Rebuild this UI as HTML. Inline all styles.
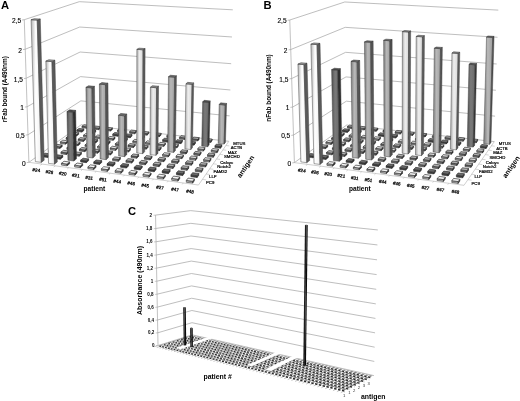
<!DOCTYPE html>
<html><head><meta charset="utf-8"><style>
html,body{margin:0;padding:0;background:#fff;}
svg{display:block;filter:blur(0.3px);}
text{font-family:"Liberation Sans",sans-serif;fill:#000;}
.big{font-size:11.2px;font-weight:bold;}
.tl{font-size:6.6px;stroke:#000;stroke-width:0.12px;}
.pl{font-size:4.6px;stroke:#000;stroke-width:0.25px;}
.al{font-size:4.3px;stroke:#000;stroke-width:0.2px;}
.ax{font-size:6.6px;font-weight:bold;}
.ax2{font-size:7.0px;font-weight:bold;}
.yl{font-size:6.4px;font-weight:bold;}
.tc{font-size:4.5px;font-weight:bold;}
.tc2{font-size:4.2px;fill:#333;}
.yc{font-size:7.0px;font-weight:bold;}
.axc{font-size:6.9px;font-weight:bold;}
</style></head>
<body><svg width="520" height="401" viewBox="0 0 520 401">
<rect width="520" height="401" fill="#fff"/>
<defs><linearGradient id="gW" x1="0" y1="0" x2="1" y2="0"><stop offset="0" stop-color="#b4b4b4"/><stop offset="0.45" stop-color="#ffffff"/><stop offset="1" stop-color="#f0f0f0"/></linearGradient><linearGradient id="gL" x1="0" y1="0" x2="1" y2="0"><stop offset="0" stop-color="#a8a8a8"/><stop offset="0.45" stop-color="#eeeeee"/><stop offset="1" stop-color="#d8d8d8"/></linearGradient><linearGradient id="gM" x1="0" y1="0" x2="1" y2="0"><stop offset="0" stop-color="#7a7a7a"/><stop offset="0.45" stop-color="#b8b8b8"/><stop offset="1" stop-color="#a0a0a0"/></linearGradient><linearGradient id="gD" x1="0" y1="0" x2="1" y2="0"><stop offset="0" stop-color="#505050"/><stop offset="0.45" stop-color="#7a7a7a"/><stop offset="1" stop-color="#6a6a6a"/></linearGradient></defs>
<polyline points="28.90,162.32 81.24,124.74 228.82,141.32" fill="none" stroke="#a2a2a2" stroke-width="0.7"/>
<polyline points="28.01,134.78 80.87,100.86 229.59,115.86" fill="none" stroke="#a2a2a2" stroke-width="0.7"/>
<polyline points="27.10,106.77 80.49,76.62 230.37,89.98" fill="none" stroke="#a2a2a2" stroke-width="0.7"/>
<polyline points="26.18,78.26 80.10,52.02 231.16,63.69" fill="none" stroke="#a2a2a2" stroke-width="0.7"/>
<polyline points="25.24,49.24 79.70,27.04 231.97,36.97" fill="none" stroke="#a2a2a2" stroke-width="0.7"/>
<polyline points="24.28,19.71 79.31,1.68 232.79,9.82" fill="none" stroke="#a2a2a2" stroke-width="0.7"/>
<line x1="28.90" y1="162.32" x2="24.28" y2="19.71" stroke="#a8a8a8" stroke-width="0.7"/>
<line x1="28.90" y1="162.32" x2="198.49" y2="185.02" stroke="#b0b0b0" stroke-width="0.6"/>
<line x1="198.49" y1="185.02" x2="228.82" y2="141.32" stroke="#b0b0b0" stroke-width="0.6"/>
<line x1="26.70" y1="162.62" x2="28.90" y2="162.32" stroke="#999" stroke-width="0.6"/>
<line x1="25.81" y1="135.08" x2="28.01" y2="134.78" stroke="#999" stroke-width="0.6"/>
<line x1="24.90" y1="107.07" x2="27.10" y2="106.77" stroke="#999" stroke-width="0.6"/>
<line x1="23.98" y1="78.56" x2="26.18" y2="78.26" stroke="#999" stroke-width="0.6"/>
<line x1="23.04" y1="49.54" x2="25.24" y2="49.24" stroke="#999" stroke-width="0.6"/>
<line x1="22.08" y1="20.01" x2="24.28" y2="19.71" stroke="#999" stroke-width="0.6"/>
<line x1="42.02" y1="164.08" x2="40.37" y2="165.31" stroke="#aaa" stroke-width="0.5"/>
<line x1="55.32" y1="165.86" x2="53.72" y2="167.11" stroke="#aaa" stroke-width="0.5"/>
<line x1="68.79" y1="167.66" x2="67.24" y2="168.93" stroke="#aaa" stroke-width="0.5"/>
<line x1="82.43" y1="169.49" x2="80.94" y2="170.77" stroke="#aaa" stroke-width="0.5"/>
<line x1="96.26" y1="171.34" x2="94.83" y2="172.64" stroke="#aaa" stroke-width="0.5"/>
<line x1="110.28" y1="173.21" x2="108.90" y2="174.54" stroke="#aaa" stroke-width="0.5"/>
<line x1="124.49" y1="175.11" x2="123.16" y2="176.46" stroke="#aaa" stroke-width="0.5"/>
<line x1="138.88" y1="177.04" x2="137.62" y2="178.40" stroke="#aaa" stroke-width="0.5"/>
<line x1="153.48" y1="179.00" x2="152.28" y2="180.38" stroke="#aaa" stroke-width="0.5"/>
<line x1="168.28" y1="180.98" x2="167.15" y2="182.38" stroke="#aaa" stroke-width="0.5"/>
<line x1="183.28" y1="182.99" x2="182.21" y2="184.40" stroke="#aaa" stroke-width="0.5"/>
<line x1="202.39" y1="179.41" x2="206.16" y2="179.90" stroke="#aaa" stroke-width="0.5"/>
<line x1="206.14" y1="174.01" x2="209.84" y2="174.49" stroke="#aaa" stroke-width="0.5"/>
<line x1="209.74" y1="168.82" x2="213.38" y2="169.27" stroke="#aaa" stroke-width="0.5"/>
<line x1="213.21" y1="163.81" x2="216.79" y2="164.25" stroke="#aaa" stroke-width="0.5"/>
<line x1="216.56" y1="158.99" x2="220.08" y2="159.41" stroke="#aaa" stroke-width="0.5"/>
<line x1="219.79" y1="154.34" x2="223.25" y2="154.75" stroke="#aaa" stroke-width="0.5"/>
<line x1="222.90" y1="149.85" x2="226.31" y2="150.24" stroke="#aaa" stroke-width="0.5"/>
<line x1="225.91" y1="145.51" x2="229.26" y2="145.90" stroke="#aaa" stroke-width="0.5"/>
<polygon points="81.96,127.81 86.86,128.36 86.83,126.82 81.93,126.27" fill="#707070" stroke="#2a2a2a" stroke-width="0.55" stroke-linejoin="round"/>
<polygon points="86.86,128.36 88.93,126.82 88.91,125.29 86.83,126.82" fill="#333" stroke="#2a2a2a" stroke-width="0.55" stroke-linejoin="round"/>
<polygon points="81.93,126.27 86.83,126.82 88.91,125.29 84.04,124.74" fill="#b0b0b0" stroke="#2a2a2a" stroke-width="0.65" stroke-linejoin="round"/>
<polygon points="93.66,129.14 98.62,129.70 98.60,128.15 93.64,127.59" fill="#707070" stroke="#2a2a2a" stroke-width="0.55" stroke-linejoin="round"/>
<polygon points="98.62,129.70 100.63,128.14 100.61,126.60 98.60,128.15" fill="#333" stroke="#2a2a2a" stroke-width="0.55" stroke-linejoin="round"/>
<polygon points="93.64,127.59 98.60,128.15 100.61,126.60 95.68,126.05" fill="#b0b0b0" stroke="#2a2a2a" stroke-width="0.65" stroke-linejoin="round"/>
<polygon points="105.50,130.48 110.51,131.06 110.50,129.50 105.48,128.93" fill="#707070" stroke="#2a2a2a" stroke-width="0.55" stroke-linejoin="round"/>
<polygon points="110.51,131.06 112.45,129.48 112.44,127.93 110.50,129.50" fill="#333" stroke="#2a2a2a" stroke-width="0.55" stroke-linejoin="round"/>
<polygon points="105.48,128.93 110.50,129.50 112.44,127.93 107.46,127.37" fill="#b0b0b0" stroke="#2a2a2a" stroke-width="0.65" stroke-linejoin="round"/>
<polygon points="76.83,131.55 81.79,132.12 81.77,130.56 76.80,129.99" fill="#454545" stroke="#2a2a2a" stroke-width="0.55" stroke-linejoin="round"/>
<polygon points="81.79,132.12 83.94,130.53 83.92,128.98 81.77,130.56" fill="#333" stroke="#2a2a2a" stroke-width="0.55" stroke-linejoin="round"/>
<polygon points="76.80,129.99 81.77,130.56 83.92,128.98 78.98,128.41" fill="#767676" stroke="#2a2a2a" stroke-width="0.65" stroke-linejoin="round"/>
<polygon points="117.47,131.85 122.54,132.42 122.53,130.86 117.46,130.29" fill="#707070" stroke="#2a2a2a" stroke-width="0.55" stroke-linejoin="round"/>
<polygon points="122.54,132.42 124.41,130.83 124.41,129.27 122.53,130.86" fill="#333" stroke="#2a2a2a" stroke-width="0.55" stroke-linejoin="round"/>
<polygon points="117.46,130.29 122.53,130.86 124.41,129.27 119.36,128.71" fill="#b0b0b0" stroke="#2a2a2a" stroke-width="0.65" stroke-linejoin="round"/>
<polygon points="88.66,132.92 93.68,133.50 93.66,131.93 88.64,131.35" fill="#454545" stroke="#2a2a2a" stroke-width="0.55" stroke-linejoin="round"/>
<polygon points="93.68,133.50 95.76,131.89 95.74,130.33 93.66,131.93" fill="#333" stroke="#2a2a2a" stroke-width="0.55" stroke-linejoin="round"/>
<polygon points="88.64,131.35 93.66,131.93 95.74,130.33 90.74,129.76" fill="#767676" stroke="#2a2a2a" stroke-width="0.65" stroke-linejoin="round"/>
<polygon points="129.58,133.22 134.71,133.81 134.71,132.24 129.58,131.66" fill="#707070" stroke="#2a2a2a" stroke-width="0.55" stroke-linejoin="round"/>
<polygon points="134.71,133.81 136.51,132.19 136.51,130.63 134.71,132.24" fill="#333" stroke="#2a2a2a" stroke-width="0.55" stroke-linejoin="round"/>
<polygon points="129.58,131.66 134.71,132.24 136.51,130.63 131.41,130.06" fill="#b0b0b0" stroke="#2a2a2a" stroke-width="0.65" stroke-linejoin="round"/>
<polygon points="100.62,134.31 105.70,134.90 105.69,133.32 100.61,132.74" fill="#454545" stroke="#2a2a2a" stroke-width="0.55" stroke-linejoin="round"/>
<polygon points="105.70,134.90 107.71,133.27 107.70,131.70 105.69,133.32" fill="#333" stroke="#2a2a2a" stroke-width="0.55" stroke-linejoin="round"/>
<polygon points="100.61,132.74 105.69,133.32 107.70,131.70 102.64,131.13" fill="#767676" stroke="#2a2a2a" stroke-width="0.65" stroke-linejoin="round"/>
<polygon points="141.83,134.62 147.02,135.21 147.02,133.63 141.83,133.04" fill="#707070" stroke="#2a2a2a" stroke-width="0.55" stroke-linejoin="round"/>
<polygon points="147.02,135.21 148.74,133.57 148.75,132.00 147.02,133.63" fill="#333" stroke="#2a2a2a" stroke-width="0.55" stroke-linejoin="round"/>
<polygon points="141.83,133.04 147.02,133.63 148.75,132.00 143.59,131.42" fill="#b0b0b0" stroke="#2a2a2a" stroke-width="0.65" stroke-linejoin="round"/>
<polygon points="71.53,135.41 76.57,136.00 76.54,134.42 71.50,133.83" fill="#909090" stroke="#2a2a2a" stroke-width="0.55" stroke-linejoin="round"/>
<polygon points="76.57,136.00 78.78,134.36 78.76,132.78 76.54,134.42" fill="#333" stroke="#2a2a2a" stroke-width="0.55" stroke-linejoin="round"/>
<polygon points="71.50,133.83 76.54,134.42 78.76,132.78 73.75,132.20" fill="#dcdcdc" stroke="#2a2a2a" stroke-width="0.65" stroke-linejoin="round"/>
<polygon points="112.73,135.72 117.87,136.32 117.86,134.73 112.72,134.14" fill="#454545" stroke="#2a2a2a" stroke-width="0.55" stroke-linejoin="round"/>
<polygon points="117.87,136.32 119.80,134.67 119.80,133.09 117.86,134.73" fill="#333" stroke="#2a2a2a" stroke-width="0.55" stroke-linejoin="round"/>
<polygon points="112.72,134.14 117.86,134.73 119.80,133.09 114.68,132.51" fill="#767676" stroke="#2a2a2a" stroke-width="0.65" stroke-linejoin="round"/>
<polygon points="154.22,136.03 159.47,136.63 159.48,135.04 154.23,134.44" fill="#707070" stroke="#2a2a2a" stroke-width="0.55" stroke-linejoin="round"/>
<polygon points="159.47,136.63 161.12,134.97 161.13,133.39 159.48,135.04" fill="#333" stroke="#2a2a2a" stroke-width="0.55" stroke-linejoin="round"/>
<polygon points="154.23,134.44 159.48,135.04 161.13,133.39 155.91,132.81" fill="#b0b0b0" stroke="#2a2a2a" stroke-width="0.65" stroke-linejoin="round"/>
<polygon points="83.49,136.83 88.58,137.43 88.56,135.84 83.46,135.24" fill="#909090" stroke="#2a2a2a" stroke-width="0.55" stroke-linejoin="round"/>
<polygon points="88.58,137.43 90.73,135.77 90.71,134.18 88.56,135.84" fill="#333" stroke="#2a2a2a" stroke-width="0.55" stroke-linejoin="round"/>
<polygon points="83.46,135.24 88.56,135.84 90.71,134.18 85.64,133.59" fill="#dcdcdc" stroke="#2a2a2a" stroke-width="0.65" stroke-linejoin="round"/>
<polygon points="166.76,137.45 172.07,138.06 172.09,136.46 166.77,135.86" fill="#707070" stroke="#2a2a2a" stroke-width="0.55" stroke-linejoin="round"/>
<polygon points="172.07,138.06 173.64,136.39 173.66,134.80 172.09,136.46" fill="#333" stroke="#2a2a2a" stroke-width="0.55" stroke-linejoin="round"/>
<polygon points="166.77,135.86 172.09,136.46 173.66,134.80 168.38,134.21" fill="#b0b0b0" stroke="#2a2a2a" stroke-width="0.65" stroke-linejoin="round"/>
<polygon points="124.97,137.15 130.18,137.75 130.18,136.15 124.97,135.55" fill="#454545" stroke="#2a2a2a" stroke-width="0.55" stroke-linejoin="round"/>
<polygon points="130.18,137.75 132.04,136.08 132.04,134.49 130.18,136.15" fill="#333" stroke="#2a2a2a" stroke-width="0.55" stroke-linejoin="round"/>
<polygon points="124.97,135.55 130.18,136.15 132.04,134.49 126.86,133.90" fill="#767676" stroke="#2a2a2a" stroke-width="0.65" stroke-linejoin="round"/>
<polygon points="95.59,138.27 100.74,138.88 100.72,137.28 95.57,136.67" fill="#909090" stroke="#2a2a2a" stroke-width="0.55" stroke-linejoin="round"/>
<polygon points="100.74,138.88 102.81,137.20 102.80,135.60 100.72,137.28" fill="#333" stroke="#2a2a2a" stroke-width="0.55" stroke-linejoin="round"/>
<polygon points="95.57,136.67 100.72,137.28 102.80,135.60 97.67,135.00" fill="#dcdcdc" stroke="#2a2a2a" stroke-width="0.65" stroke-linejoin="round"/>
<polygon points="179.44,138.90 184.81,139.51 184.84,137.90 179.46,137.29" fill="#707070" stroke="#2a2a2a" stroke-width="0.55" stroke-linejoin="round"/>
<polygon points="184.81,139.51 186.30,137.82 186.33,136.22 184.84,137.90" fill="#333" stroke="#2a2a2a" stroke-width="0.55" stroke-linejoin="round"/>
<polygon points="179.46,137.29 184.84,137.90 186.33,136.22 180.99,135.62" fill="#b0b0b0" stroke="#2a2a2a" stroke-width="0.65" stroke-linejoin="round"/>
<polygon points="66.05,139.40 71.16,140.02 71.13,138.40 66.02,137.79" fill="#707070" stroke="#2a2a2a" stroke-width="0.55" stroke-linejoin="round"/>
<polygon points="71.16,140.02 73.45,138.32 73.42,136.71 71.13,138.40" fill="#333" stroke="#2a2a2a" stroke-width="0.55" stroke-linejoin="round"/>
<polygon points="66.02,137.79 71.13,138.40 73.42,136.71 68.34,136.11" fill="#b0b0b0" stroke="#2a2a2a" stroke-width="0.65" stroke-linejoin="round"/>
<polygon points="137.36,138.59 142.63,139.20 142.63,137.59 137.37,136.99" fill="#454545" stroke="#2a2a2a" stroke-width="0.55" stroke-linejoin="round"/>
<polygon points="142.63,139.20 144.41,137.51 144.42,135.91 142.63,137.59" fill="#333" stroke="#2a2a2a" stroke-width="0.55" stroke-linejoin="round"/>
<polygon points="137.37,136.99 142.63,137.59 144.42,135.91 139.18,135.32" fill="#767676" stroke="#2a2a2a" stroke-width="0.65" stroke-linejoin="round"/>
<polygon points="192.28,140.36 197.71,140.98 197.74,139.36 192.31,138.75" fill="#707070" stroke="#2a2a2a" stroke-width="0.55" stroke-linejoin="round"/>
<polygon points="197.71,140.98 199.12,139.26 199.15,137.66 197.74,139.36" fill="#333" stroke="#2a2a2a" stroke-width="0.55" stroke-linejoin="round"/>
<polygon points="192.31,138.75 197.74,139.36 199.15,137.66 193.75,137.05" fill="#b0b0b0" stroke="#2a2a2a" stroke-width="0.65" stroke-linejoin="round"/>
<polygon points="107.83,139.73 113.04,140.34 113.03,138.73 107.81,138.12" fill="#909090" stroke="#2a2a2a" stroke-width="0.55" stroke-linejoin="round"/>
<polygon points="113.04,140.34 115.04,138.64 115.03,137.04 113.03,138.73" fill="#333" stroke="#2a2a2a" stroke-width="0.55" stroke-linejoin="round"/>
<polygon points="107.81,138.12 113.03,138.73 115.03,137.04 109.85,136.43" fill="#dcdcdc" stroke="#2a2a2a" stroke-width="0.65" stroke-linejoin="round"/>
<polygon points="149.90,140.05 155.23,140.66 155.24,139.05 149.91,138.44" fill="#454545" stroke="#2a2a2a" stroke-width="0.55" stroke-linejoin="round"/>
<polygon points="155.23,140.66 156.93,138.96 156.95,137.35 155.24,139.05" fill="#333" stroke="#2a2a2a" stroke-width="0.55" stroke-linejoin="round"/>
<polygon points="149.91,138.44 155.24,139.05 156.95,137.35 151.65,136.75" fill="#767676" stroke="#2a2a2a" stroke-width="0.65" stroke-linejoin="round"/>
<polygon points="78.14,140.87 83.31,141.50 83.29,139.88 78.12,139.26" fill="#707070" stroke="#2a2a2a" stroke-width="0.55" stroke-linejoin="round"/>
<polygon points="83.31,141.50 85.53,139.77 85.51,138.16 83.29,139.88" fill="#333" stroke="#2a2a2a" stroke-width="0.55" stroke-linejoin="round"/>
<polygon points="78.12,139.26 83.29,139.88 85.51,138.16 80.37,137.55" fill="#b0b0b0" stroke="#2a2a2a" stroke-width="0.65" stroke-linejoin="round"/>
<polygon points="205.26,141.84 210.76,142.46 210.80,140.84 205.30,140.21" fill="#707070" stroke="#2a2a2a" stroke-width="0.55" stroke-linejoin="round"/>
<polygon points="210.76,142.46 212.09,140.73 212.13,139.11 210.80,140.84" fill="#333" stroke="#2a2a2a" stroke-width="0.55" stroke-linejoin="round"/>
<polygon points="205.30,140.21 210.80,140.84 212.13,139.11 206.66,138.50" fill="#b0b0b0" stroke="#2a2a2a" stroke-width="0.65" stroke-linejoin="round"/>
<polygon points="120.21,141.20 125.49,141.83 125.49,140.20 120.21,139.58" fill="#909090" stroke="#2a2a2a" stroke-width="0.55" stroke-linejoin="round"/>
<polygon points="125.49,141.83 127.42,140.10 127.41,138.49 125.49,140.20" fill="#333" stroke="#2a2a2a" stroke-width="0.55" stroke-linejoin="round"/>
<polygon points="120.21,139.58 125.49,140.20 127.41,138.49 122.17,137.88" fill="#dcdcdc" stroke="#2a2a2a" stroke-width="0.65" stroke-linejoin="round"/>
<polygon points="162.59,141.52 167.98,142.15 168.00,140.52 162.60,139.90" fill="#454545" stroke="#2a2a2a" stroke-width="0.55" stroke-linejoin="round"/>
<polygon points="167.98,142.15 169.60,140.42 169.62,138.81 168.00,140.52" fill="#333" stroke="#2a2a2a" stroke-width="0.55" stroke-linejoin="round"/>
<polygon points="162.60,139.90 168.00,140.52 169.62,138.81 164.26,138.19" fill="#767676" stroke="#2a2a2a" stroke-width="0.65" stroke-linejoin="round"/>
<polygon points="218.16,143.37 224.13,144.05 225.25,105.04 219.21,104.46" fill="url(#gM)" stroke="#3a3a3a" stroke-width="0.45" stroke-linejoin="round"/>
<polygon points="224.13,144.05 225.45,142.17 226.58,103.43 225.25,105.04" fill="#505050" stroke="#3a3a3a" stroke-width="0.45" stroke-linejoin="round"/>
<polygon points="219.21,104.46 225.25,105.04 226.58,103.43 220.58,102.86" fill="#686868" stroke="#333" stroke-width="0.5" stroke-linejoin="round"/>
<polygon points="90.38,142.36 95.61,142.99 95.59,141.36 90.36,140.74" fill="#707070" stroke="#2a2a2a" stroke-width="0.55" stroke-linejoin="round"/>
<polygon points="95.61,142.99 97.75,141.25 97.73,139.63 95.59,141.36" fill="#333" stroke="#2a2a2a" stroke-width="0.55" stroke-linejoin="round"/>
<polygon points="90.36,140.74 95.59,141.36 97.73,139.63 92.53,139.01" fill="#b0b0b0" stroke="#2a2a2a" stroke-width="0.65" stroke-linejoin="round"/>
<polygon points="175.43,143.02 180.88,143.65 180.90,142.02 175.45,141.39" fill="#454545" stroke="#2a2a2a" stroke-width="0.55" stroke-linejoin="round"/>
<polygon points="180.88,143.65 182.42,141.90 182.45,140.28 180.90,142.02" fill="#333" stroke="#2a2a2a" stroke-width="0.55" stroke-linejoin="round"/>
<polygon points="175.45,141.39 180.90,142.02 182.45,140.28 177.03,139.66" fill="#767676" stroke="#2a2a2a" stroke-width="0.65" stroke-linejoin="round"/>
<polygon points="60.39,143.53 65.57,144.17 65.54,142.53 60.35,141.90" fill="#909090" stroke="#2a2a2a" stroke-width="0.55" stroke-linejoin="round"/>
<polygon points="65.57,144.17 67.94,142.41 67.91,140.78 65.54,142.53" fill="#333" stroke="#2a2a2a" stroke-width="0.55" stroke-linejoin="round"/>
<polygon points="60.35,141.90 65.54,142.53 67.91,140.78 62.76,140.16" fill="#dcdcdc" stroke="#2a2a2a" stroke-width="0.65" stroke-linejoin="round"/>
<polygon points="132.75,142.69 138.09,143.33 138.09,141.69 132.75,141.07" fill="#909090" stroke="#2a2a2a" stroke-width="0.55" stroke-linejoin="round"/>
<polygon points="138.09,143.33 139.94,141.58 139.94,139.96 138.09,141.69" fill="#333" stroke="#2a2a2a" stroke-width="0.55" stroke-linejoin="round"/>
<polygon points="132.75,141.07 138.09,141.69 139.94,139.96 134.63,139.34" fill="#dcdcdc" stroke="#2a2a2a" stroke-width="0.65" stroke-linejoin="round"/>
<polygon points="188.42,144.53 193.94,145.17 193.97,143.53 188.45,142.89" fill="#454545" stroke="#2a2a2a" stroke-width="0.55" stroke-linejoin="round"/>
<polygon points="193.94,145.17 195.40,143.40 195.43,141.77 193.97,143.53" fill="#333" stroke="#2a2a2a" stroke-width="0.55" stroke-linejoin="round"/>
<polygon points="188.45,142.89 193.97,143.53 195.43,141.77 189.94,141.14" fill="#767676" stroke="#2a2a2a" stroke-width="0.65" stroke-linejoin="round"/>
<polygon points="102.76,143.87 108.05,144.51 108.04,142.87 102.74,142.24" fill="#707070" stroke="#2a2a2a" stroke-width="0.55" stroke-linejoin="round"/>
<polygon points="108.05,144.51 110.12,142.74 110.11,141.12 108.04,142.87" fill="#333" stroke="#2a2a2a" stroke-width="0.55" stroke-linejoin="round"/>
<polygon points="102.74,142.24 108.04,142.87 110.11,141.12 104.85,140.49" fill="#b0b0b0" stroke="#2a2a2a" stroke-width="0.65" stroke-linejoin="round"/>
<polygon points="145.44,144.20 150.84,144.84 150.85,143.20 145.44,142.57" fill="#909090" stroke="#2a2a2a" stroke-width="0.55" stroke-linejoin="round"/>
<polygon points="150.84,144.84 152.61,143.07 152.62,141.44 150.85,143.20" fill="#333" stroke="#2a2a2a" stroke-width="0.55" stroke-linejoin="round"/>
<polygon points="145.44,142.57 150.85,143.20 152.62,141.44 147.24,140.82" fill="#dcdcdc" stroke="#2a2a2a" stroke-width="0.65" stroke-linejoin="round"/>
<polygon points="72.62,145.06 77.86,145.70 77.83,144.05 72.58,143.41" fill="#909090" stroke="#2a2a2a" stroke-width="0.55" stroke-linejoin="round"/>
<polygon points="77.86,145.70 80.15,143.92 80.13,142.28 77.83,144.05" fill="#333" stroke="#2a2a2a" stroke-width="0.55" stroke-linejoin="round"/>
<polygon points="72.58,143.41 77.83,144.05 80.13,142.28 74.91,141.65" fill="#dcdcdc" stroke="#2a2a2a" stroke-width="0.65" stroke-linejoin="round"/>
<polygon points="201.69,146.08 207.68,146.78 208.73,102.49 202.66,101.91" fill="url(#gD)" stroke="#3a3a3a" stroke-width="0.45" stroke-linejoin="round"/>
<polygon points="207.68,146.78 209.15,144.86 210.21,100.88 208.73,102.49" fill="#333333" stroke="#3a3a3a" stroke-width="0.45" stroke-linejoin="round"/>
<polygon points="202.66,101.91 208.73,102.49 210.21,100.88 204.18,100.31" fill="#4e4e4e" stroke="#333" stroke-width="0.5" stroke-linejoin="round"/>
<polygon points="115.29,145.40 120.65,146.04 120.64,144.39 115.28,143.75" fill="#707070" stroke="#2a2a2a" stroke-width="0.55" stroke-linejoin="round"/>
<polygon points="120.65,146.04 122.64,144.26 122.63,142.62 120.64,144.39" fill="#333" stroke="#2a2a2a" stroke-width="0.55" stroke-linejoin="round"/>
<polygon points="115.28,143.75 120.64,144.39 122.63,142.62 117.31,141.99" fill="#b0b0b0" stroke="#2a2a2a" stroke-width="0.65" stroke-linejoin="round"/>
<polygon points="158.28,145.73 163.75,146.38 163.76,144.73 158.29,144.09" fill="#909090" stroke="#2a2a2a" stroke-width="0.55" stroke-linejoin="round"/>
<polygon points="163.75,146.38 165.43,144.59 165.45,142.95 163.76,144.73" fill="#333" stroke="#2a2a2a" stroke-width="0.55" stroke-linejoin="round"/>
<polygon points="158.29,144.09 163.76,144.73 165.45,142.95 160.01,142.32" fill="#dcdcdc" stroke="#2a2a2a" stroke-width="0.65" stroke-linejoin="round"/>
<polygon points="214.88,147.61 220.53,148.26 220.58,146.60 214.92,145.95" fill="#454545" stroke="#2a2a2a" stroke-width="0.55" stroke-linejoin="round"/>
<polygon points="220.53,148.26 221.82,146.45 221.87,144.80 220.58,146.60" fill="#333" stroke="#2a2a2a" stroke-width="0.55" stroke-linejoin="round"/>
<polygon points="214.92,145.95 220.58,146.60 221.87,144.80 216.25,144.16" fill="#767676" stroke="#2a2a2a" stroke-width="0.65" stroke-linejoin="round"/>
<polygon points="84.99,146.60 90.29,147.25 90.27,145.59 84.96,144.95" fill="#909090" stroke="#2a2a2a" stroke-width="0.55" stroke-linejoin="round"/>
<polygon points="90.29,147.25 92.52,145.44 92.50,143.80 90.27,145.59" fill="#333" stroke="#2a2a2a" stroke-width="0.55" stroke-linejoin="round"/>
<polygon points="84.96,144.95 90.27,145.59 92.50,143.80 87.22,143.16" fill="#dcdcdc" stroke="#2a2a2a" stroke-width="0.65" stroke-linejoin="round"/>
<polygon points="54.53,147.80 59.79,148.46 59.75,146.80 54.49,146.14" fill="#707070" stroke="#2a2a2a" stroke-width="0.55" stroke-linejoin="round"/>
<polygon points="59.79,148.46 62.24,146.64 62.20,144.99 59.75,146.80" fill="#333" stroke="#2a2a2a" stroke-width="0.55" stroke-linejoin="round"/>
<polygon points="54.49,146.14 59.75,146.80 62.20,144.99 56.98,144.34" fill="#b0b0b0" stroke="#2a2a2a" stroke-width="0.65" stroke-linejoin="round"/>
<polygon points="171.27,147.28 176.81,147.93 176.83,146.27 171.29,145.62" fill="#909090" stroke="#2a2a2a" stroke-width="0.55" stroke-linejoin="round"/>
<polygon points="176.81,147.93 178.41,146.12 178.43,144.47 176.83,146.27" fill="#333" stroke="#2a2a2a" stroke-width="0.55" stroke-linejoin="round"/>
<polygon points="171.29,145.62 176.83,146.27 178.43,144.47 172.93,143.83" fill="#dcdcdc" stroke="#2a2a2a" stroke-width="0.65" stroke-linejoin="round"/>
<polygon points="127.97,146.94 133.40,147.59 133.40,145.94 127.97,145.29" fill="#707070" stroke="#2a2a2a" stroke-width="0.55" stroke-linejoin="round"/>
<polygon points="133.40,147.59 135.31,145.79 135.31,144.14 133.40,145.94" fill="#333" stroke="#2a2a2a" stroke-width="0.55" stroke-linejoin="round"/>
<polygon points="127.97,145.29 133.40,145.94 135.31,144.14 129.92,143.50" fill="#b0b0b0" stroke="#2a2a2a" stroke-width="0.65" stroke-linejoin="round"/>
<polygon points="97.51,148.16 102.88,148.82 102.87,147.15 97.50,146.50" fill="#909090" stroke="#2a2a2a" stroke-width="0.55" stroke-linejoin="round"/>
<polygon points="102.88,148.82 105.03,146.99 105.01,145.34 102.87,147.15" fill="#333" stroke="#2a2a2a" stroke-width="0.55" stroke-linejoin="round"/>
<polygon points="97.50,146.50 102.87,147.15 105.01,145.34 99.67,144.69" fill="#dcdcdc" stroke="#2a2a2a" stroke-width="0.65" stroke-linejoin="round"/>
<polygon points="184.86,148.86 190.86,149.57 192.07,84.37 185.93,83.83" fill="url(#gL)" stroke="#3a3a3a" stroke-width="0.45" stroke-linejoin="round"/>
<polygon points="190.86,149.57 192.48,147.60 193.70,82.88 192.07,84.37" fill="#5e5e5e" stroke="#3a3a3a" stroke-width="0.45" stroke-linejoin="round"/>
<polygon points="185.93,83.83 192.07,84.37 193.70,82.88 187.61,82.35" fill="#8a8a8a" stroke="#333" stroke-width="0.5" stroke-linejoin="round"/>
<polygon points="140.81,148.51 146.30,149.17 146.31,147.50 140.82,146.84" fill="#707070" stroke="#2a2a2a" stroke-width="0.55" stroke-linejoin="round"/>
<polygon points="146.30,149.17 148.13,147.34 148.14,145.68 146.31,147.50" fill="#333" stroke="#2a2a2a" stroke-width="0.55" stroke-linejoin="round"/>
<polygon points="140.82,146.84 146.31,147.50 148.14,145.68 142.68,145.03" fill="#b0b0b0" stroke="#2a2a2a" stroke-width="0.65" stroke-linejoin="round"/>
<polygon points="66.89,149.38 72.21,150.05 72.18,148.37 66.86,147.71" fill="#707070" stroke="#2a2a2a" stroke-width="0.55" stroke-linejoin="round"/>
<polygon points="72.21,150.05 74.59,148.20 74.56,146.54 72.18,148.37" fill="#333" stroke="#2a2a2a" stroke-width="0.55" stroke-linejoin="round"/>
<polygon points="66.86,147.71 72.18,148.37 74.56,146.54 69.27,145.89" fill="#b0b0b0" stroke="#2a2a2a" stroke-width="0.65" stroke-linejoin="round"/>
<polygon points="197.75,150.43 203.42,151.10 203.46,149.42 197.78,148.76" fill="#909090" stroke="#2a2a2a" stroke-width="0.55" stroke-linejoin="round"/>
<polygon points="203.42,151.10 204.85,149.24 204.88,147.58 203.46,149.42" fill="#333" stroke="#2a2a2a" stroke-width="0.55" stroke-linejoin="round"/>
<polygon points="197.78,148.76 203.46,149.42 204.88,147.58 199.24,146.92" fill="#dcdcdc" stroke="#2a2a2a" stroke-width="0.65" stroke-linejoin="round"/>
<polygon points="110.19,149.74 115.63,150.41 115.62,148.73 110.18,148.07" fill="#909090" stroke="#2a2a2a" stroke-width="0.55" stroke-linejoin="round"/>
<polygon points="115.63,150.41 117.69,148.56 117.69,146.89 115.62,148.73" fill="#333" stroke="#2a2a2a" stroke-width="0.55" stroke-linejoin="round"/>
<polygon points="110.18,148.07 115.62,148.73 117.69,146.89 112.28,146.24" fill="#dcdcdc" stroke="#2a2a2a" stroke-width="0.65" stroke-linejoin="round"/>
<polygon points="153.81,150.09 159.37,150.76 159.38,149.08 153.82,148.42" fill="#707070" stroke="#2a2a2a" stroke-width="0.55" stroke-linejoin="round"/>
<polygon points="159.37,150.76 161.11,148.90 161.13,147.24 159.38,149.08" fill="#333" stroke="#2a2a2a" stroke-width="0.55" stroke-linejoin="round"/>
<polygon points="153.82,148.42 159.38,149.08 161.13,147.24 155.61,146.58" fill="#b0b0b0" stroke="#2a2a2a" stroke-width="0.65" stroke-linejoin="round"/>
<polygon points="211.23,152.03 216.98,152.71 217.02,151.03 211.27,150.35" fill="#909090" stroke="#2a2a2a" stroke-width="0.55" stroke-linejoin="round"/>
<polygon points="216.98,152.71 218.31,150.83 218.36,149.16 217.02,151.03" fill="#333" stroke="#2a2a2a" stroke-width="0.55" stroke-linejoin="round"/>
<polygon points="211.27,150.35 217.02,151.03 218.36,149.16 212.65,148.49" fill="#dcdcdc" stroke="#2a2a2a" stroke-width="0.65" stroke-linejoin="round"/>
<polygon points="79.41,150.98 84.80,151.65 84.77,149.97 79.38,149.30" fill="#707070" stroke="#2a2a2a" stroke-width="0.55" stroke-linejoin="round"/>
<polygon points="84.80,151.65 87.10,149.79 87.07,148.11 84.77,149.97" fill="#333" stroke="#2a2a2a" stroke-width="0.55" stroke-linejoin="round"/>
<polygon points="79.38,149.30 84.77,149.97 87.07,148.11 81.72,147.45" fill="#b0b0b0" stroke="#2a2a2a" stroke-width="0.65" stroke-linejoin="round"/>
<polygon points="48.47,152.23 53.80,152.91 53.76,151.22 48.42,150.54" fill="#707070" stroke="#2a2a2a" stroke-width="0.55" stroke-linejoin="round"/>
<polygon points="53.80,152.91 56.34,151.02 56.30,149.34 53.76,151.22" fill="#333" stroke="#2a2a2a" stroke-width="0.55" stroke-linejoin="round"/>
<polygon points="48.42,150.54 53.76,151.22 56.30,149.34 51.00,148.67" fill="#b0b0b0" stroke="#2a2a2a" stroke-width="0.65" stroke-linejoin="round"/>
<polygon points="123.03,151.34 128.53,152.02 128.53,150.33 123.03,149.66" fill="#909090" stroke="#2a2a2a" stroke-width="0.55" stroke-linejoin="round"/>
<polygon points="128.53,152.02 130.52,150.14 130.52,148.47 128.53,150.33" fill="#333" stroke="#2a2a2a" stroke-width="0.55" stroke-linejoin="round"/>
<polygon points="123.03,149.66 128.53,150.33 130.52,148.47 125.04,147.81" fill="#dcdcdc" stroke="#2a2a2a" stroke-width="0.65" stroke-linejoin="round"/>
<polygon points="167.63,151.70 173.66,152.42 174.64,77.22 168.47,76.70" fill="url(#gM)" stroke="#3a3a3a" stroke-width="0.45" stroke-linejoin="round"/>
<polygon points="173.66,152.42 175.43,150.41 176.45,75.77 174.64,77.22" fill="#555555" stroke="#3a3a3a" stroke-width="0.45" stroke-linejoin="round"/>
<polygon points="168.47,76.70 174.64,77.22 176.45,75.77 170.32,75.25" fill="#6a6a6a" stroke="#333" stroke-width="0.5" stroke-linejoin="round"/>
<polygon points="92.08,152.60 97.54,153.28 97.52,151.59 92.06,150.91" fill="#707070" stroke="#2a2a2a" stroke-width="0.55" stroke-linejoin="round"/>
<polygon points="97.54,153.28 99.76,151.39 99.74,149.71 97.52,151.59" fill="#333" stroke="#2a2a2a" stroke-width="0.55" stroke-linejoin="round"/>
<polygon points="92.06,150.91 97.52,151.59 99.74,149.71 94.32,149.04" fill="#b0b0b0" stroke="#2a2a2a" stroke-width="0.65" stroke-linejoin="round"/>
<polygon points="180.30,153.31 185.99,154.00 186.02,152.30 180.32,151.62" fill="#707070" stroke="#2a2a2a" stroke-width="0.55" stroke-linejoin="round"/>
<polygon points="185.99,154.00 187.56,152.10 187.59,150.42 186.02,152.30" fill="#333" stroke="#2a2a2a" stroke-width="0.55" stroke-linejoin="round"/>
<polygon points="180.32,151.62 186.02,152.30 187.59,150.42 181.93,149.74" fill="#b0b0b0" stroke="#2a2a2a" stroke-width="0.65" stroke-linejoin="round"/>
<polygon points="60.97,153.86 66.37,154.55 66.33,152.85 60.93,152.17" fill="#707070" stroke="#2a2a2a" stroke-width="0.55" stroke-linejoin="round"/>
<polygon points="66.37,154.55 68.83,152.64 68.80,150.95 66.33,152.85" fill="#333" stroke="#2a2a2a" stroke-width="0.55" stroke-linejoin="round"/>
<polygon points="60.93,152.17 66.33,152.85 68.80,150.95 63.43,150.28" fill="#b0b0b0" stroke="#2a2a2a" stroke-width="0.65" stroke-linejoin="round"/>
<polygon points="136.69,152.97 142.67,153.70 143.02,49.82 136.85,49.37" fill="url(#gL)" stroke="#3a3a3a" stroke-width="0.45" stroke-linejoin="round"/>
<polygon points="142.67,153.70 144.69,151.67 145.10,48.58 143.02,49.82" fill="#5e5e5e" stroke="#3a3a3a" stroke-width="0.45" stroke-linejoin="round"/>
<polygon points="136.85,49.37 143.02,49.82 145.10,48.58 138.98,48.13" fill="#8a8a8a" stroke="#333" stroke-width="0.5" stroke-linejoin="round"/>
<polygon points="193.79,154.96 199.55,155.65 199.59,153.95 193.82,153.26" fill="#707070" stroke="#2a2a2a" stroke-width="0.55" stroke-linejoin="round"/>
<polygon points="199.55,155.65 201.03,153.73 201.07,152.03 199.59,153.95" fill="#333" stroke="#2a2a2a" stroke-width="0.55" stroke-linejoin="round"/>
<polygon points="193.82,153.26 199.59,153.95 201.07,152.03 195.34,151.35" fill="#b0b0b0" stroke="#2a2a2a" stroke-width="0.65" stroke-linejoin="round"/>
<polygon points="104.92,154.24 110.44,154.93 110.42,153.22 104.90,152.54" fill="#707070" stroke="#2a2a2a" stroke-width="0.55" stroke-linejoin="round"/>
<polygon points="110.44,154.93 112.57,153.01 112.56,151.32 110.42,153.22" fill="#333" stroke="#2a2a2a" stroke-width="0.55" stroke-linejoin="round"/>
<polygon points="104.90,152.54 110.42,153.22 112.56,151.32 107.08,150.64" fill="#b0b0b0" stroke="#2a2a2a" stroke-width="0.65" stroke-linejoin="round"/>
<polygon points="150.01,154.60 156.06,155.34 156.57,87.78 150.40,87.22" fill="url(#gL)" stroke="#3a3a3a" stroke-width="0.45" stroke-linejoin="round"/>
<polygon points="156.06,155.34 157.99,153.29 158.54,86.23 156.57,87.78" fill="#5e5e5e" stroke="#3a3a3a" stroke-width="0.45" stroke-linejoin="round"/>
<polygon points="150.40,87.22 156.57,87.78 158.54,86.23 152.41,85.68" fill="#8a8a8a" stroke="#333" stroke-width="0.5" stroke-linejoin="round"/>
<polygon points="73.63,155.52 79.10,156.22 79.07,154.51 73.60,153.81" fill="#707070" stroke="#2a2a2a" stroke-width="0.55" stroke-linejoin="round"/>
<polygon points="79.10,156.22 81.48,154.28 81.46,152.58 79.07,154.51" fill="#333" stroke="#2a2a2a" stroke-width="0.55" stroke-linejoin="round"/>
<polygon points="73.60,153.81 79.07,154.51 81.46,152.58 76.02,151.90" fill="#b0b0b0" stroke="#2a2a2a" stroke-width="0.65" stroke-linejoin="round"/>
<polygon points="207.45,156.62 213.29,157.32 213.33,155.61 207.49,154.91" fill="#707070" stroke="#2a2a2a" stroke-width="0.55" stroke-linejoin="round"/>
<polygon points="213.29,157.32 214.67,155.37 214.72,153.67 213.33,155.61" fill="#333" stroke="#2a2a2a" stroke-width="0.55" stroke-linejoin="round"/>
<polygon points="207.49,154.91 213.33,155.61 214.72,153.67 208.92,152.98" fill="#b0b0b0" stroke="#2a2a2a" stroke-width="0.65" stroke-linejoin="round"/>
<polygon points="42.18,156.81 47.59,157.51 47.55,155.79 42.13,155.09" fill="#404040" stroke="#2a2a2a" stroke-width="0.55" stroke-linejoin="round"/>
<polygon points="47.59,157.51 50.23,155.56 50.18,153.85 47.55,155.79" fill="#333" stroke="#2a2a2a" stroke-width="0.55" stroke-linejoin="round"/>
<polygon points="42.13,155.09 47.55,155.79 50.18,153.85 44.80,153.16" fill="#6a6a6a" stroke="#2a2a2a" stroke-width="0.65" stroke-linejoin="round"/>
<polygon points="162.52,156.26 168.23,156.96 168.25,155.25 162.53,154.55" fill="#909090" stroke="#2a2a2a" stroke-width="0.55" stroke-linejoin="round"/>
<polygon points="168.23,156.96 169.95,155.02 169.97,153.32 168.25,155.25" fill="#333" stroke="#2a2a2a" stroke-width="0.55" stroke-linejoin="round"/>
<polygon points="162.53,154.55 168.25,155.25 169.97,153.32 164.29,152.63" fill="#dcdcdc" stroke="#2a2a2a" stroke-width="0.65" stroke-linejoin="round"/>
<polygon points="118.62,155.90 124.61,156.65 124.52,115.86 118.45,115.22" fill="url(#gM)" stroke="#3a3a3a" stroke-width="0.45" stroke-linejoin="round"/>
<polygon points="124.61,156.65 126.81,154.57 126.74,114.08 124.52,115.86" fill="#505050" stroke="#3a3a3a" stroke-width="0.45" stroke-linejoin="round"/>
<polygon points="118.45,115.22 124.52,115.86 126.74,114.08 120.71,113.45" fill="#686868" stroke="#333" stroke-width="0.5" stroke-linejoin="round"/>
<polygon points="86.89,157.21 92.83,157.97 91.97,87.93 85.91,87.36" fill="url(#gM)" stroke="#3a3a3a" stroke-width="0.45" stroke-linejoin="round"/>
<polygon points="92.83,157.97 95.29,155.87 94.49,86.36 91.97,87.93" fill="#555555" stroke="#3a3a3a" stroke-width="0.45" stroke-linejoin="round"/>
<polygon points="85.91,87.36 91.97,87.93 94.49,86.36 88.47,85.80" fill="#6a6a6a" stroke="#333" stroke-width="0.5" stroke-linejoin="round"/>
<polygon points="54.83,158.50 60.31,159.22 60.27,157.49 54.79,156.78" fill="#404040" stroke="#2a2a2a" stroke-width="0.55" stroke-linejoin="round"/>
<polygon points="60.31,159.22 62.87,157.24 62.83,155.52 60.27,157.49" fill="#333" stroke="#2a2a2a" stroke-width="0.55" stroke-linejoin="round"/>
<polygon points="54.79,156.78 60.27,157.49 62.83,155.52 57.38,154.82" fill="#6a6a6a" stroke="#2a2a2a" stroke-width="0.65" stroke-linejoin="round"/>
<polygon points="176.01,157.94 181.80,158.66 181.83,156.93 176.04,156.23" fill="#909090" stroke="#2a2a2a" stroke-width="0.55" stroke-linejoin="round"/>
<polygon points="181.80,158.66 183.43,156.69 183.46,154.97 181.83,156.93" fill="#333" stroke="#2a2a2a" stroke-width="0.55" stroke-linejoin="round"/>
<polygon points="176.04,156.23 181.83,156.93 183.46,154.97 177.71,154.28" fill="#dcdcdc" stroke="#2a2a2a" stroke-width="0.65" stroke-linejoin="round"/>
<polygon points="131.07,157.57 136.73,158.28 136.73,156.56 131.07,155.86" fill="#707070" stroke="#2a2a2a" stroke-width="0.55" stroke-linejoin="round"/>
<polygon points="136.73,158.28 138.70,156.32 138.70,154.61 136.73,156.56" fill="#333" stroke="#2a2a2a" stroke-width="0.55" stroke-linejoin="round"/>
<polygon points="131.07,155.86 136.73,156.56 138.70,154.61 133.08,153.91" fill="#b0b0b0" stroke="#2a2a2a" stroke-width="0.65" stroke-linejoin="round"/>
<polygon points="189.68,159.65 195.54,160.37 195.58,158.63 189.72,157.92" fill="#909090" stroke="#2a2a2a" stroke-width="0.55" stroke-linejoin="round"/>
<polygon points="195.54,160.37 197.08,158.37 197.12,156.65 195.58,158.63" fill="#333" stroke="#2a2a2a" stroke-width="0.55" stroke-linejoin="round"/>
<polygon points="189.72,157.92 195.58,158.63 197.12,156.65 191.29,155.95" fill="#dcdcdc" stroke="#2a2a2a" stroke-width="0.65" stroke-linejoin="round"/>
<polygon points="100.13,158.90 106.14,159.67 105.53,84.69 99.38,84.12" fill="url(#gM)" stroke="#3a3a3a" stroke-width="0.45" stroke-linejoin="round"/>
<polygon points="106.14,159.67 108.50,157.54 107.95,83.13 105.53,84.69" fill="#555555" stroke="#3a3a3a" stroke-width="0.45" stroke-linejoin="round"/>
<polygon points="99.38,84.12 105.53,84.69 107.95,83.13 101.85,82.58" fill="#6a6a6a" stroke="#333" stroke-width="0.5" stroke-linejoin="round"/>
<polygon points="144.40,159.28 150.13,159.99 150.14,158.26 144.40,157.55" fill="#707070" stroke="#2a2a2a" stroke-width="0.55" stroke-linejoin="round"/>
<polygon points="150.13,159.99 152.01,158.00 152.02,156.28 150.14,158.26" fill="#333" stroke="#2a2a2a" stroke-width="0.55" stroke-linejoin="round"/>
<polygon points="144.40,157.55 150.14,158.26 152.02,156.28 146.32,155.58" fill="#b0b0b0" stroke="#2a2a2a" stroke-width="0.65" stroke-linejoin="round"/>
<polygon points="67.92,160.24 73.87,161.02 72.98,112.20 66.95,111.55" fill="url(#gD)" stroke="#3a3a3a" stroke-width="0.45" stroke-linejoin="round"/>
<polygon points="73.87,161.02 76.52,158.87 75.67,110.42 72.98,112.20" fill="#2e2e2e" stroke="#3a3a3a" stroke-width="0.45" stroke-linejoin="round"/>
<polygon points="66.95,111.55 72.98,112.20 75.67,110.42 69.68,109.79" fill="#4a4a4a" stroke="#333" stroke-width="0.5" stroke-linejoin="round"/>
<polygon points="203.53,161.38 209.47,162.10 209.51,160.36 203.57,159.64" fill="#909090" stroke="#2a2a2a" stroke-width="0.55" stroke-linejoin="round"/>
<polygon points="209.47,162.10 210.91,160.08 210.95,158.35 209.51,160.36" fill="#333" stroke="#2a2a2a" stroke-width="0.55" stroke-linejoin="round"/>
<polygon points="203.57,159.64 209.51,160.36 210.95,158.35 205.05,157.64" fill="#dcdcdc" stroke="#2a2a2a" stroke-width="0.65" stroke-linejoin="round"/>
<polygon points="35.37,161.60 41.26,162.39 37.21,20.11 31.07,19.73" fill="url(#gW)" stroke="#3a3a3a" stroke-width="0.45" stroke-linejoin="round"/>
<polygon points="41.26,162.39 44.18,160.22 40.29,19.06 37.21,20.11" fill="#5a5a5a" stroke="#3a3a3a" stroke-width="0.45" stroke-linejoin="round"/>
<polygon points="31.07,19.73 37.21,20.11 40.29,19.06 34.20,18.68" fill="#9a9a9a" stroke="#333" stroke-width="0.5" stroke-linejoin="round"/>
<polygon points="112.60,160.62 118.28,161.34 118.27,159.60 112.59,158.88" fill="#707070" stroke="#2a2a2a" stroke-width="0.55" stroke-linejoin="round"/>
<polygon points="118.28,161.34 120.41,159.33 120.41,157.60 118.27,159.60" fill="#333" stroke="#2a2a2a" stroke-width="0.55" stroke-linejoin="round"/>
<polygon points="112.59,158.88 118.27,159.60 120.41,157.60 114.76,156.89" fill="#b0b0b0" stroke="#2a2a2a" stroke-width="0.65" stroke-linejoin="round"/>
<polygon points="157.90,161.00 163.70,161.73 163.72,159.98 157.91,159.26" fill="#707070" stroke="#2a2a2a" stroke-width="0.55" stroke-linejoin="round"/>
<polygon points="163.70,161.73 165.49,159.71 165.51,157.98 163.72,159.98" fill="#333" stroke="#2a2a2a" stroke-width="0.55" stroke-linejoin="round"/>
<polygon points="157.91,159.26 163.72,159.98 165.51,157.98 159.74,157.27" fill="#b0b0b0" stroke="#2a2a2a" stroke-width="0.65" stroke-linejoin="round"/>
<polygon points="80.63,161.96 86.25,162.70 86.22,160.95 80.60,160.22" fill="#404040" stroke="#2a2a2a" stroke-width="0.55" stroke-linejoin="round"/>
<polygon points="86.25,162.70 88.64,160.66 88.61,158.93 86.22,160.95" fill="#333" stroke="#2a2a2a" stroke-width="0.55" stroke-linejoin="round"/>
<polygon points="80.60,160.22 86.22,160.95 88.61,158.93 83.02,158.21" fill="#6a6a6a" stroke="#2a2a2a" stroke-width="0.65" stroke-linejoin="round"/>
<polygon points="48.50,163.35 54.47,164.14 51.97,61.63 45.82,61.12" fill="url(#gW)" stroke="#3a3a3a" stroke-width="0.45" stroke-linejoin="round"/>
<polygon points="54.47,164.14 57.30,161.94 54.91,60.23 51.97,61.63" fill="#5a5a5a" stroke="#3a3a3a" stroke-width="0.45" stroke-linejoin="round"/>
<polygon points="45.82,61.12 51.97,61.63 54.91,60.23 48.81,59.73" fill="#9a9a9a" stroke="#333" stroke-width="0.5" stroke-linejoin="round"/>
<polygon points="171.57,162.75 177.46,163.48 177.48,161.73 171.60,161.00" fill="#707070" stroke="#2a2a2a" stroke-width="0.55" stroke-linejoin="round"/>
<polygon points="177.46,163.48 179.15,161.44 179.17,159.70 177.48,161.73" fill="#333" stroke="#2a2a2a" stroke-width="0.55" stroke-linejoin="round"/>
<polygon points="171.60,161.00 177.48,161.73 179.17,159.70 173.33,158.98" fill="#b0b0b0" stroke="#2a2a2a" stroke-width="0.65" stroke-linejoin="round"/>
<polygon points="125.93,162.36 131.68,163.09 131.68,161.34 125.93,160.61" fill="#707070" stroke="#2a2a2a" stroke-width="0.55" stroke-linejoin="round"/>
<polygon points="131.68,163.09 133.72,161.06 133.72,159.32 131.68,161.34" fill="#333" stroke="#2a2a2a" stroke-width="0.55" stroke-linejoin="round"/>
<polygon points="125.93,160.61 131.68,161.34 133.72,159.32 128.01,158.60" fill="#b0b0b0" stroke="#2a2a2a" stroke-width="0.65" stroke-linejoin="round"/>
<polygon points="93.78,163.73 99.47,164.47 99.45,162.71 93.75,161.97" fill="#404040" stroke="#2a2a2a" stroke-width="0.55" stroke-linejoin="round"/>
<polygon points="99.47,164.47 101.77,162.41 101.75,160.66 99.45,162.71" fill="#333" stroke="#2a2a2a" stroke-width="0.55" stroke-linejoin="round"/>
<polygon points="93.75,161.97 99.45,162.71 101.75,160.66 96.09,159.94" fill="#6a6a6a" stroke="#2a2a2a" stroke-width="0.65" stroke-linejoin="round"/>
<polygon points="185.43,164.52 191.39,165.26 191.42,163.50 185.46,162.76" fill="#707070" stroke="#2a2a2a" stroke-width="0.55" stroke-linejoin="round"/>
<polygon points="191.39,165.26 192.98,163.19 193.02,161.44 191.42,163.50" fill="#333" stroke="#2a2a2a" stroke-width="0.55" stroke-linejoin="round"/>
<polygon points="185.46,162.76 191.42,163.50 193.02,161.44 187.10,160.71" fill="#b0b0b0" stroke="#2a2a2a" stroke-width="0.65" stroke-linejoin="round"/>
<polygon points="61.44,165.10 67.07,165.85 67.04,164.08 61.40,163.34" fill="#b0b0b0" stroke="#2a2a2a" stroke-width="0.55" stroke-linejoin="round"/>
<polygon points="67.07,165.85 69.64,163.77 69.60,162.01 67.04,164.08" fill="#333" stroke="#2a2a2a" stroke-width="0.55" stroke-linejoin="round"/>
<polygon points="61.40,163.34 67.04,164.08 69.60,162.01 64.00,161.28" fill="#f4f4f4" stroke="#2a2a2a" stroke-width="0.65" stroke-linejoin="round"/>
<polygon points="139.43,164.13 145.26,164.87 145.26,163.11 139.43,162.37" fill="#707070" stroke="#2a2a2a" stroke-width="0.55" stroke-linejoin="round"/>
<polygon points="145.26,164.87 147.21,162.81 147.21,161.06 145.26,163.11" fill="#333" stroke="#2a2a2a" stroke-width="0.55" stroke-linejoin="round"/>
<polygon points="139.43,162.37 145.26,163.11 147.21,161.06 141.43,160.33" fill="#b0b0b0" stroke="#2a2a2a" stroke-width="0.65" stroke-linejoin="round"/>
<polygon points="199.47,166.31 205.50,167.06 205.54,165.29 199.50,164.54" fill="#707070" stroke="#2a2a2a" stroke-width="0.55" stroke-linejoin="round"/>
<polygon points="205.50,167.06 207.00,164.97 207.04,163.20 205.54,165.29" fill="#333" stroke="#2a2a2a" stroke-width="0.55" stroke-linejoin="round"/>
<polygon points="199.50,164.54 205.54,165.29 207.04,163.20 201.04,162.46" fill="#b0b0b0" stroke="#2a2a2a" stroke-width="0.65" stroke-linejoin="round"/>
<polygon points="107.10,165.51 112.87,166.26 112.86,164.49 107.08,163.75" fill="#404040" stroke="#2a2a2a" stroke-width="0.55" stroke-linejoin="round"/>
<polygon points="112.87,166.26 115.08,164.18 115.07,162.42 112.86,164.49" fill="#333" stroke="#2a2a2a" stroke-width="0.55" stroke-linejoin="round"/>
<polygon points="107.08,163.75 112.86,164.49 115.07,162.42 109.34,161.68" fill="#6a6a6a" stroke="#2a2a2a" stroke-width="0.65" stroke-linejoin="round"/>
<polygon points="153.11,165.91 159.01,166.67 159.03,164.90 153.12,164.15" fill="#707070" stroke="#2a2a2a" stroke-width="0.55" stroke-linejoin="round"/>
<polygon points="159.01,166.67 160.87,164.58 160.88,162.82 159.03,164.90" fill="#333" stroke="#2a2a2a" stroke-width="0.55" stroke-linejoin="round"/>
<polygon points="153.12,164.15 159.03,164.90 160.88,162.82 155.02,162.08" fill="#b0b0b0" stroke="#2a2a2a" stroke-width="0.65" stroke-linejoin="round"/>
<polygon points="74.58,166.91 80.29,167.67 80.26,165.89 74.54,165.13" fill="#b0b0b0" stroke="#2a2a2a" stroke-width="0.55" stroke-linejoin="round"/>
<polygon points="80.29,167.67 82.76,165.56 82.74,163.79 80.26,165.89" fill="#333" stroke="#2a2a2a" stroke-width="0.55" stroke-linejoin="round"/>
<polygon points="74.54,165.13 80.26,165.89 82.74,163.79 77.06,163.05" fill="#f4f4f4" stroke="#2a2a2a" stroke-width="0.65" stroke-linejoin="round"/>
<polygon points="166.97,167.73 172.95,168.49 172.97,166.71 166.99,165.95" fill="#707070" stroke="#2a2a2a" stroke-width="0.55" stroke-linejoin="round"/>
<polygon points="172.95,168.49 174.71,166.37 174.73,164.60 172.97,166.71" fill="#333" stroke="#2a2a2a" stroke-width="0.55" stroke-linejoin="round"/>
<polygon points="166.99,165.95 172.97,166.71 174.73,164.60 168.79,163.85" fill="#b0b0b0" stroke="#2a2a2a" stroke-width="0.65" stroke-linejoin="round"/>
<polygon points="120.60,167.32 126.44,168.09 126.44,166.30 120.59,165.55" fill="#404040" stroke="#2a2a2a" stroke-width="0.55" stroke-linejoin="round"/>
<polygon points="126.44,168.09 128.56,165.97 128.56,164.20 126.44,166.30" fill="#333" stroke="#2a2a2a" stroke-width="0.55" stroke-linejoin="round"/>
<polygon points="120.59,165.55 126.44,166.30 128.56,164.20 122.75,163.46" fill="#6a6a6a" stroke="#2a2a2a" stroke-width="0.65" stroke-linejoin="round"/>
<polygon points="87.89,168.74 93.68,169.51 93.65,167.72 87.87,166.95" fill="#b0b0b0" stroke="#2a2a2a" stroke-width="0.55" stroke-linejoin="round"/>
<polygon points="93.68,169.51 96.07,167.37 96.05,165.59 93.65,167.72" fill="#333" stroke="#2a2a2a" stroke-width="0.55" stroke-linejoin="round"/>
<polygon points="87.87,166.95 93.65,167.72 96.05,165.59 90.30,164.84" fill="#f4f4f4" stroke="#2a2a2a" stroke-width="0.65" stroke-linejoin="round"/>
<polygon points="181.01,169.57 187.07,170.34 187.10,168.55 181.04,167.78" fill="#707070" stroke="#2a2a2a" stroke-width="0.55" stroke-linejoin="round"/>
<polygon points="187.07,170.34 188.73,168.19 188.76,166.41 187.10,168.55" fill="#333" stroke="#2a2a2a" stroke-width="0.55" stroke-linejoin="round"/>
<polygon points="181.04,167.78 187.10,168.55 188.76,166.41 182.74,165.65" fill="#b0b0b0" stroke="#2a2a2a" stroke-width="0.65" stroke-linejoin="round"/>
<polygon points="134.27,169.16 140.20,169.93 140.20,168.14 134.28,167.37" fill="#404040" stroke="#2a2a2a" stroke-width="0.55" stroke-linejoin="round"/>
<polygon points="140.20,169.93 142.22,167.79 142.23,166.01 140.20,168.14" fill="#333" stroke="#2a2a2a" stroke-width="0.55" stroke-linejoin="round"/>
<polygon points="134.28,167.37 140.20,168.14 142.23,166.01 136.35,165.25" fill="#6a6a6a" stroke="#2a2a2a" stroke-width="0.65" stroke-linejoin="round"/>
<polygon points="195.25,171.43 201.38,172.21 201.42,170.41 195.28,169.63" fill="#707070" stroke="#2a2a2a" stroke-width="0.55" stroke-linejoin="round"/>
<polygon points="201.38,172.21 202.94,170.03 202.98,168.24 201.42,170.41" fill="#333" stroke="#2a2a2a" stroke-width="0.55" stroke-linejoin="round"/>
<polygon points="195.28,169.63 201.42,170.41 202.98,168.24 196.88,167.47" fill="#b0b0b0" stroke="#2a2a2a" stroke-width="0.65" stroke-linejoin="round"/>
<polygon points="101.38,170.59 107.25,171.38 107.23,169.57 101.37,168.80" fill="#b0b0b0" stroke="#2a2a2a" stroke-width="0.55" stroke-linejoin="round"/>
<polygon points="107.25,171.38 109.54,169.21 109.53,167.42 107.23,169.57" fill="#333" stroke="#2a2a2a" stroke-width="0.55" stroke-linejoin="round"/>
<polygon points="101.37,168.80 107.23,169.57 109.53,167.42 103.71,166.66" fill="#f4f4f4" stroke="#2a2a2a" stroke-width="0.65" stroke-linejoin="round"/>
<polygon points="148.14,171.02 154.14,171.80 154.15,170.00 148.15,169.22" fill="#404040" stroke="#2a2a2a" stroke-width="0.55" stroke-linejoin="round"/>
<polygon points="154.14,171.80 156.07,169.63 156.08,167.84 154.15,170.00" fill="#333" stroke="#2a2a2a" stroke-width="0.55" stroke-linejoin="round"/>
<polygon points="148.15,169.22 154.15,170.00 156.08,167.84 150.12,167.07" fill="#6a6a6a" stroke="#2a2a2a" stroke-width="0.65" stroke-linejoin="round"/>
<polygon points="115.06,172.48 121.00,173.27 120.99,171.45 115.05,170.67" fill="#b0b0b0" stroke="#2a2a2a" stroke-width="0.55" stroke-linejoin="round"/>
<polygon points="121.00,173.27 123.20,171.07 123.20,169.27 120.99,171.45" fill="#333" stroke="#2a2a2a" stroke-width="0.55" stroke-linejoin="round"/>
<polygon points="115.05,170.67 120.99,171.45 123.20,169.27 117.30,168.50" fill="#f4f4f4" stroke="#2a2a2a" stroke-width="0.65" stroke-linejoin="round"/>
<polygon points="162.19,172.90 168.27,173.69 168.29,171.88 162.20,171.09" fill="#404040" stroke="#2a2a2a" stroke-width="0.55" stroke-linejoin="round"/>
<polygon points="168.27,173.69 170.10,171.49 170.12,169.69 168.29,171.88" fill="#333" stroke="#2a2a2a" stroke-width="0.55" stroke-linejoin="round"/>
<polygon points="162.20,171.09 168.29,171.88 170.12,169.69 164.08,168.91" fill="#6a6a6a" stroke="#2a2a2a" stroke-width="0.65" stroke-linejoin="round"/>
<polygon points="176.43,174.81 182.59,175.61 182.62,173.79 176.45,172.99" fill="#404040" stroke="#2a2a2a" stroke-width="0.55" stroke-linejoin="round"/>
<polygon points="182.59,175.61 184.32,173.38 184.35,171.57 182.62,173.79" fill="#333" stroke="#2a2a2a" stroke-width="0.55" stroke-linejoin="round"/>
<polygon points="176.45,172.99 182.62,173.79 184.35,171.57 178.23,170.78" fill="#6a6a6a" stroke="#2a2a2a" stroke-width="0.65" stroke-linejoin="round"/>
<polygon points="128.92,174.38 134.94,175.18 134.94,173.36 128.92,172.56" fill="#b0b0b0" stroke="#2a2a2a" stroke-width="0.55" stroke-linejoin="round"/>
<polygon points="134.94,175.18 137.05,172.96 137.05,171.15 134.94,173.36" fill="#333" stroke="#2a2a2a" stroke-width="0.55" stroke-linejoin="round"/>
<polygon points="128.92,172.56 134.94,173.36 137.05,171.15 131.07,170.36" fill="#f4f4f4" stroke="#2a2a2a" stroke-width="0.65" stroke-linejoin="round"/>
<polygon points="190.86,176.75 197.11,177.56 197.15,175.72 190.90,174.91" fill="#404040" stroke="#2a2a2a" stroke-width="0.55" stroke-linejoin="round"/>
<polygon points="197.11,177.56 198.73,175.30 198.77,173.47 197.15,175.72" fill="#333" stroke="#2a2a2a" stroke-width="0.55" stroke-linejoin="round"/>
<polygon points="190.90,174.91 197.15,175.72 198.77,173.47 192.57,172.68" fill="#6a6a6a" stroke="#2a2a2a" stroke-width="0.65" stroke-linejoin="round"/>
<polygon points="142.97,176.31 149.07,177.13 149.08,175.29 142.98,174.48" fill="#b0b0b0" stroke="#2a2a2a" stroke-width="0.55" stroke-linejoin="round"/>
<polygon points="149.07,177.13 151.08,174.87 151.09,173.05 149.08,175.29" fill="#333" stroke="#2a2a2a" stroke-width="0.55" stroke-linejoin="round"/>
<polygon points="142.98,174.48 149.08,175.29 151.09,173.05 145.03,172.25" fill="#f4f4f4" stroke="#2a2a2a" stroke-width="0.65" stroke-linejoin="round"/>
<polygon points="157.22,178.27 163.40,179.10 163.42,177.25 157.23,176.43" fill="#b0b0b0" stroke="#2a2a2a" stroke-width="0.55" stroke-linejoin="round"/>
<polygon points="163.40,179.10 165.31,176.81 165.33,174.98 163.42,177.25" fill="#333" stroke="#2a2a2a" stroke-width="0.55" stroke-linejoin="round"/>
<polygon points="157.23,176.43 163.42,177.25 165.33,174.98 159.18,174.17" fill="#f4f4f4" stroke="#2a2a2a" stroke-width="0.65" stroke-linejoin="round"/>
<polygon points="171.66,180.26 177.93,181.10 177.96,179.24 171.68,178.41" fill="#b0b0b0" stroke="#2a2a2a" stroke-width="0.55" stroke-linejoin="round"/>
<polygon points="177.93,181.10 179.73,178.78 179.76,176.93 177.96,179.24" fill="#333" stroke="#2a2a2a" stroke-width="0.55" stroke-linejoin="round"/>
<polygon points="171.68,178.41 177.96,179.24 179.76,176.93 173.53,176.11" fill="#f4f4f4" stroke="#2a2a2a" stroke-width="0.65" stroke-linejoin="round"/>
<polygon points="186.30,182.27 192.66,183.12 192.70,181.25 186.34,180.41" fill="#b0b0b0" stroke="#2a2a2a" stroke-width="0.55" stroke-linejoin="round"/>
<polygon points="192.66,183.12 194.35,180.77 194.39,178.91 192.70,181.25" fill="#333" stroke="#2a2a2a" stroke-width="0.55" stroke-linejoin="round"/>
<polygon points="186.34,180.41 192.70,181.25 194.39,178.91 188.08,178.08" fill="#f4f4f4" stroke="#2a2a2a" stroke-width="0.65" stroke-linejoin="round"/>
<text x="25.70" y="165.62" class="tl" text-anchor="end">0</text>
<text x="24.81" y="138.08" class="tl" text-anchor="end">0,5</text>
<text x="23.90" y="110.07" class="tl" text-anchor="end">1</text>
<text x="22.98" y="81.56" class="tl" text-anchor="end">1,5</text>
<text x="22.04" y="52.54" class="tl" text-anchor="end">2</text>
<text x="21.08" y="23.01" class="tl" text-anchor="end">2,5</text>
<text x="1.0" y="9.2" class="big">A</text>
<text x="36.40" y="170.00" dy="1.7" class="pl" text-anchor="middle" transform="rotate(9 36.40 170.00)">#24</text>
<text x="49.60" y="171.80" dy="1.7" class="pl" text-anchor="middle" transform="rotate(9 49.60 171.80)">#26</text>
<text x="62.80" y="173.50" dy="1.7" class="pl" text-anchor="middle" transform="rotate(9 62.80 173.50)">#20</text>
<text x="75.90" y="175.30" dy="1.7" class="pl" text-anchor="middle" transform="rotate(9 75.90 175.30)">#21</text>
<text x="89.20" y="177.70" dy="1.7" class="pl" text-anchor="middle" transform="rotate(9 89.20 177.70)">#31</text>
<text x="103.00" y="179.50" dy="1.7" class="pl" text-anchor="middle" transform="rotate(9 103.00 179.50)">#51</text>
<text x="117.20" y="181.30" dy="1.7" class="pl" text-anchor="middle" transform="rotate(9 117.20 181.30)">#44</text>
<text x="131.30" y="183.20" dy="1.7" class="pl" text-anchor="middle" transform="rotate(9 131.30 183.20)">#46</text>
<text x="145.30" y="185.30" dy="1.7" class="pl" text-anchor="middle" transform="rotate(9 145.30 185.30)">#45</text>
<text x="160.00" y="187.30" dy="1.7" class="pl" text-anchor="middle" transform="rotate(9 160.00 187.30)">#27</text>
<text x="175.00" y="189.30" dy="1.7" class="pl" text-anchor="middle" transform="rotate(9 175.00 189.30)">#47</text>
<text x="190.00" y="191.30" dy="1.7" class="pl" text-anchor="middle" transform="rotate(9 190.00 191.30)">#48</text>
<text x="206.00" y="184.20" class="al">PC9</text>
<text x="209.00" y="177.80" class="al">LLP</text>
<text x="213.50" y="172.80" class="al">FAM32</text>
<text x="217.20" y="168.00" class="al">Notch2</text>
<text x="220.20" y="163.60" class="al">Calcyc</text>
<text x="224.00" y="158.30" class="al">SMCHD</text>
<text x="227.70" y="153.80" class="al">MAZ</text>
<text x="230.70" y="149.30" class="al">ACTB</text>
<text x="233.20" y="144.80" class="al">MTUS</text>
<text x="83.6" y="191.1" class="ax">patient</text>
<text x="246.0" y="166.8" class="ax2" text-anchor="middle" transform="rotate(-55.7 246.0 166.8)" dy="1.9">antigen</text>
<text x="7.4" y="89.2" class="yl" text-anchor="middle" transform="rotate(-90 7.4 89.2)">rFab bound (A490nm)</text>
<polyline points="294.40,162.62 346.74,125.04 494.32,141.62" fill="none" stroke="#a2a2a2" stroke-width="0.7"/>
<polyline points="293.51,135.08 346.37,101.16 495.09,116.16" fill="none" stroke="#a2a2a2" stroke-width="0.7"/>
<polyline points="292.60,107.07 345.99,76.92 495.87,90.28" fill="none" stroke="#a2a2a2" stroke-width="0.7"/>
<polyline points="291.68,78.56 345.60,52.32 496.66,63.99" fill="none" stroke="#a2a2a2" stroke-width="0.7"/>
<polyline points="290.74,49.54 345.20,27.34 497.47,37.27" fill="none" stroke="#a2a2a2" stroke-width="0.7"/>
<polyline points="289.78,20.01 344.81,1.98 498.29,10.12" fill="none" stroke="#a2a2a2" stroke-width="0.7"/>
<line x1="294.40" y1="162.62" x2="289.78" y2="20.01" stroke="#a8a8a8" stroke-width="0.7"/>
<line x1="294.40" y1="162.62" x2="463.99" y2="185.32" stroke="#b0b0b0" stroke-width="0.6"/>
<line x1="463.99" y1="185.32" x2="494.32" y2="141.62" stroke="#b0b0b0" stroke-width="0.6"/>
<line x1="292.20" y1="162.92" x2="294.40" y2="162.62" stroke="#999" stroke-width="0.6"/>
<line x1="291.31" y1="135.38" x2="293.51" y2="135.08" stroke="#999" stroke-width="0.6"/>
<line x1="290.40" y1="107.37" x2="292.60" y2="107.07" stroke="#999" stroke-width="0.6"/>
<line x1="289.48" y1="78.86" x2="291.68" y2="78.56" stroke="#999" stroke-width="0.6"/>
<line x1="288.54" y1="49.84" x2="290.74" y2="49.54" stroke="#999" stroke-width="0.6"/>
<line x1="287.58" y1="20.31" x2="289.78" y2="20.01" stroke="#999" stroke-width="0.6"/>
<line x1="307.52" y1="164.38" x2="305.87" y2="165.61" stroke="#aaa" stroke-width="0.5"/>
<line x1="320.82" y1="166.16" x2="319.22" y2="167.41" stroke="#aaa" stroke-width="0.5"/>
<line x1="334.29" y1="167.96" x2="332.74" y2="169.23" stroke="#aaa" stroke-width="0.5"/>
<line x1="347.93" y1="169.79" x2="346.44" y2="171.07" stroke="#aaa" stroke-width="0.5"/>
<line x1="361.76" y1="171.64" x2="360.33" y2="172.94" stroke="#aaa" stroke-width="0.5"/>
<line x1="375.78" y1="173.51" x2="374.40" y2="174.84" stroke="#aaa" stroke-width="0.5"/>
<line x1="389.99" y1="175.41" x2="388.66" y2="176.76" stroke="#aaa" stroke-width="0.5"/>
<line x1="404.38" y1="177.34" x2="403.12" y2="178.70" stroke="#aaa" stroke-width="0.5"/>
<line x1="418.98" y1="179.30" x2="417.78" y2="180.68" stroke="#aaa" stroke-width="0.5"/>
<line x1="433.78" y1="181.28" x2="432.65" y2="182.68" stroke="#aaa" stroke-width="0.5"/>
<line x1="448.78" y1="183.29" x2="447.71" y2="184.70" stroke="#aaa" stroke-width="0.5"/>
<line x1="467.89" y1="179.71" x2="471.66" y2="180.20" stroke="#aaa" stroke-width="0.5"/>
<line x1="471.64" y1="174.31" x2="475.34" y2="174.79" stroke="#aaa" stroke-width="0.5"/>
<line x1="475.24" y1="169.12" x2="478.88" y2="169.57" stroke="#aaa" stroke-width="0.5"/>
<line x1="478.71" y1="164.11" x2="482.29" y2="164.55" stroke="#aaa" stroke-width="0.5"/>
<line x1="482.06" y1="159.29" x2="485.58" y2="159.71" stroke="#aaa" stroke-width="0.5"/>
<line x1="485.29" y1="154.64" x2="488.75" y2="155.05" stroke="#aaa" stroke-width="0.5"/>
<line x1="488.40" y1="150.15" x2="491.81" y2="150.54" stroke="#aaa" stroke-width="0.5"/>
<line x1="491.41" y1="145.81" x2="494.76" y2="146.20" stroke="#aaa" stroke-width="0.5"/>
<polygon points="347.46,128.11 352.36,128.66 352.33,127.12 347.43,126.57" fill="#707070" stroke="#2a2a2a" stroke-width="0.55" stroke-linejoin="round"/>
<polygon points="352.36,128.66 354.43,127.12 354.41,125.59 352.33,127.12" fill="#333" stroke="#2a2a2a" stroke-width="0.55" stroke-linejoin="round"/>
<polygon points="347.43,126.57 352.33,127.12 354.41,125.59 349.54,125.04" fill="#b0b0b0" stroke="#2a2a2a" stroke-width="0.65" stroke-linejoin="round"/>
<polygon points="359.16,129.44 364.12,130.00 364.10,128.45 359.14,127.89" fill="#707070" stroke="#2a2a2a" stroke-width="0.55" stroke-linejoin="round"/>
<polygon points="364.12,130.00 366.13,128.44 366.11,126.90 364.10,128.45" fill="#333" stroke="#2a2a2a" stroke-width="0.55" stroke-linejoin="round"/>
<polygon points="359.14,127.89 364.10,128.45 366.11,126.90 361.18,126.35" fill="#b0b0b0" stroke="#2a2a2a" stroke-width="0.65" stroke-linejoin="round"/>
<polygon points="371.00,130.78 376.01,131.36 376.00,129.80 370.98,129.23" fill="#707070" stroke="#2a2a2a" stroke-width="0.55" stroke-linejoin="round"/>
<polygon points="376.01,131.36 377.95,129.78 377.94,128.23 376.00,129.80" fill="#333" stroke="#2a2a2a" stroke-width="0.55" stroke-linejoin="round"/>
<polygon points="370.98,129.23 376.00,129.80 377.94,128.23 372.96,127.67" fill="#b0b0b0" stroke="#2a2a2a" stroke-width="0.65" stroke-linejoin="round"/>
<polygon points="342.33,131.85 347.29,132.42 347.27,130.86 342.30,130.29" fill="#454545" stroke="#2a2a2a" stroke-width="0.55" stroke-linejoin="round"/>
<polygon points="347.29,132.42 349.44,130.83 349.42,129.28 347.27,130.86" fill="#333" stroke="#2a2a2a" stroke-width="0.55" stroke-linejoin="round"/>
<polygon points="342.30,130.29 347.27,130.86 349.42,129.28 344.48,128.71" fill="#767676" stroke="#2a2a2a" stroke-width="0.65" stroke-linejoin="round"/>
<polygon points="382.97,132.15 388.04,132.72 388.03,131.16 382.96,130.59" fill="#707070" stroke="#2a2a2a" stroke-width="0.55" stroke-linejoin="round"/>
<polygon points="388.04,132.72 389.91,131.13 389.91,129.57 388.03,131.16" fill="#333" stroke="#2a2a2a" stroke-width="0.55" stroke-linejoin="round"/>
<polygon points="382.96,130.59 388.03,131.16 389.91,129.57 384.86,129.01" fill="#b0b0b0" stroke="#2a2a2a" stroke-width="0.65" stroke-linejoin="round"/>
<polygon points="354.16,133.22 359.18,133.80 359.16,132.23 354.14,131.65" fill="#454545" stroke="#2a2a2a" stroke-width="0.55" stroke-linejoin="round"/>
<polygon points="359.18,133.80 361.26,132.19 361.24,130.63 359.16,132.23" fill="#333" stroke="#2a2a2a" stroke-width="0.55" stroke-linejoin="round"/>
<polygon points="354.14,131.65 359.16,132.23 361.24,130.63 356.24,130.06" fill="#767676" stroke="#2a2a2a" stroke-width="0.65" stroke-linejoin="round"/>
<polygon points="395.08,133.52 400.21,134.11 400.21,132.54 395.08,131.96" fill="#707070" stroke="#2a2a2a" stroke-width="0.55" stroke-linejoin="round"/>
<polygon points="400.21,134.11 402.01,132.49 402.01,130.93 400.21,132.54" fill="#333" stroke="#2a2a2a" stroke-width="0.55" stroke-linejoin="round"/>
<polygon points="395.08,131.96 400.21,132.54 402.01,130.93 396.91,130.36" fill="#b0b0b0" stroke="#2a2a2a" stroke-width="0.65" stroke-linejoin="round"/>
<polygon points="366.12,134.61 371.20,135.20 371.19,133.62 366.11,133.04" fill="#454545" stroke="#2a2a2a" stroke-width="0.55" stroke-linejoin="round"/>
<polygon points="371.20,135.20 373.21,133.57 373.20,132.00 371.19,133.62" fill="#333" stroke="#2a2a2a" stroke-width="0.55" stroke-linejoin="round"/>
<polygon points="366.11,133.04 371.19,133.62 373.20,132.00 368.14,131.43" fill="#767676" stroke="#2a2a2a" stroke-width="0.65" stroke-linejoin="round"/>
<polygon points="407.33,134.92 412.52,135.51 412.52,133.93 407.33,133.34" fill="#707070" stroke="#2a2a2a" stroke-width="0.55" stroke-linejoin="round"/>
<polygon points="412.52,135.51 414.24,133.87 414.25,132.30 412.52,133.93" fill="#333" stroke="#2a2a2a" stroke-width="0.55" stroke-linejoin="round"/>
<polygon points="407.33,133.34 412.52,133.93 414.25,132.30 409.09,131.72" fill="#b0b0b0" stroke="#2a2a2a" stroke-width="0.65" stroke-linejoin="round"/>
<polygon points="337.03,135.71 342.07,136.30 342.04,134.72 337.00,134.13" fill="#909090" stroke="#2a2a2a" stroke-width="0.55" stroke-linejoin="round"/>
<polygon points="342.07,136.30 344.28,134.66 344.26,133.08 342.04,134.72" fill="#333" stroke="#2a2a2a" stroke-width="0.55" stroke-linejoin="round"/>
<polygon points="337.00,134.13 342.04,134.72 344.26,133.08 339.25,132.50" fill="#dcdcdc" stroke="#2a2a2a" stroke-width="0.65" stroke-linejoin="round"/>
<polygon points="378.23,136.02 383.37,136.62 383.36,135.03 378.22,134.44" fill="#454545" stroke="#2a2a2a" stroke-width="0.55" stroke-linejoin="round"/>
<polygon points="383.37,136.62 385.30,134.97 385.30,133.39 383.36,135.03" fill="#333" stroke="#2a2a2a" stroke-width="0.55" stroke-linejoin="round"/>
<polygon points="378.22,134.44 383.36,135.03 385.30,133.39 380.18,132.81" fill="#767676" stroke="#2a2a2a" stroke-width="0.65" stroke-linejoin="round"/>
<polygon points="419.72,136.33 424.97,136.93 424.98,135.34 419.73,134.74" fill="#707070" stroke="#2a2a2a" stroke-width="0.55" stroke-linejoin="round"/>
<polygon points="424.97,136.93 426.62,135.27 426.63,133.69 424.98,135.34" fill="#333" stroke="#2a2a2a" stroke-width="0.55" stroke-linejoin="round"/>
<polygon points="419.73,134.74 424.98,135.34 426.63,133.69 421.41,133.11" fill="#b0b0b0" stroke="#2a2a2a" stroke-width="0.65" stroke-linejoin="round"/>
<polygon points="348.99,137.13 354.08,137.73 354.06,136.14 348.96,135.54" fill="#909090" stroke="#2a2a2a" stroke-width="0.55" stroke-linejoin="round"/>
<polygon points="354.08,137.73 356.23,136.07 356.21,134.48 354.06,136.14" fill="#333" stroke="#2a2a2a" stroke-width="0.55" stroke-linejoin="round"/>
<polygon points="348.96,135.54 354.06,136.14 356.21,134.48 351.14,133.89" fill="#dcdcdc" stroke="#2a2a2a" stroke-width="0.65" stroke-linejoin="round"/>
<polygon points="432.26,137.75 437.57,138.36 437.59,136.76 432.27,136.16" fill="#707070" stroke="#2a2a2a" stroke-width="0.55" stroke-linejoin="round"/>
<polygon points="437.57,138.36 439.14,136.69 439.16,135.10 437.59,136.76" fill="#333" stroke="#2a2a2a" stroke-width="0.55" stroke-linejoin="round"/>
<polygon points="432.27,136.16 437.59,136.76 439.16,135.10 433.88,134.51" fill="#b0b0b0" stroke="#2a2a2a" stroke-width="0.65" stroke-linejoin="round"/>
<polygon points="390.47,137.45 395.68,138.05 395.68,136.45 390.47,135.85" fill="#454545" stroke="#2a2a2a" stroke-width="0.55" stroke-linejoin="round"/>
<polygon points="395.68,138.05 397.54,136.38 397.54,134.79 395.68,136.45" fill="#333" stroke="#2a2a2a" stroke-width="0.55" stroke-linejoin="round"/>
<polygon points="390.47,135.85 395.68,136.45 397.54,134.79 392.36,134.20" fill="#767676" stroke="#2a2a2a" stroke-width="0.65" stroke-linejoin="round"/>
<polygon points="361.09,138.57 366.24,139.18 366.22,137.58 361.07,136.97" fill="#909090" stroke="#2a2a2a" stroke-width="0.55" stroke-linejoin="round"/>
<polygon points="366.24,139.18 368.31,137.50 368.30,135.90 366.22,137.58" fill="#333" stroke="#2a2a2a" stroke-width="0.55" stroke-linejoin="round"/>
<polygon points="361.07,136.97 366.22,137.58 368.30,135.90 363.17,135.30" fill="#dcdcdc" stroke="#2a2a2a" stroke-width="0.65" stroke-linejoin="round"/>
<polygon points="444.94,139.20 450.31,139.81 450.34,138.20 444.96,137.59" fill="#707070" stroke="#2a2a2a" stroke-width="0.55" stroke-linejoin="round"/>
<polygon points="450.31,139.81 451.80,138.12 451.83,136.52 450.34,138.20" fill="#333" stroke="#2a2a2a" stroke-width="0.55" stroke-linejoin="round"/>
<polygon points="444.96,137.59 450.34,138.20 451.83,136.52 446.49,135.92" fill="#b0b0b0" stroke="#2a2a2a" stroke-width="0.65" stroke-linejoin="round"/>
<polygon points="331.55,139.70 336.66,140.32 336.63,138.70 331.52,138.09" fill="#707070" stroke="#2a2a2a" stroke-width="0.55" stroke-linejoin="round"/>
<polygon points="336.66,140.32 338.95,138.62 338.92,137.01 336.63,138.70" fill="#333" stroke="#2a2a2a" stroke-width="0.55" stroke-linejoin="round"/>
<polygon points="331.52,138.09 336.63,138.70 338.92,137.01 333.84,136.41" fill="#b0b0b0" stroke="#2a2a2a" stroke-width="0.65" stroke-linejoin="round"/>
<polygon points="402.86,138.89 408.13,139.50 408.13,137.89 402.87,137.29" fill="#454545" stroke="#2a2a2a" stroke-width="0.55" stroke-linejoin="round"/>
<polygon points="408.13,139.50 409.91,137.81 409.92,136.21 408.13,137.89" fill="#333" stroke="#2a2a2a" stroke-width="0.55" stroke-linejoin="round"/>
<polygon points="402.87,137.29 408.13,137.89 409.92,136.21 404.68,135.62" fill="#767676" stroke="#2a2a2a" stroke-width="0.65" stroke-linejoin="round"/>
<polygon points="457.78,140.66 463.21,141.28 463.24,139.66 457.81,139.05" fill="#707070" stroke="#2a2a2a" stroke-width="0.55" stroke-linejoin="round"/>
<polygon points="463.21,141.28 464.62,139.56 464.65,137.96 463.24,139.66" fill="#333" stroke="#2a2a2a" stroke-width="0.55" stroke-linejoin="round"/>
<polygon points="457.81,139.05 463.24,139.66 464.65,137.96 459.25,137.35" fill="#b0b0b0" stroke="#2a2a2a" stroke-width="0.65" stroke-linejoin="round"/>
<polygon points="373.33,140.03 378.54,140.64 378.53,139.03 373.31,138.42" fill="#909090" stroke="#2a2a2a" stroke-width="0.55" stroke-linejoin="round"/>
<polygon points="378.54,140.64 380.54,138.94 380.53,137.34 378.53,139.03" fill="#333" stroke="#2a2a2a" stroke-width="0.55" stroke-linejoin="round"/>
<polygon points="373.31,138.42 378.53,139.03 380.53,137.34 375.35,136.73" fill="#dcdcdc" stroke="#2a2a2a" stroke-width="0.65" stroke-linejoin="round"/>
<polygon points="415.40,140.35 420.73,140.96 420.74,139.35 415.41,138.74" fill="#454545" stroke="#2a2a2a" stroke-width="0.55" stroke-linejoin="round"/>
<polygon points="420.73,140.96 422.43,139.26 422.45,137.65 420.74,139.35" fill="#333" stroke="#2a2a2a" stroke-width="0.55" stroke-linejoin="round"/>
<polygon points="415.41,138.74 420.74,139.35 422.45,137.65 417.15,137.05" fill="#767676" stroke="#2a2a2a" stroke-width="0.65" stroke-linejoin="round"/>
<polygon points="343.64,141.17 348.81,141.80 348.79,140.18 343.62,139.56" fill="#707070" stroke="#2a2a2a" stroke-width="0.55" stroke-linejoin="round"/>
<polygon points="348.81,141.80 351.03,140.07 351.01,138.46 348.79,140.18" fill="#333" stroke="#2a2a2a" stroke-width="0.55" stroke-linejoin="round"/>
<polygon points="343.62,139.56 348.79,140.18 351.01,138.46 345.87,137.85" fill="#b0b0b0" stroke="#2a2a2a" stroke-width="0.65" stroke-linejoin="round"/>
<polygon points="470.76,142.14 476.26,142.76 476.30,141.14 470.80,140.51" fill="#707070" stroke="#2a2a2a" stroke-width="0.55" stroke-linejoin="round"/>
<polygon points="476.26,142.76 477.59,141.03 477.63,139.41 476.30,141.14" fill="#333" stroke="#2a2a2a" stroke-width="0.55" stroke-linejoin="round"/>
<polygon points="470.80,140.51 476.30,141.14 477.63,139.41 472.16,138.80" fill="#b0b0b0" stroke="#2a2a2a" stroke-width="0.65" stroke-linejoin="round"/>
<polygon points="385.71,141.50 390.99,142.13 390.99,140.50 385.71,139.88" fill="#909090" stroke="#2a2a2a" stroke-width="0.55" stroke-linejoin="round"/>
<polygon points="390.99,142.13 392.92,140.40 392.91,138.79 390.99,140.50" fill="#333" stroke="#2a2a2a" stroke-width="0.55" stroke-linejoin="round"/>
<polygon points="385.71,139.88 390.99,140.50 392.91,138.79 387.67,138.18" fill="#dcdcdc" stroke="#2a2a2a" stroke-width="0.65" stroke-linejoin="round"/>
<polygon points="428.09,141.82 433.48,142.45 433.50,140.82 428.10,140.20" fill="#454545" stroke="#2a2a2a" stroke-width="0.55" stroke-linejoin="round"/>
<polygon points="433.48,142.45 435.10,140.72 435.12,139.11 433.50,140.82" fill="#333" stroke="#2a2a2a" stroke-width="0.55" stroke-linejoin="round"/>
<polygon points="428.10,140.20 433.50,140.82 435.12,139.11 429.76,138.49" fill="#767676" stroke="#2a2a2a" stroke-width="0.65" stroke-linejoin="round"/>
<polygon points="483.66,143.67 489.63,144.35 492.70,37.47 486.53,37.06" fill="url(#gM)" stroke="#3a3a3a" stroke-width="0.45" stroke-linejoin="round"/>
<polygon points="489.63,144.35 490.95,142.47 494.05,36.37 492.70,37.47" fill="#505050" stroke="#3a3a3a" stroke-width="0.45" stroke-linejoin="round"/>
<polygon points="486.53,37.06 492.70,37.47 494.05,36.37 487.92,35.97" fill="#686868" stroke="#333" stroke-width="0.5" stroke-linejoin="round"/>
<polygon points="355.88,142.66 361.11,143.29 361.09,141.66 355.86,141.04" fill="#707070" stroke="#2a2a2a" stroke-width="0.55" stroke-linejoin="round"/>
<polygon points="361.11,143.29 363.25,141.55 363.23,139.93 361.09,141.66" fill="#333" stroke="#2a2a2a" stroke-width="0.55" stroke-linejoin="round"/>
<polygon points="355.86,141.04 361.09,141.66 363.23,139.93 358.03,139.31" fill="#b0b0b0" stroke="#2a2a2a" stroke-width="0.65" stroke-linejoin="round"/>
<polygon points="440.93,143.32 446.38,143.95 446.40,142.32 440.95,141.69" fill="#454545" stroke="#2a2a2a" stroke-width="0.55" stroke-linejoin="round"/>
<polygon points="446.38,143.95 447.92,142.20 447.95,140.58 446.40,142.32" fill="#333" stroke="#2a2a2a" stroke-width="0.55" stroke-linejoin="round"/>
<polygon points="440.95,141.69 446.40,142.32 447.95,140.58 442.53,139.96" fill="#767676" stroke="#2a2a2a" stroke-width="0.65" stroke-linejoin="round"/>
<polygon points="325.89,143.83 331.07,144.47 331.04,142.83 325.85,142.20" fill="#909090" stroke="#2a2a2a" stroke-width="0.55" stroke-linejoin="round"/>
<polygon points="331.07,144.47 333.44,142.71 333.41,141.08 331.04,142.83" fill="#333" stroke="#2a2a2a" stroke-width="0.55" stroke-linejoin="round"/>
<polygon points="325.85,142.20 331.04,142.83 333.41,141.08 328.26,140.46" fill="#dcdcdc" stroke="#2a2a2a" stroke-width="0.65" stroke-linejoin="round"/>
<polygon points="398.25,142.99 403.59,143.63 403.59,141.99 398.25,141.37" fill="#909090" stroke="#2a2a2a" stroke-width="0.55" stroke-linejoin="round"/>
<polygon points="403.59,143.63 405.44,141.88 405.44,140.26 403.59,141.99" fill="#333" stroke="#2a2a2a" stroke-width="0.55" stroke-linejoin="round"/>
<polygon points="398.25,141.37 403.59,141.99 405.44,140.26 400.13,139.64" fill="#dcdcdc" stroke="#2a2a2a" stroke-width="0.65" stroke-linejoin="round"/>
<polygon points="453.92,144.83 459.44,145.47 459.47,143.83 453.95,143.19" fill="#454545" stroke="#2a2a2a" stroke-width="0.55" stroke-linejoin="round"/>
<polygon points="459.44,145.47 460.90,143.70 460.93,142.07 459.47,143.83" fill="#333" stroke="#2a2a2a" stroke-width="0.55" stroke-linejoin="round"/>
<polygon points="453.95,143.19 459.47,143.83 460.93,142.07 455.44,141.44" fill="#767676" stroke="#2a2a2a" stroke-width="0.65" stroke-linejoin="round"/>
<polygon points="368.26,144.17 373.55,144.81 373.54,143.17 368.24,142.54" fill="#707070" stroke="#2a2a2a" stroke-width="0.55" stroke-linejoin="round"/>
<polygon points="373.55,144.81 375.62,143.04 375.61,141.42 373.54,143.17" fill="#333" stroke="#2a2a2a" stroke-width="0.55" stroke-linejoin="round"/>
<polygon points="368.24,142.54 373.54,143.17 375.61,141.42 370.35,140.79" fill="#b0b0b0" stroke="#2a2a2a" stroke-width="0.65" stroke-linejoin="round"/>
<polygon points="410.94,144.50 416.34,145.14 416.35,143.50 410.94,142.87" fill="#909090" stroke="#2a2a2a" stroke-width="0.55" stroke-linejoin="round"/>
<polygon points="416.34,145.14 418.11,143.37 418.12,141.74 416.35,143.50" fill="#333" stroke="#2a2a2a" stroke-width="0.55" stroke-linejoin="round"/>
<polygon points="410.94,142.87 416.35,143.50 418.12,141.74 412.74,141.12" fill="#dcdcdc" stroke="#2a2a2a" stroke-width="0.65" stroke-linejoin="round"/>
<polygon points="338.12,145.36 343.36,146.00 343.33,144.35 338.08,143.71" fill="#909090" stroke="#2a2a2a" stroke-width="0.55" stroke-linejoin="round"/>
<polygon points="343.36,146.00 345.65,144.22 345.63,142.58 343.33,144.35" fill="#333" stroke="#2a2a2a" stroke-width="0.55" stroke-linejoin="round"/>
<polygon points="338.08,143.71 343.33,144.35 345.63,142.58 340.41,141.95" fill="#dcdcdc" stroke="#2a2a2a" stroke-width="0.65" stroke-linejoin="round"/>
<polygon points="467.19,146.38 473.18,147.08 475.13,64.81 468.98,64.33" fill="url(#gD)" stroke="#3a3a3a" stroke-width="0.45" stroke-linejoin="round"/>
<polygon points="473.18,147.08 474.65,145.16 476.62,63.49 475.13,64.81" fill="#333333" stroke="#3a3a3a" stroke-width="0.45" stroke-linejoin="round"/>
<polygon points="468.98,64.33 475.13,64.81 476.62,63.49 470.52,63.02" fill="#4e4e4e" stroke="#333" stroke-width="0.5" stroke-linejoin="round"/>
<polygon points="380.79,145.70 386.15,146.34 386.14,144.69 380.78,144.05" fill="#707070" stroke="#2a2a2a" stroke-width="0.55" stroke-linejoin="round"/>
<polygon points="386.15,146.34 388.14,144.56 388.13,142.92 386.14,144.69" fill="#333" stroke="#2a2a2a" stroke-width="0.55" stroke-linejoin="round"/>
<polygon points="380.78,144.05 386.14,144.69 388.13,142.92 382.81,142.29" fill="#b0b0b0" stroke="#2a2a2a" stroke-width="0.65" stroke-linejoin="round"/>
<polygon points="423.78,146.03 429.25,146.68 429.26,145.03 423.79,144.39" fill="#909090" stroke="#2a2a2a" stroke-width="0.55" stroke-linejoin="round"/>
<polygon points="429.25,146.68 430.93,144.89 430.95,143.25 429.26,145.03" fill="#333" stroke="#2a2a2a" stroke-width="0.55" stroke-linejoin="round"/>
<polygon points="423.79,144.39 429.26,145.03 430.95,143.25 425.51,142.62" fill="#dcdcdc" stroke="#2a2a2a" stroke-width="0.65" stroke-linejoin="round"/>
<polygon points="480.38,147.91 486.03,148.56 486.08,146.90 480.42,146.25" fill="#454545" stroke="#2a2a2a" stroke-width="0.55" stroke-linejoin="round"/>
<polygon points="486.03,148.56 487.32,146.75 487.37,145.10 486.08,146.90" fill="#333" stroke="#2a2a2a" stroke-width="0.55" stroke-linejoin="round"/>
<polygon points="480.42,146.25 486.08,146.90 487.37,145.10 481.75,144.46" fill="#767676" stroke="#2a2a2a" stroke-width="0.65" stroke-linejoin="round"/>
<polygon points="350.49,146.90 355.79,147.55 355.77,145.89 350.46,145.25" fill="#909090" stroke="#2a2a2a" stroke-width="0.55" stroke-linejoin="round"/>
<polygon points="355.79,147.55 358.02,145.74 358.00,144.10 355.77,145.89" fill="#333" stroke="#2a2a2a" stroke-width="0.55" stroke-linejoin="round"/>
<polygon points="350.46,145.25 355.77,145.89 358.00,144.10 352.72,143.46" fill="#dcdcdc" stroke="#2a2a2a" stroke-width="0.65" stroke-linejoin="round"/>
<polygon points="320.03,148.10 325.29,148.76 325.25,147.10 319.99,146.44" fill="#707070" stroke="#2a2a2a" stroke-width="0.55" stroke-linejoin="round"/>
<polygon points="325.29,148.76 327.74,146.94 327.70,145.29 325.25,147.10" fill="#333" stroke="#2a2a2a" stroke-width="0.55" stroke-linejoin="round"/>
<polygon points="319.99,146.44 325.25,147.10 327.70,145.29 322.48,144.64" fill="#b0b0b0" stroke="#2a2a2a" stroke-width="0.65" stroke-linejoin="round"/>
<polygon points="436.77,147.58 442.31,148.23 442.33,146.57 436.79,145.92" fill="#909090" stroke="#2a2a2a" stroke-width="0.55" stroke-linejoin="round"/>
<polygon points="442.31,148.23 443.91,146.42 443.93,144.77 442.33,146.57" fill="#333" stroke="#2a2a2a" stroke-width="0.55" stroke-linejoin="round"/>
<polygon points="436.79,145.92 442.33,146.57 443.93,144.77 438.43,144.13" fill="#dcdcdc" stroke="#2a2a2a" stroke-width="0.65" stroke-linejoin="round"/>
<polygon points="393.47,147.24 398.90,147.89 398.90,146.24 393.47,145.59" fill="#707070" stroke="#2a2a2a" stroke-width="0.55" stroke-linejoin="round"/>
<polygon points="398.90,147.89 400.81,146.09 400.81,144.44 398.90,146.24" fill="#333" stroke="#2a2a2a" stroke-width="0.55" stroke-linejoin="round"/>
<polygon points="393.47,145.59 398.90,146.24 400.81,144.44 395.42,143.80" fill="#b0b0b0" stroke="#2a2a2a" stroke-width="0.65" stroke-linejoin="round"/>
<polygon points="363.01,148.46 368.38,149.12 368.37,147.45 363.00,146.80" fill="#909090" stroke="#2a2a2a" stroke-width="0.55" stroke-linejoin="round"/>
<polygon points="368.38,149.12 370.53,147.29 370.51,145.64 368.37,147.45" fill="#333" stroke="#2a2a2a" stroke-width="0.55" stroke-linejoin="round"/>
<polygon points="363.00,146.80 368.37,147.45 370.51,145.64 365.17,144.99" fill="#dcdcdc" stroke="#2a2a2a" stroke-width="0.65" stroke-linejoin="round"/>
<polygon points="450.36,149.16 456.36,149.87 458.14,53.50 451.95,53.04" fill="url(#gL)" stroke="#3a3a3a" stroke-width="0.45" stroke-linejoin="round"/>
<polygon points="456.36,149.87 457.98,147.90 459.79,52.25 458.14,53.50" fill="#5e5e5e" stroke="#3a3a3a" stroke-width="0.45" stroke-linejoin="round"/>
<polygon points="451.95,53.04 458.14,53.50 459.79,52.25 453.64,51.80" fill="#8a8a8a" stroke="#333" stroke-width="0.5" stroke-linejoin="round"/>
<polygon points="406.31,148.81 411.80,149.47 411.81,147.80 406.32,147.14" fill="#707070" stroke="#2a2a2a" stroke-width="0.55" stroke-linejoin="round"/>
<polygon points="411.80,149.47 413.63,147.64 413.64,145.98 411.81,147.80" fill="#333" stroke="#2a2a2a" stroke-width="0.55" stroke-linejoin="round"/>
<polygon points="406.32,147.14 411.81,147.80 413.64,145.98 408.18,145.33" fill="#b0b0b0" stroke="#2a2a2a" stroke-width="0.65" stroke-linejoin="round"/>
<polygon points="332.39,149.68 337.71,150.35 337.68,148.67 332.36,148.01" fill="#707070" stroke="#2a2a2a" stroke-width="0.55" stroke-linejoin="round"/>
<polygon points="337.71,150.35 340.09,148.50 340.06,146.84 337.68,148.67" fill="#333" stroke="#2a2a2a" stroke-width="0.55" stroke-linejoin="round"/>
<polygon points="332.36,148.01 337.68,148.67 340.06,146.84 334.77,146.19" fill="#b0b0b0" stroke="#2a2a2a" stroke-width="0.65" stroke-linejoin="round"/>
<polygon points="463.25,150.73 468.92,151.40 468.96,149.72 463.28,149.06" fill="#909090" stroke="#2a2a2a" stroke-width="0.55" stroke-linejoin="round"/>
<polygon points="468.92,151.40 470.35,149.54 470.38,147.88 468.96,149.72" fill="#333" stroke="#2a2a2a" stroke-width="0.55" stroke-linejoin="round"/>
<polygon points="463.28,149.06 468.96,149.72 470.38,147.88 464.74,147.22" fill="#dcdcdc" stroke="#2a2a2a" stroke-width="0.65" stroke-linejoin="round"/>
<polygon points="375.69,150.04 381.13,150.71 381.12,149.03 375.68,148.37" fill="#909090" stroke="#2a2a2a" stroke-width="0.55" stroke-linejoin="round"/>
<polygon points="381.13,150.71 383.19,148.86 383.19,147.19 381.12,149.03" fill="#333" stroke="#2a2a2a" stroke-width="0.55" stroke-linejoin="round"/>
<polygon points="375.68,148.37 381.12,149.03 383.19,147.19 377.78,146.54" fill="#dcdcdc" stroke="#2a2a2a" stroke-width="0.65" stroke-linejoin="round"/>
<polygon points="419.31,150.39 424.87,151.06 424.88,149.38 419.32,148.72" fill="#707070" stroke="#2a2a2a" stroke-width="0.55" stroke-linejoin="round"/>
<polygon points="424.87,151.06 426.61,149.20 426.63,147.54 424.88,149.38" fill="#333" stroke="#2a2a2a" stroke-width="0.55" stroke-linejoin="round"/>
<polygon points="419.32,148.72 424.88,149.38 426.63,147.54 421.11,146.88" fill="#b0b0b0" stroke="#2a2a2a" stroke-width="0.65" stroke-linejoin="round"/>
<polygon points="476.73,152.33 482.48,153.01 482.52,151.33 476.77,150.65" fill="#909090" stroke="#2a2a2a" stroke-width="0.55" stroke-linejoin="round"/>
<polygon points="482.48,153.01 483.81,151.13 483.86,149.46 482.52,151.33" fill="#333" stroke="#2a2a2a" stroke-width="0.55" stroke-linejoin="round"/>
<polygon points="476.77,150.65 482.52,151.33 483.86,149.46 478.15,148.79" fill="#dcdcdc" stroke="#2a2a2a" stroke-width="0.65" stroke-linejoin="round"/>
<polygon points="344.91,151.28 350.30,151.95 350.27,150.27 344.88,149.60" fill="#707070" stroke="#2a2a2a" stroke-width="0.55" stroke-linejoin="round"/>
<polygon points="350.30,151.95 352.60,150.09 352.57,148.41 350.27,150.27" fill="#333" stroke="#2a2a2a" stroke-width="0.55" stroke-linejoin="round"/>
<polygon points="344.88,149.60 350.27,150.27 352.57,148.41 347.22,147.75" fill="#b0b0b0" stroke="#2a2a2a" stroke-width="0.65" stroke-linejoin="round"/>
<polygon points="313.97,152.53 319.30,153.21 319.26,151.52 313.92,150.84" fill="#707070" stroke="#2a2a2a" stroke-width="0.55" stroke-linejoin="round"/>
<polygon points="319.30,153.21 321.84,151.32 321.80,149.64 319.26,151.52" fill="#333" stroke="#2a2a2a" stroke-width="0.55" stroke-linejoin="round"/>
<polygon points="313.92,150.84 319.26,151.52 321.80,149.64 316.50,148.97" fill="#b0b0b0" stroke="#2a2a2a" stroke-width="0.65" stroke-linejoin="round"/>
<polygon points="388.53,151.64 394.03,152.32 394.03,150.63 388.53,149.96" fill="#909090" stroke="#2a2a2a" stroke-width="0.55" stroke-linejoin="round"/>
<polygon points="394.03,152.32 396.02,150.44 396.02,148.77 394.03,150.63" fill="#333" stroke="#2a2a2a" stroke-width="0.55" stroke-linejoin="round"/>
<polygon points="388.53,149.96 394.03,150.63 396.02,148.77 390.54,148.11" fill="#dcdcdc" stroke="#2a2a2a" stroke-width="0.65" stroke-linejoin="round"/>
<polygon points="433.13,152.00 439.16,152.72 440.52,48.69 434.29,48.24" fill="url(#gM)" stroke="#3a3a3a" stroke-width="0.45" stroke-linejoin="round"/>
<polygon points="439.16,152.72 440.93,150.71 442.34,47.46 440.52,48.69" fill="#555555" stroke="#3a3a3a" stroke-width="0.45" stroke-linejoin="round"/>
<polygon points="434.29,48.24 440.52,48.69 442.34,47.46 436.15,47.02" fill="#6a6a6a" stroke="#333" stroke-width="0.5" stroke-linejoin="round"/>
<polygon points="357.58,152.90 363.04,153.58 363.02,151.89 357.56,151.21" fill="#707070" stroke="#2a2a2a" stroke-width="0.55" stroke-linejoin="round"/>
<polygon points="363.04,153.58 365.26,151.69 365.24,150.01 363.02,151.89" fill="#333" stroke="#2a2a2a" stroke-width="0.55" stroke-linejoin="round"/>
<polygon points="357.56,151.21 363.02,151.89 365.24,150.01 359.82,149.34" fill="#b0b0b0" stroke="#2a2a2a" stroke-width="0.65" stroke-linejoin="round"/>
<polygon points="445.80,153.61 451.49,154.30 451.52,152.60 445.82,151.92" fill="#707070" stroke="#2a2a2a" stroke-width="0.55" stroke-linejoin="round"/>
<polygon points="451.49,154.30 453.06,152.40 453.09,150.72 451.52,152.60" fill="#333" stroke="#2a2a2a" stroke-width="0.55" stroke-linejoin="round"/>
<polygon points="445.82,151.92 451.52,152.60 453.09,150.72 447.43,150.04" fill="#b0b0b0" stroke="#2a2a2a" stroke-width="0.65" stroke-linejoin="round"/>
<polygon points="326.47,154.16 331.87,154.85 331.83,153.15 326.43,152.47" fill="#707070" stroke="#2a2a2a" stroke-width="0.55" stroke-linejoin="round"/>
<polygon points="331.87,154.85 334.33,152.94 334.30,151.25 331.83,153.15" fill="#333" stroke="#2a2a2a" stroke-width="0.55" stroke-linejoin="round"/>
<polygon points="326.43,152.47 331.83,153.15 334.30,151.25 328.93,150.58" fill="#b0b0b0" stroke="#2a2a2a" stroke-width="0.65" stroke-linejoin="round"/>
<polygon points="402.19,153.27 408.17,154.00 408.58,32.03 402.37,31.62" fill="url(#gL)" stroke="#3a3a3a" stroke-width="0.45" stroke-linejoin="round"/>
<polygon points="408.17,154.00 410.19,151.97 410.67,30.92 408.58,32.03" fill="#5e5e5e" stroke="#3a3a3a" stroke-width="0.45" stroke-linejoin="round"/>
<polygon points="402.37,31.62 408.58,32.03 410.67,30.92 404.51,30.52" fill="#8a8a8a" stroke="#333" stroke-width="0.5" stroke-linejoin="round"/>
<polygon points="459.29,155.26 465.05,155.95 465.09,154.25 459.32,153.56" fill="#707070" stroke="#2a2a2a" stroke-width="0.55" stroke-linejoin="round"/>
<polygon points="465.05,155.95 466.53,154.03 466.57,152.33 465.09,154.25" fill="#333" stroke="#2a2a2a" stroke-width="0.55" stroke-linejoin="round"/>
<polygon points="459.32,153.56 465.09,154.25 466.57,152.33 460.84,151.65" fill="#b0b0b0" stroke="#2a2a2a" stroke-width="0.65" stroke-linejoin="round"/>
<polygon points="370.42,154.54 375.94,155.23 375.92,153.52 370.40,152.84" fill="#707070" stroke="#2a2a2a" stroke-width="0.55" stroke-linejoin="round"/>
<polygon points="375.94,155.23 378.07,153.31 378.06,151.62 375.92,153.52" fill="#333" stroke="#2a2a2a" stroke-width="0.55" stroke-linejoin="round"/>
<polygon points="370.40,152.84 375.92,153.52 378.06,151.62 372.58,150.94" fill="#b0b0b0" stroke="#2a2a2a" stroke-width="0.65" stroke-linejoin="round"/>
<polygon points="339.13,155.82 344.60,156.52 344.57,154.81 339.10,154.11" fill="#707070" stroke="#2a2a2a" stroke-width="0.55" stroke-linejoin="round"/>
<polygon points="344.60,156.52 346.98,154.58 346.96,152.88 344.57,154.81" fill="#333" stroke="#2a2a2a" stroke-width="0.55" stroke-linejoin="round"/>
<polygon points="339.10,154.11 344.57,154.81 346.96,152.88 341.52,152.20" fill="#b0b0b0" stroke="#2a2a2a" stroke-width="0.65" stroke-linejoin="round"/>
<polygon points="415.51,154.90 421.56,155.64 422.46,36.84 416.18,36.41" fill="url(#gL)" stroke="#3a3a3a" stroke-width="0.45" stroke-linejoin="round"/>
<polygon points="421.56,155.64 423.49,153.59 424.45,35.68 422.46,36.84" fill="#5e5e5e" stroke="#3a3a3a" stroke-width="0.45" stroke-linejoin="round"/>
<polygon points="416.18,36.41 422.46,36.84 424.45,35.68 418.22,35.27" fill="#8a8a8a" stroke="#333" stroke-width="0.5" stroke-linejoin="round"/>
<polygon points="472.95,156.92 478.79,157.62 478.83,155.91 472.99,155.21" fill="#707070" stroke="#2a2a2a" stroke-width="0.55" stroke-linejoin="round"/>
<polygon points="478.79,157.62 480.17,155.67 480.22,153.97 478.83,155.91" fill="#333" stroke="#2a2a2a" stroke-width="0.55" stroke-linejoin="round"/>
<polygon points="472.99,155.21 478.83,155.91 480.22,153.97 474.42,153.28" fill="#b0b0b0" stroke="#2a2a2a" stroke-width="0.65" stroke-linejoin="round"/>
<polygon points="307.68,157.11 313.09,157.81 313.05,156.09 307.63,155.39" fill="#404040" stroke="#2a2a2a" stroke-width="0.55" stroke-linejoin="round"/>
<polygon points="313.09,157.81 315.73,155.86 315.68,154.15 313.05,156.09" fill="#333" stroke="#2a2a2a" stroke-width="0.55" stroke-linejoin="round"/>
<polygon points="307.63,155.39 313.05,156.09 315.68,154.15 310.30,153.46" fill="#6a6a6a" stroke="#2a2a2a" stroke-width="0.65" stroke-linejoin="round"/>
<polygon points="428.02,156.56 433.73,157.26 433.75,155.55 428.03,154.85" fill="#909090" stroke="#2a2a2a" stroke-width="0.55" stroke-linejoin="round"/>
<polygon points="433.73,157.26 435.45,155.32 435.47,153.62 433.75,155.55" fill="#333" stroke="#2a2a2a" stroke-width="0.55" stroke-linejoin="round"/>
<polygon points="428.03,154.85 433.75,155.55 435.47,153.62 429.79,152.93" fill="#dcdcdc" stroke="#2a2a2a" stroke-width="0.65" stroke-linejoin="round"/>
<polygon points="384.12,156.20 390.11,156.95 389.85,40.76 383.64,40.32" fill="url(#gM)" stroke="#3a3a3a" stroke-width="0.45" stroke-linejoin="round"/>
<polygon points="390.11,156.95 392.31,154.87 392.12,39.57 389.85,40.76" fill="#505050" stroke="#3a3a3a" stroke-width="0.45" stroke-linejoin="round"/>
<polygon points="383.64,40.32 389.85,40.76 392.12,39.57 385.95,39.14" fill="#686868" stroke="#333" stroke-width="0.5" stroke-linejoin="round"/>
<polygon points="352.39,157.51 358.33,158.27 357.14,61.86 351.03,61.36" fill="url(#gM)" stroke="#3a3a3a" stroke-width="0.45" stroke-linejoin="round"/>
<polygon points="358.33,158.27 360.79,156.17 359.69,60.50 357.14,61.86" fill="#555555" stroke="#3a3a3a" stroke-width="0.45" stroke-linejoin="round"/>
<polygon points="351.03,61.36 357.14,61.86 359.69,60.50 353.62,60.01" fill="#6a6a6a" stroke="#333" stroke-width="0.5" stroke-linejoin="round"/>
<polygon points="320.33,158.80 325.81,159.52 325.77,157.79 320.29,157.08" fill="#404040" stroke="#2a2a2a" stroke-width="0.55" stroke-linejoin="round"/>
<polygon points="325.81,159.52 328.37,157.54 328.33,155.82 325.77,157.79" fill="#333" stroke="#2a2a2a" stroke-width="0.55" stroke-linejoin="round"/>
<polygon points="320.29,157.08 325.77,157.79 328.33,155.82 322.88,155.12" fill="#6a6a6a" stroke="#2a2a2a" stroke-width="0.65" stroke-linejoin="round"/>
<polygon points="441.51,158.24 447.30,158.96 447.33,157.23 441.54,156.53" fill="#909090" stroke="#2a2a2a" stroke-width="0.55" stroke-linejoin="round"/>
<polygon points="447.30,158.96 448.93,156.99 448.96,155.27 447.33,157.23" fill="#333" stroke="#2a2a2a" stroke-width="0.55" stroke-linejoin="round"/>
<polygon points="441.54,156.53 447.33,157.23 448.96,155.27 443.21,154.58" fill="#dcdcdc" stroke="#2a2a2a" stroke-width="0.65" stroke-linejoin="round"/>
<polygon points="396.57,157.87 402.23,158.58 402.23,156.86 396.57,156.16" fill="#707070" stroke="#2a2a2a" stroke-width="0.55" stroke-linejoin="round"/>
<polygon points="402.23,158.58 404.20,156.62 404.20,154.91 402.23,156.86" fill="#333" stroke="#2a2a2a" stroke-width="0.55" stroke-linejoin="round"/>
<polygon points="396.57,156.16 402.23,156.86 404.20,154.91 398.58,154.21" fill="#b0b0b0" stroke="#2a2a2a" stroke-width="0.65" stroke-linejoin="round"/>
<polygon points="455.18,159.95 461.04,160.67 461.08,158.93 455.22,158.22" fill="#909090" stroke="#2a2a2a" stroke-width="0.55" stroke-linejoin="round"/>
<polygon points="461.04,160.67 462.58,158.67 462.62,156.95 461.08,158.93" fill="#333" stroke="#2a2a2a" stroke-width="0.55" stroke-linejoin="round"/>
<polygon points="455.22,158.22 461.08,158.93 462.62,156.95 456.79,156.25" fill="#dcdcdc" stroke="#2a2a2a" stroke-width="0.65" stroke-linejoin="round"/>
<polygon points="365.63,159.20 371.64,159.97 370.68,42.35 364.45,41.91" fill="url(#gM)" stroke="#3a3a3a" stroke-width="0.45" stroke-linejoin="round"/>
<polygon points="371.64,159.97 374.00,157.84 373.14,41.14 370.68,42.35" fill="#555555" stroke="#3a3a3a" stroke-width="0.45" stroke-linejoin="round"/>
<polygon points="364.45,41.91 370.68,42.35 373.14,41.14 366.96,40.70" fill="#6a6a6a" stroke="#333" stroke-width="0.5" stroke-linejoin="round"/>
<polygon points="409.90,159.58 415.63,160.29 415.64,158.56 409.90,157.85" fill="#707070" stroke="#2a2a2a" stroke-width="0.55" stroke-linejoin="round"/>
<polygon points="415.63,160.29 417.51,158.30 417.52,156.58 415.64,158.56" fill="#333" stroke="#2a2a2a" stroke-width="0.55" stroke-linejoin="round"/>
<polygon points="409.90,157.85 415.64,158.56 417.52,156.58 411.82,155.88" fill="#b0b0b0" stroke="#2a2a2a" stroke-width="0.65" stroke-linejoin="round"/>
<polygon points="333.42,160.54 339.37,161.32 337.71,70.17 331.60,69.64" fill="url(#gD)" stroke="#3a3a3a" stroke-width="0.45" stroke-linejoin="round"/>
<polygon points="339.37,161.32 342.02,159.17 340.44,68.72 337.71,70.17" fill="#2e2e2e" stroke="#3a3a3a" stroke-width="0.45" stroke-linejoin="round"/>
<polygon points="331.60,69.64 337.71,70.17 340.44,68.72 334.37,68.20" fill="#4a4a4a" stroke="#333" stroke-width="0.5" stroke-linejoin="round"/>
<polygon points="469.03,161.68 474.97,162.40 475.01,160.66 469.07,159.94" fill="#909090" stroke="#2a2a2a" stroke-width="0.55" stroke-linejoin="round"/>
<polygon points="474.97,162.40 476.41,160.38 476.45,158.65 475.01,160.66" fill="#333" stroke="#2a2a2a" stroke-width="0.55" stroke-linejoin="round"/>
<polygon points="469.07,159.94 475.01,160.66 476.45,158.65 470.55,157.94" fill="#dcdcdc" stroke="#2a2a2a" stroke-width="0.65" stroke-linejoin="round"/>
<polygon points="300.87,161.90 306.76,162.69 303.97,64.63 297.91,64.12" fill="url(#gW)" stroke="#3a3a3a" stroke-width="0.45" stroke-linejoin="round"/>
<polygon points="306.76,162.69 309.68,160.52 307.00,63.22 303.97,64.63" fill="#5a5a5a" stroke="#3a3a3a" stroke-width="0.45" stroke-linejoin="round"/>
<polygon points="297.91,64.12 303.97,64.63 307.00,63.22 300.99,62.72" fill="#9a9a9a" stroke="#333" stroke-width="0.5" stroke-linejoin="round"/>
<polygon points="378.10,160.92 383.78,161.64 383.77,159.90 378.09,159.18" fill="#707070" stroke="#2a2a2a" stroke-width="0.55" stroke-linejoin="round"/>
<polygon points="383.78,161.64 385.91,159.63 385.91,157.90 383.77,159.90" fill="#333" stroke="#2a2a2a" stroke-width="0.55" stroke-linejoin="round"/>
<polygon points="378.09,159.18 383.77,159.90 385.91,157.90 380.26,157.19" fill="#b0b0b0" stroke="#2a2a2a" stroke-width="0.65" stroke-linejoin="round"/>
<polygon points="423.40,161.30 429.20,162.03 429.22,160.28 423.41,159.56" fill="#707070" stroke="#2a2a2a" stroke-width="0.55" stroke-linejoin="round"/>
<polygon points="429.20,162.03 430.99,160.01 431.01,158.28 429.22,160.28" fill="#333" stroke="#2a2a2a" stroke-width="0.55" stroke-linejoin="round"/>
<polygon points="423.41,159.56 429.22,160.28 431.01,158.28 425.24,157.57" fill="#b0b0b0" stroke="#2a2a2a" stroke-width="0.65" stroke-linejoin="round"/>
<polygon points="346.13,162.26 351.75,163.00 351.72,161.25 346.10,160.52" fill="#404040" stroke="#2a2a2a" stroke-width="0.55" stroke-linejoin="round"/>
<polygon points="351.75,163.00 354.14,160.96 354.11,159.23 351.72,161.25" fill="#333" stroke="#2a2a2a" stroke-width="0.55" stroke-linejoin="round"/>
<polygon points="346.10,160.52 351.72,161.25 354.11,159.23 348.52,158.51" fill="#6a6a6a" stroke="#2a2a2a" stroke-width="0.65" stroke-linejoin="round"/>
<polygon points="437.07,163.05 442.96,163.78 442.98,162.03 437.10,161.30" fill="#707070" stroke="#2a2a2a" stroke-width="0.55" stroke-linejoin="round"/>
<polygon points="442.96,163.78 444.65,161.74 444.67,160.00 442.98,162.03" fill="#333" stroke="#2a2a2a" stroke-width="0.55" stroke-linejoin="round"/>
<polygon points="437.10,161.30 442.98,162.03 444.67,160.00 438.83,159.28" fill="#b0b0b0" stroke="#2a2a2a" stroke-width="0.65" stroke-linejoin="round"/>
<polygon points="314.00,163.65 319.97,164.44 317.05,44.63 310.87,44.17" fill="url(#gW)" stroke="#3a3a3a" stroke-width="0.45" stroke-linejoin="round"/>
<polygon points="319.97,164.44 322.80,162.24 320.01,43.37 317.05,44.63" fill="#5a5a5a" stroke="#3a3a3a" stroke-width="0.45" stroke-linejoin="round"/>
<polygon points="310.87,44.17 317.05,44.63 320.01,43.37 313.88,42.92" fill="#9a9a9a" stroke="#333" stroke-width="0.5" stroke-linejoin="round"/>
<polygon points="391.43,162.66 397.18,163.39 397.18,161.64 391.43,160.91" fill="#707070" stroke="#2a2a2a" stroke-width="0.55" stroke-linejoin="round"/>
<polygon points="397.18,163.39 399.22,161.36 399.22,159.62 397.18,161.64" fill="#333" stroke="#2a2a2a" stroke-width="0.55" stroke-linejoin="round"/>
<polygon points="391.43,160.91 397.18,161.64 399.22,159.62 393.51,158.90" fill="#b0b0b0" stroke="#2a2a2a" stroke-width="0.65" stroke-linejoin="round"/>
<polygon points="359.28,164.03 364.97,164.77 364.95,163.01 359.25,162.27" fill="#404040" stroke="#2a2a2a" stroke-width="0.55" stroke-linejoin="round"/>
<polygon points="364.97,164.77 367.27,162.71 367.25,160.96 364.95,163.01" fill="#333" stroke="#2a2a2a" stroke-width="0.55" stroke-linejoin="round"/>
<polygon points="359.25,162.27 364.95,163.01 367.25,160.96 361.59,160.24" fill="#6a6a6a" stroke="#2a2a2a" stroke-width="0.65" stroke-linejoin="round"/>
<polygon points="450.93,164.82 456.89,165.56 456.92,163.80 450.96,163.06" fill="#707070" stroke="#2a2a2a" stroke-width="0.55" stroke-linejoin="round"/>
<polygon points="456.89,165.56 458.48,163.49 458.52,161.74 456.92,163.80" fill="#333" stroke="#2a2a2a" stroke-width="0.55" stroke-linejoin="round"/>
<polygon points="450.96,163.06 456.92,163.80 458.52,161.74 452.60,161.01" fill="#b0b0b0" stroke="#2a2a2a" stroke-width="0.65" stroke-linejoin="round"/>
<polygon points="326.94,165.40 332.57,166.15 332.54,164.38 326.90,163.64" fill="#b0b0b0" stroke="#2a2a2a" stroke-width="0.55" stroke-linejoin="round"/>
<polygon points="332.57,166.15 335.14,164.07 335.10,162.31 332.54,164.38" fill="#333" stroke="#2a2a2a" stroke-width="0.55" stroke-linejoin="round"/>
<polygon points="326.90,163.64 332.54,164.38 335.10,162.31 329.50,161.58" fill="#f4f4f4" stroke="#2a2a2a" stroke-width="0.65" stroke-linejoin="round"/>
<polygon points="404.93,164.43 410.76,165.17 410.76,163.41 404.93,162.67" fill="#707070" stroke="#2a2a2a" stroke-width="0.55" stroke-linejoin="round"/>
<polygon points="410.76,165.17 412.71,163.11 412.71,161.36 410.76,163.41" fill="#333" stroke="#2a2a2a" stroke-width="0.55" stroke-linejoin="round"/>
<polygon points="404.93,162.67 410.76,163.41 412.71,161.36 406.93,160.63" fill="#b0b0b0" stroke="#2a2a2a" stroke-width="0.65" stroke-linejoin="round"/>
<polygon points="464.97,166.61 471.00,167.36 471.04,165.59 465.00,164.84" fill="#707070" stroke="#2a2a2a" stroke-width="0.55" stroke-linejoin="round"/>
<polygon points="471.00,167.36 472.50,165.27 472.54,163.50 471.04,165.59" fill="#333" stroke="#2a2a2a" stroke-width="0.55" stroke-linejoin="round"/>
<polygon points="465.00,164.84 471.04,165.59 472.54,163.50 466.54,162.76" fill="#b0b0b0" stroke="#2a2a2a" stroke-width="0.65" stroke-linejoin="round"/>
<polygon points="372.60,165.81 378.37,166.56 378.36,164.79 372.58,164.05" fill="#404040" stroke="#2a2a2a" stroke-width="0.55" stroke-linejoin="round"/>
<polygon points="378.37,166.56 380.58,164.48 380.57,162.72 378.36,164.79" fill="#333" stroke="#2a2a2a" stroke-width="0.55" stroke-linejoin="round"/>
<polygon points="372.58,164.05 378.36,164.79 380.57,162.72 374.84,161.98" fill="#6a6a6a" stroke="#2a2a2a" stroke-width="0.65" stroke-linejoin="round"/>
<polygon points="418.61,166.21 424.51,166.97 424.53,165.20 418.62,164.45" fill="#707070" stroke="#2a2a2a" stroke-width="0.55" stroke-linejoin="round"/>
<polygon points="424.51,166.97 426.37,164.88 426.38,163.12 424.53,165.20" fill="#333" stroke="#2a2a2a" stroke-width="0.55" stroke-linejoin="round"/>
<polygon points="418.62,164.45 424.53,165.20 426.38,163.12 420.52,162.38" fill="#b0b0b0" stroke="#2a2a2a" stroke-width="0.65" stroke-linejoin="round"/>
<polygon points="340.08,167.21 345.79,167.97 345.76,166.19 340.04,165.43" fill="#b0b0b0" stroke="#2a2a2a" stroke-width="0.55" stroke-linejoin="round"/>
<polygon points="345.79,167.97 348.26,165.86 348.24,164.09 345.76,166.19" fill="#333" stroke="#2a2a2a" stroke-width="0.55" stroke-linejoin="round"/>
<polygon points="340.04,165.43 345.76,166.19 348.24,164.09 342.56,163.35" fill="#f4f4f4" stroke="#2a2a2a" stroke-width="0.65" stroke-linejoin="round"/>
<polygon points="432.47,168.03 438.45,168.79 438.47,167.01 432.49,166.25" fill="#707070" stroke="#2a2a2a" stroke-width="0.55" stroke-linejoin="round"/>
<polygon points="438.45,168.79 440.21,166.67 440.23,164.90 438.47,167.01" fill="#333" stroke="#2a2a2a" stroke-width="0.55" stroke-linejoin="round"/>
<polygon points="432.49,166.25 438.47,167.01 440.23,164.90 434.29,164.15" fill="#b0b0b0" stroke="#2a2a2a" stroke-width="0.65" stroke-linejoin="round"/>
<polygon points="386.10,167.62 391.94,168.39 391.94,166.60 386.09,165.85" fill="#404040" stroke="#2a2a2a" stroke-width="0.55" stroke-linejoin="round"/>
<polygon points="391.94,168.39 394.06,166.27 394.06,164.50 391.94,166.60" fill="#333" stroke="#2a2a2a" stroke-width="0.55" stroke-linejoin="round"/>
<polygon points="386.09,165.85 391.94,166.60 394.06,164.50 388.25,163.76" fill="#6a6a6a" stroke="#2a2a2a" stroke-width="0.65" stroke-linejoin="round"/>
<polygon points="353.39,169.04 359.18,169.81 359.15,168.02 353.37,167.25" fill="#b0b0b0" stroke="#2a2a2a" stroke-width="0.55" stroke-linejoin="round"/>
<polygon points="359.18,169.81 361.57,167.67 361.55,165.89 359.15,168.02" fill="#333" stroke="#2a2a2a" stroke-width="0.55" stroke-linejoin="round"/>
<polygon points="353.37,167.25 359.15,168.02 361.55,165.89 355.80,165.14" fill="#f4f4f4" stroke="#2a2a2a" stroke-width="0.65" stroke-linejoin="round"/>
<polygon points="446.51,169.87 452.57,170.64 452.60,168.85 446.54,168.08" fill="#707070" stroke="#2a2a2a" stroke-width="0.55" stroke-linejoin="round"/>
<polygon points="452.57,170.64 454.23,168.49 454.26,166.71 452.60,168.85" fill="#333" stroke="#2a2a2a" stroke-width="0.55" stroke-linejoin="round"/>
<polygon points="446.54,168.08 452.60,168.85 454.26,166.71 448.24,165.95" fill="#b0b0b0" stroke="#2a2a2a" stroke-width="0.65" stroke-linejoin="round"/>
<polygon points="399.77,169.46 405.70,170.23 405.70,168.44 399.78,167.67" fill="#404040" stroke="#2a2a2a" stroke-width="0.55" stroke-linejoin="round"/>
<polygon points="405.70,170.23 407.72,168.09 407.73,166.31 405.70,168.44" fill="#333" stroke="#2a2a2a" stroke-width="0.55" stroke-linejoin="round"/>
<polygon points="399.78,167.67 405.70,168.44 407.73,166.31 401.85,165.55" fill="#6a6a6a" stroke="#2a2a2a" stroke-width="0.65" stroke-linejoin="round"/>
<polygon points="460.75,171.73 466.88,172.51 466.92,170.71 460.78,169.93" fill="#707070" stroke="#2a2a2a" stroke-width="0.55" stroke-linejoin="round"/>
<polygon points="466.88,172.51 468.44,170.33 468.48,168.54 466.92,170.71" fill="#333" stroke="#2a2a2a" stroke-width="0.55" stroke-linejoin="round"/>
<polygon points="460.78,169.93 466.92,170.71 468.48,168.54 462.38,167.77" fill="#b0b0b0" stroke="#2a2a2a" stroke-width="0.65" stroke-linejoin="round"/>
<polygon points="366.88,170.89 372.75,171.68 372.73,169.87 366.87,169.10" fill="#b0b0b0" stroke="#2a2a2a" stroke-width="0.55" stroke-linejoin="round"/>
<polygon points="372.75,171.68 375.04,169.51 375.03,167.72 372.73,169.87" fill="#333" stroke="#2a2a2a" stroke-width="0.55" stroke-linejoin="round"/>
<polygon points="366.87,169.10 372.73,169.87 375.03,167.72 369.21,166.96" fill="#f4f4f4" stroke="#2a2a2a" stroke-width="0.65" stroke-linejoin="round"/>
<polygon points="413.64,171.32 419.64,172.10 419.65,170.30 413.65,169.52" fill="#404040" stroke="#2a2a2a" stroke-width="0.55" stroke-linejoin="round"/>
<polygon points="419.64,172.10 421.57,169.93 421.58,168.14 419.65,170.30" fill="#333" stroke="#2a2a2a" stroke-width="0.55" stroke-linejoin="round"/>
<polygon points="413.65,169.52 419.65,170.30 421.58,168.14 415.62,167.37" fill="#6a6a6a" stroke="#2a2a2a" stroke-width="0.65" stroke-linejoin="round"/>
<polygon points="380.56,172.78 386.50,173.57 386.49,171.75 380.55,170.97" fill="#b0b0b0" stroke="#2a2a2a" stroke-width="0.55" stroke-linejoin="round"/>
<polygon points="386.50,173.57 388.70,171.37 388.70,169.57 386.49,171.75" fill="#333" stroke="#2a2a2a" stroke-width="0.55" stroke-linejoin="round"/>
<polygon points="380.55,170.97 386.49,171.75 388.70,169.57 382.80,168.80" fill="#f4f4f4" stroke="#2a2a2a" stroke-width="0.65" stroke-linejoin="round"/>
<polygon points="427.69,173.20 433.77,173.99 433.79,172.18 427.70,171.39" fill="#404040" stroke="#2a2a2a" stroke-width="0.55" stroke-linejoin="round"/>
<polygon points="433.77,173.99 435.60,171.79 435.62,169.99 433.79,172.18" fill="#333" stroke="#2a2a2a" stroke-width="0.55" stroke-linejoin="round"/>
<polygon points="427.70,171.39 433.79,172.18 435.62,169.99 429.58,169.21" fill="#6a6a6a" stroke="#2a2a2a" stroke-width="0.65" stroke-linejoin="round"/>
<polygon points="441.93,175.11 448.09,175.91 448.12,174.09 441.95,173.29" fill="#404040" stroke="#2a2a2a" stroke-width="0.55" stroke-linejoin="round"/>
<polygon points="448.09,175.91 449.82,173.68 449.85,171.87 448.12,174.09" fill="#333" stroke="#2a2a2a" stroke-width="0.55" stroke-linejoin="round"/>
<polygon points="441.95,173.29 448.12,174.09 449.85,171.87 443.73,171.08" fill="#6a6a6a" stroke="#2a2a2a" stroke-width="0.65" stroke-linejoin="round"/>
<polygon points="394.42,174.68 400.44,175.48 400.44,173.66 394.42,172.86" fill="#b0b0b0" stroke="#2a2a2a" stroke-width="0.55" stroke-linejoin="round"/>
<polygon points="400.44,175.48 402.55,173.26 402.55,171.45 400.44,173.66" fill="#333" stroke="#2a2a2a" stroke-width="0.55" stroke-linejoin="round"/>
<polygon points="394.42,172.86 400.44,173.66 402.55,171.45 396.57,170.66" fill="#f4f4f4" stroke="#2a2a2a" stroke-width="0.65" stroke-linejoin="round"/>
<polygon points="456.36,177.05 462.61,177.86 462.65,176.02 456.40,175.21" fill="#404040" stroke="#2a2a2a" stroke-width="0.55" stroke-linejoin="round"/>
<polygon points="462.61,177.86 464.23,175.60 464.27,173.77 462.65,176.02" fill="#333" stroke="#2a2a2a" stroke-width="0.55" stroke-linejoin="round"/>
<polygon points="456.40,175.21 462.65,176.02 464.27,173.77 458.07,172.98" fill="#6a6a6a" stroke="#2a2a2a" stroke-width="0.65" stroke-linejoin="round"/>
<polygon points="408.47,176.61 414.57,177.43 414.58,175.59 408.48,174.78" fill="#b0b0b0" stroke="#2a2a2a" stroke-width="0.55" stroke-linejoin="round"/>
<polygon points="414.57,177.43 416.58,175.17 416.59,173.35 414.58,175.59" fill="#333" stroke="#2a2a2a" stroke-width="0.55" stroke-linejoin="round"/>
<polygon points="408.48,174.78 414.58,175.59 416.59,173.35 410.53,172.55" fill="#f4f4f4" stroke="#2a2a2a" stroke-width="0.65" stroke-linejoin="round"/>
<polygon points="422.72,178.57 428.90,179.40 428.92,177.55 422.73,176.73" fill="#b0b0b0" stroke="#2a2a2a" stroke-width="0.55" stroke-linejoin="round"/>
<polygon points="428.90,179.40 430.81,177.11 430.83,175.28 428.92,177.55" fill="#333" stroke="#2a2a2a" stroke-width="0.55" stroke-linejoin="round"/>
<polygon points="422.73,176.73 428.92,177.55 430.83,175.28 424.68,174.47" fill="#f4f4f4" stroke="#2a2a2a" stroke-width="0.65" stroke-linejoin="round"/>
<polygon points="437.16,180.56 443.43,181.40 443.46,179.54 437.18,178.71" fill="#b0b0b0" stroke="#2a2a2a" stroke-width="0.55" stroke-linejoin="round"/>
<polygon points="443.43,181.40 445.23,179.08 445.26,177.23 443.46,179.54" fill="#333" stroke="#2a2a2a" stroke-width="0.55" stroke-linejoin="round"/>
<polygon points="437.18,178.71 443.46,179.54 445.26,177.23 439.03,176.41" fill="#f4f4f4" stroke="#2a2a2a" stroke-width="0.65" stroke-linejoin="round"/>
<polygon points="451.80,182.57 458.16,183.42 458.20,181.55 451.84,180.71" fill="#b0b0b0" stroke="#2a2a2a" stroke-width="0.55" stroke-linejoin="round"/>
<polygon points="458.16,183.42 459.85,181.07 459.89,179.21 458.20,181.55" fill="#333" stroke="#2a2a2a" stroke-width="0.55" stroke-linejoin="round"/>
<polygon points="451.84,180.71 458.20,181.55 459.89,179.21 453.58,178.38" fill="#f4f4f4" stroke="#2a2a2a" stroke-width="0.65" stroke-linejoin="round"/>
<text x="291.20" y="165.92" class="tl" text-anchor="end">0</text>
<text x="290.31" y="138.38" class="tl" text-anchor="end">0,5</text>
<text x="289.40" y="110.37" class="tl" text-anchor="end">1</text>
<text x="288.48" y="81.86" class="tl" text-anchor="end">1,5</text>
<text x="287.54" y="52.84" class="tl" text-anchor="end">2</text>
<text x="286.58" y="23.31" class="tl" text-anchor="end">2,5</text>
<text x="263.6" y="9.1" class="big">B</text>
<text x="301.90" y="170.30" dy="1.7" class="pl" text-anchor="middle" transform="rotate(9 301.90 170.30)">#24</text>
<text x="315.10" y="172.10" dy="1.7" class="pl" text-anchor="middle" transform="rotate(9 315.10 172.10)">#26</text>
<text x="328.30" y="173.80" dy="1.7" class="pl" text-anchor="middle" transform="rotate(9 328.30 173.80)">#20</text>
<text x="341.40" y="175.60" dy="1.7" class="pl" text-anchor="middle" transform="rotate(9 341.40 175.60)">#21</text>
<text x="354.70" y="178.00" dy="1.7" class="pl" text-anchor="middle" transform="rotate(9 354.70 178.00)">#31</text>
<text x="368.50" y="179.80" dy="1.7" class="pl" text-anchor="middle" transform="rotate(9 368.50 179.80)">#51</text>
<text x="382.70" y="181.60" dy="1.7" class="pl" text-anchor="middle" transform="rotate(9 382.70 181.60)">#44</text>
<text x="396.80" y="183.50" dy="1.7" class="pl" text-anchor="middle" transform="rotate(9 396.80 183.50)">#46</text>
<text x="410.80" y="185.60" dy="1.7" class="pl" text-anchor="middle" transform="rotate(9 410.80 185.60)">#45</text>
<text x="425.50" y="187.60" dy="1.7" class="pl" text-anchor="middle" transform="rotate(9 425.50 187.60)">#27</text>
<text x="440.50" y="189.60" dy="1.7" class="pl" text-anchor="middle" transform="rotate(9 440.50 189.60)">#47</text>
<text x="455.50" y="191.60" dy="1.7" class="pl" text-anchor="middle" transform="rotate(9 455.50 191.60)">#48</text>
<text x="471.50" y="184.50" class="al">PC9</text>
<text x="474.50" y="178.10" class="al">LLP</text>
<text x="479.00" y="173.10" class="al">FAM32</text>
<text x="482.70" y="168.30" class="al">Notch2</text>
<text x="485.70" y="163.90" class="al">Calcyc</text>
<text x="489.50" y="158.60" class="al">SMCHD</text>
<text x="493.20" y="154.10" class="al">MAZ</text>
<text x="496.20" y="149.60" class="al">ACTB</text>
<text x="498.70" y="145.10" class="al">MTUS</text>
<text x="349.1" y="191.4" class="ax">patient</text>
<text x="511.5" y="167.1" class="ax2" text-anchor="middle" transform="rotate(-55.7 511.5 167.1)" dy="1.9">antigen</text>
<text x="271.3" y="88.0" class="yl" text-anchor="middle" transform="rotate(-90 271.3 88.0)">nFab bound (A490nm)</text>
<polyline points="158.01,345.52 192.13,334.83 373.89,375.60" fill="none" stroke="#a2a2a2" stroke-width="0.7"/>
<polyline points="157.77,332.79 191.99,322.69 374.27,361.43" fill="none" stroke="#a2a2a2" stroke-width="0.7"/>
<polyline points="157.53,320.00 191.85,310.50 374.66,347.18" fill="none" stroke="#a2a2a2" stroke-width="0.7"/>
<polyline points="157.29,307.13 191.71,298.24 375.04,332.84" fill="none" stroke="#a2a2a2" stroke-width="0.7"/>
<polyline points="157.05,294.20 191.56,285.92 375.43,318.41" fill="none" stroke="#a2a2a2" stroke-width="0.7"/>
<polyline points="156.80,281.19 191.42,273.53 375.83,303.89" fill="none" stroke="#a2a2a2" stroke-width="0.7"/>
<polyline points="156.56,268.12 191.28,261.08 376.22,289.29" fill="none" stroke="#a2a2a2" stroke-width="0.7"/>
<polyline points="156.31,254.97 191.13,248.57 376.62,274.59" fill="none" stroke="#a2a2a2" stroke-width="0.7"/>
<polyline points="156.06,241.75 190.99,235.99 377.02,259.81" fill="none" stroke="#a2a2a2" stroke-width="0.7"/>
<polyline points="155.81,228.46 190.84,223.34 377.42,244.93" fill="none" stroke="#a2a2a2" stroke-width="0.7"/>
<polyline points="155.56,215.10 190.70,210.63 377.82,229.96" fill="none" stroke="#a2a2a2" stroke-width="0.7"/>
<line x1="158.01" y1="345.52" x2="155.56" y2="215.10" stroke="#a8a8a8" stroke-width="0.7"/>
<line x1="156.01" y1="345.72" x2="158.01" y2="345.52" stroke="#999" stroke-width="0.5"/>
<line x1="155.77" y1="332.99" x2="157.77" y2="332.79" stroke="#999" stroke-width="0.5"/>
<line x1="155.53" y1="320.20" x2="157.53" y2="320.00" stroke="#999" stroke-width="0.5"/>
<line x1="155.29" y1="307.33" x2="157.29" y2="307.13" stroke="#999" stroke-width="0.5"/>
<line x1="155.05" y1="294.40" x2="157.05" y2="294.20" stroke="#999" stroke-width="0.5"/>
<line x1="154.80" y1="281.39" x2="156.80" y2="281.19" stroke="#999" stroke-width="0.5"/>
<line x1="154.56" y1="268.32" x2="156.56" y2="268.12" stroke="#999" stroke-width="0.5"/>
<line x1="154.31" y1="255.17" x2="156.31" y2="254.97" stroke="#999" stroke-width="0.5"/>
<line x1="154.06" y1="241.95" x2="156.06" y2="241.75" stroke="#999" stroke-width="0.5"/>
<line x1="153.81" y1="228.66" x2="155.81" y2="228.46" stroke="#999" stroke-width="0.5"/>
<line x1="153.56" y1="215.30" x2="155.56" y2="215.10" stroke="#999" stroke-width="0.5"/>
<line x1="157.34" y1="345.73" x2="153.95" y2="346.79" stroke="#a0a0a0" stroke-width="0.6"/>
<line x1="160.15" y1="346.41" x2="156.77" y2="347.48" stroke="#a0a0a0" stroke-width="0.6"/>
<line x1="162.97" y1="347.10" x2="159.60" y2="348.17" stroke="#a0a0a0" stroke-width="0.6"/>
<line x1="165.81" y1="347.79" x2="162.44" y2="348.87" stroke="#a0a0a0" stroke-width="0.6"/>
<line x1="168.67" y1="348.49" x2="165.30" y2="349.57" stroke="#a0a0a0" stroke-width="0.6"/>
<line x1="171.55" y1="349.18" x2="168.18" y2="350.28" stroke="#a0a0a0" stroke-width="0.6"/>
<line x1="174.44" y1="349.89" x2="171.08" y2="350.99" stroke="#a0a0a0" stroke-width="0.6"/>
<line x1="177.35" y1="350.59" x2="173.99" y2="351.70" stroke="#a0a0a0" stroke-width="0.6"/>
<line x1="180.27" y1="351.31" x2="176.92" y2="352.42" stroke="#a0a0a0" stroke-width="0.6"/>
<line x1="183.21" y1="352.02" x2="179.87" y2="353.14" stroke="#a0a0a0" stroke-width="0.6"/>
<line x1="186.17" y1="352.74" x2="182.83" y2="353.87" stroke="#a0a0a0" stroke-width="0.6"/>
<line x1="189.15" y1="353.47" x2="185.81" y2="354.60" stroke="#a0a0a0" stroke-width="0.6"/>
<line x1="192.14" y1="354.19" x2="188.81" y2="355.33" stroke="#a0a0a0" stroke-width="0.6"/>
<line x1="195.15" y1="354.93" x2="191.83" y2="356.07" stroke="#a0a0a0" stroke-width="0.6"/>
<line x1="198.18" y1="355.66" x2="194.86" y2="356.82" stroke="#a0a0a0" stroke-width="0.6"/>
<line x1="201.23" y1="356.40" x2="197.91" y2="357.57" stroke="#a0a0a0" stroke-width="0.6"/>
<line x1="204.29" y1="357.15" x2="200.99" y2="358.32" stroke="#a0a0a0" stroke-width="0.6"/>
<line x1="207.38" y1="357.90" x2="204.07" y2="359.07" stroke="#a0a0a0" stroke-width="0.6"/>
<line x1="210.48" y1="358.65" x2="207.18" y2="359.84" stroke="#a0a0a0" stroke-width="0.6"/>
<line x1="213.60" y1="359.41" x2="210.31" y2="360.60" stroke="#a0a0a0" stroke-width="0.6"/>
<line x1="216.74" y1="360.18" x2="213.45" y2="361.37" stroke="#a0a0a0" stroke-width="0.6"/>
<line x1="219.90" y1="360.94" x2="216.62" y2="362.15" stroke="#a0a0a0" stroke-width="0.6"/>
<line x1="223.07" y1="361.72" x2="219.80" y2="362.93" stroke="#a0a0a0" stroke-width="0.6"/>
<line x1="226.27" y1="362.49" x2="223.00" y2="363.71" stroke="#a0a0a0" stroke-width="0.6"/>
<line x1="229.48" y1="363.28" x2="226.22" y2="364.50" stroke="#a0a0a0" stroke-width="0.6"/>
<line x1="232.72" y1="364.06" x2="229.47" y2="365.30" stroke="#a0a0a0" stroke-width="0.6"/>
<line x1="235.97" y1="364.85" x2="232.73" y2="366.10" stroke="#a0a0a0" stroke-width="0.6"/>
<line x1="239.25" y1="365.65" x2="236.01" y2="366.90" stroke="#a0a0a0" stroke-width="0.6"/>
<line x1="242.54" y1="366.45" x2="239.31" y2="367.71" stroke="#a0a0a0" stroke-width="0.6"/>
<line x1="245.86" y1="367.26" x2="242.63" y2="368.53" stroke="#a0a0a0" stroke-width="0.6"/>
<line x1="249.19" y1="368.07" x2="245.98" y2="369.35" stroke="#a0a0a0" stroke-width="0.6"/>
<line x1="252.55" y1="368.89" x2="249.34" y2="370.17" stroke="#a0a0a0" stroke-width="0.6"/>
<line x1="255.93" y1="369.71" x2="252.73" y2="371.00" stroke="#a0a0a0" stroke-width="0.6"/>
<line x1="259.32" y1="370.53" x2="256.13" y2="371.84" stroke="#a0a0a0" stroke-width="0.6"/>
<line x1="262.74" y1="371.37" x2="259.56" y2="372.68" stroke="#a0a0a0" stroke-width="0.6"/>
<line x1="266.19" y1="372.20" x2="263.01" y2="373.52" stroke="#a0a0a0" stroke-width="0.6"/>
<line x1="269.65" y1="373.04" x2="266.48" y2="374.37" stroke="#a0a0a0" stroke-width="0.6"/>
<line x1="273.13" y1="373.89" x2="269.97" y2="375.23" stroke="#a0a0a0" stroke-width="0.6"/>
<line x1="276.64" y1="374.75" x2="273.49" y2="376.09" stroke="#a0a0a0" stroke-width="0.6"/>
<line x1="280.17" y1="375.60" x2="277.03" y2="376.96" stroke="#a0a0a0" stroke-width="0.6"/>
<line x1="283.72" y1="376.47" x2="280.59" y2="377.83" stroke="#a0a0a0" stroke-width="0.6"/>
<line x1="287.29" y1="377.34" x2="284.17" y2="378.71" stroke="#a0a0a0" stroke-width="0.6"/>
<line x1="290.89" y1="378.21" x2="287.78" y2="379.59" stroke="#a0a0a0" stroke-width="0.6"/>
<line x1="294.51" y1="379.09" x2="291.41" y2="380.48" stroke="#a0a0a0" stroke-width="0.6"/>
<line x1="298.16" y1="379.98" x2="295.06" y2="381.38" stroke="#a0a0a0" stroke-width="0.6"/>
<line x1="301.82" y1="380.87" x2="298.74" y2="382.28" stroke="#a0a0a0" stroke-width="0.6"/>
<line x1="305.51" y1="381.77" x2="302.44" y2="383.19" stroke="#a0a0a0" stroke-width="0.6"/>
<line x1="309.23" y1="382.67" x2="306.17" y2="384.10" stroke="#a0a0a0" stroke-width="0.6"/>
<line x1="312.97" y1="383.58" x2="309.92" y2="385.02" stroke="#a0a0a0" stroke-width="0.6"/>
<line x1="316.73" y1="384.50" x2="313.69" y2="385.95" stroke="#a0a0a0" stroke-width="0.6"/>
<line x1="320.52" y1="385.42" x2="317.49" y2="386.88" stroke="#a0a0a0" stroke-width="0.6"/>
<line x1="324.34" y1="386.35" x2="321.32" y2="387.82" stroke="#a0a0a0" stroke-width="0.6"/>
<line x1="328.18" y1="387.28" x2="325.17" y2="388.76" stroke="#a0a0a0" stroke-width="0.6"/>
<line x1="332.04" y1="388.22" x2="329.05" y2="389.71" stroke="#a0a0a0" stroke-width="0.6"/>
<line x1="335.93" y1="389.17" x2="332.95" y2="390.67" stroke="#a0a0a0" stroke-width="0.6"/>
<line x1="339.85" y1="390.12" x2="336.88" y2="391.63" stroke="#a0a0a0" stroke-width="0.6"/>
<line x1="343.79" y1="391.08" x2="340.83" y2="392.60" stroke="#a0a0a0" stroke-width="0.6"/>
<polygon points="189.35,335.98 191.07,336.37 193.60,335.57 191.88,335.19" fill="#828282"/>
<polygon points="189.37,337.20 191.08,337.59 191.07,336.37 189.35,335.98" fill="#2a2a2a"/>
<polygon points="185.23,337.27 186.95,337.67 189.51,336.86 187.79,336.47" fill="#828282"/>
<polygon points="185.25,338.50 186.97,338.89 186.95,337.67 185.23,337.27" fill="#2a2a2a"/>
<polygon points="192.12,336.61 193.85,337.00 196.37,336.20 194.65,335.81" fill="#828282"/>
<polygon points="192.14,337.83 193.86,338.22 193.85,337.00 192.12,336.61" fill="#2a2a2a"/>
<polygon points="181.06,338.58 182.78,338.98 185.37,338.16 183.65,337.77" fill="#828282"/>
<polygon points="181.07,339.81 182.80,340.21 182.78,338.98 181.06,338.58" fill="#2a2a2a"/>
<polygon points="188.01,337.91 189.74,338.30 192.29,337.49 190.56,337.10" fill="#828282"/>
<polygon points="188.02,339.13 189.75,339.53 189.74,338.30 188.01,337.91" fill="#2a2a2a"/>
<polygon points="194.91,337.24 196.65,337.63 199.17,336.82 197.43,336.43" fill="#828282"/>
<polygon points="194.92,338.46 196.66,338.85 196.65,337.63 194.91,337.24" fill="#2a2a2a"/>
<polygon points="176.83,339.91 178.56,340.31 181.18,339.48 179.46,339.08" fill="#828282"/>
<polygon points="176.85,341.15 178.58,341.55 178.56,340.31 176.83,339.91" fill="#2a2a2a"/>
<polygon points="183.84,339.22 185.57,339.62 188.16,338.80 186.43,338.41" fill="#828282"/>
<polygon points="183.86,340.46 185.59,340.86 185.57,339.62 183.84,339.22" fill="#2a2a2a"/>
<polygon points="172.55,341.25 174.28,341.66 176.94,340.82 175.21,340.42" fill="#828282"/>
<polygon points="172.57,342.50 174.30,342.91 174.28,341.66 172.55,341.25" fill="#2a2a2a"/>
<polygon points="190.80,338.55 192.54,338.94 195.09,338.13 193.35,337.73" fill="#828282"/>
<polygon points="190.81,339.78 192.55,340.17 192.54,338.94 190.80,338.55" fill="#2a2a2a"/>
<polygon points="197.71,337.87 199.46,338.27 201.97,337.46 200.23,337.06" fill="#828282"/>
<polygon points="197.73,339.10 199.47,339.49 199.46,338.27 197.71,337.87" fill="#2a2a2a"/>
<polygon points="179.62,340.56 181.36,340.96 183.98,340.13 182.24,339.73" fill="#828282"/>
<polygon points="179.64,341.80 181.37,342.21 181.36,340.96 179.62,340.56" fill="#2a2a2a"/>
<polygon points="168.22,342.61 169.96,343.02 172.65,342.17 170.91,341.77" fill="#828282"/>
<polygon points="168.24,343.86 169.98,344.28 169.96,343.02 168.22,342.61" fill="#2a2a2a"/>
<polygon points="186.64,339.87 188.38,340.27 190.97,339.45 189.22,339.05" fill="#828282"/>
<polygon points="186.65,341.11 188.40,341.51 188.38,340.27 186.64,339.87" fill="#2a2a2a"/>
<polygon points="175.35,341.91 177.09,342.32 179.74,341.48 178.00,341.07" fill="#828282"/>
<polygon points="175.37,343.16 177.11,343.57 177.09,342.32 175.35,341.91" fill="#2a2a2a"/>
<polygon points="193.61,339.19 195.36,339.59 197.91,338.77 196.16,338.37" fill="#828282"/>
<polygon points="193.62,340.42 195.37,340.82 195.36,339.59 193.61,339.19" fill="#2a2a2a"/>
<polygon points="163.84,343.99 165.57,344.40 168.30,343.54 166.56,343.13" fill="#828282"/>
<polygon points="163.86,345.25 165.59,345.67 165.57,344.40 163.84,343.99" fill="#2a2a2a"/>
<polygon points="200.53,338.51 202.28,338.90 204.80,338.09 203.05,337.70" fill="#828282"/>
<polygon points="200.54,339.74 202.30,340.14 202.28,338.90 200.53,338.51" fill="#2a2a2a"/>
<polygon points="182.43,341.21 184.17,341.62 186.79,340.78 185.04,340.38" fill="#828282"/>
<polygon points="182.44,342.46 184.19,342.86 184.17,341.62 182.43,341.21" fill="#2a2a2a"/>
<polygon points="171.02,343.27 172.77,343.69 175.45,342.84 173.71,342.43" fill="#828282"/>
<polygon points="171.04,344.53 172.79,344.95 172.77,343.69 171.02,343.27" fill="#2a2a2a"/>
<polygon points="189.45,340.52 191.21,340.92 193.79,340.09 192.04,339.69" fill="#828282"/>
<polygon points="189.47,341.76 191.22,342.16 191.21,340.92 189.45,340.52" fill="#2a2a2a"/>
<polygon points="159.39,345.38 161.13,345.80 163.89,344.93 162.15,344.51" fill="#828282"/>
<polygon points="159.42,346.65 161.16,347.07 161.13,345.80 159.39,345.38" fill="#2a2a2a"/>
<polygon points="196.43,339.83 198.19,340.23 200.73,339.41 198.98,339.01" fill="#828282"/>
<polygon points="196.45,341.07 198.20,341.47 198.19,340.23 196.43,339.83" fill="#2a2a2a"/>
<polygon points="178.16,342.57 179.91,342.98 182.56,342.13 180.81,341.72" fill="#828282"/>
<polygon points="178.18,343.82 179.93,344.23 179.91,342.98 178.16,342.57" fill="#2a2a2a"/>
<polygon points="203.36,339.15 205.13,339.55 207.64,338.73 205.87,338.33" fill="#828282"/>
<polygon points="203.37,340.38 205.14,340.78 205.13,339.55 203.36,339.15" fill="#2a2a2a"/>
<polygon points="166.64,344.66 168.39,345.08 171.11,344.21 169.36,343.80" fill="#828282"/>
<polygon points="166.66,345.92 168.41,346.34 168.39,345.08 166.64,344.66" fill="#2a2a2a"/>
<polygon points="185.25,341.87 187.00,342.28 189.61,341.43 187.86,341.03" fill="#828282"/>
<polygon points="185.26,343.11 187.02,343.53 187.00,342.28 185.25,341.87" fill="#2a2a2a"/>
<polygon points="173.84,343.94 175.59,344.36 178.28,343.50 176.52,343.09" fill="#828282"/>
<polygon points="173.86,345.20 175.61,345.62 175.59,344.36 173.84,343.94" fill="#2a2a2a"/>
<polygon points="192.28,341.17 194.05,341.58 196.62,340.74 194.86,340.34" fill="#828282"/>
<polygon points="192.30,342.41 194.06,342.82 194.05,341.58 192.28,341.17" fill="#2a2a2a"/>
<polygon points="162.20,346.06 163.95,346.49 166.71,345.61 164.96,345.19" fill="#828282"/>
<polygon points="162.23,347.33 163.98,347.76 163.95,346.49 162.20,346.06" fill="#2a2a2a"/>
<polygon points="199.27,340.48 201.04,340.88 203.58,340.05 201.81,339.65" fill="#828282"/>
<polygon points="199.28,341.72 201.05,342.12 201.04,340.88 199.27,340.48" fill="#2a2a2a"/>
<polygon points="180.98,343.23 182.74,343.65 185.39,342.79 183.63,342.38" fill="#828282"/>
<polygon points="181.00,344.49 182.76,344.90 182.74,343.65 180.98,343.23" fill="#2a2a2a"/>
<polygon points="206.21,339.79 207.99,340.19 210.49,339.37 208.72,338.97" fill="#828282"/>
<polygon points="206.22,341.03 208.00,341.43 207.99,340.19 206.21,339.79" fill="#2a2a2a"/>
<polygon points="169.46,345.34 171.22,345.76 173.94,344.89 172.18,344.47" fill="#828282"/>
<polygon points="169.48,346.60 171.24,347.03 171.22,345.76 169.46,345.34" fill="#2a2a2a"/>
<polygon points="188.08,342.53 189.85,342.94 192.46,342.09 190.69,341.68" fill="#828282"/>
<polygon points="188.10,343.78 189.86,344.19 189.85,342.94 188.08,342.53" fill="#2a2a2a"/>
<polygon points="195.13,341.83 196.90,342.24 199.47,341.39 197.70,340.99" fill="#828282"/>
<polygon points="195.14,343.07 196.91,343.48 196.90,342.24 195.13,341.83" fill="#2a2a2a"/>
<polygon points="176.67,344.62 178.43,345.03 181.11,344.17 179.35,343.76" fill="#828282"/>
<polygon points="176.69,345.88 178.45,346.30 178.43,345.03 176.67,344.62" fill="#2a2a2a"/>
<polygon points="165.03,346.75 166.79,347.17 169.54,346.29 167.79,345.87" fill="#828282"/>
<polygon points="165.05,348.02 166.81,348.45 166.79,347.17 165.03,346.75" fill="#2a2a2a"/>
<polygon points="202.13,341.13 203.90,341.54 206.44,340.70 204.67,340.30" fill="#828282"/>
<polygon points="202.14,342.37 203.92,342.78 203.90,341.54 202.13,341.13" fill="#2a2a2a"/>
<polygon points="183.83,343.90 185.60,344.32 188.24,343.46 186.47,343.05" fill="#828282"/>
<polygon points="183.84,345.16 185.61,345.58 185.60,344.32 183.83,343.90" fill="#2a2a2a"/>
<polygon points="209.08,340.44 210.86,340.84 213.36,340.01 211.58,339.61" fill="#828282"/>
<polygon points="209.09,341.68 210.87,342.08 210.86,340.84 209.08,340.44" fill="#2a2a2a"/>
<polygon points="172.30,346.02 174.07,346.44 176.78,345.57 175.02,345.15" fill="#828282"/>
<polygon points="172.32,347.29 174.09,347.71 174.07,346.44 172.30,346.02" fill="#2a2a2a"/>
<polygon points="190.93,343.19 192.71,343.60 195.31,342.75 193.54,342.34" fill="#828282"/>
<polygon points="190.95,344.45 192.72,344.86 192.71,343.60 190.93,343.19" fill="#2a2a2a"/>
<polygon points="197.99,342.49 199.77,342.90 202.34,342.05 200.56,341.64" fill="#828282"/>
<polygon points="198.00,343.74 199.78,344.15 199.77,342.90 197.99,342.49" fill="#2a2a2a"/>
<polygon points="179.52,345.29 181.29,345.71 183.97,344.85 182.20,344.43" fill="#828282"/>
<polygon points="179.54,346.56 181.31,346.98 181.29,345.71 179.52,345.29" fill="#2a2a2a"/>
<polygon points="205.00,341.79 206.78,342.19 209.32,341.35 207.53,340.95" fill="#828282"/>
<polygon points="205.01,343.03 206.80,343.44 206.78,342.19 205.00,341.79" fill="#2a2a2a"/>
<polygon points="167.87,347.44 169.65,347.86 172.39,346.98 170.63,346.55" fill="#828282"/>
<polygon points="167.90,348.71 169.67,349.15 169.65,347.86 167.87,347.44" fill="#2a2a2a"/>
<polygon points="186.68,344.57 188.46,344.99 191.10,344.13 189.33,343.71" fill="#828282"/>
<polygon points="186.70,345.83 188.48,346.26 188.46,344.99 186.68,344.57" fill="#2a2a2a"/>
<polygon points="211.96,341.09 213.75,341.50 216.25,340.66 214.45,340.26" fill="#828282"/>
<polygon points="211.96,342.33 213.76,342.74 213.75,341.50 211.96,341.09" fill="#2a2a2a"/>
<polygon points="175.15,346.70 176.93,347.13 179.64,346.25 177.87,345.83" fill="#828282"/>
<polygon points="175.17,347.98 176.95,348.40 176.93,347.13 175.15,346.70" fill="#2a2a2a"/>
<polygon points="193.80,343.86 195.59,344.27 198.19,343.42 196.40,343.01" fill="#828282"/>
<polygon points="193.81,345.12 195.60,345.53 195.59,344.27 193.80,343.86" fill="#2a2a2a"/>
<polygon points="200.87,343.15 202.66,343.56 205.22,342.71 203.43,342.30" fill="#828282"/>
<polygon points="200.88,344.40 202.67,344.82 202.66,343.56 200.87,343.15" fill="#2a2a2a"/>
<polygon points="182.38,345.97 184.17,346.40 186.84,345.52 185.06,345.10" fill="#828282"/>
<polygon points="182.40,347.24 184.18,347.67 184.17,346.40 182.38,345.97" fill="#2a2a2a"/>
<polygon points="207.88,342.45 209.68,342.86 212.21,342.01 210.41,341.60" fill="#828282"/>
<polygon points="207.89,343.69 209.69,344.11 209.68,342.86 207.88,342.45" fill="#2a2a2a"/>
<polygon points="170.73,348.13 172.51,348.56 175.26,347.67 173.48,347.24" fill="#828282"/>
<polygon points="170.75,349.41 172.54,349.84 172.51,348.56 170.73,348.13" fill="#2a2a2a"/>
<polygon points="189.56,345.25 191.35,345.67 193.98,344.80 192.20,344.38" fill="#828282"/>
<polygon points="189.57,346.51 191.36,346.94 191.35,345.67 189.56,345.25" fill="#2a2a2a"/>
<polygon points="214.85,341.75 216.66,342.15 219.15,341.31 217.35,340.91" fill="#828282"/>
<polygon points="214.86,342.99 216.66,343.40 216.66,342.15 214.85,341.75" fill="#2a2a2a"/>
<polygon points="196.68,344.53 198.48,344.95 201.08,344.09 199.28,343.67" fill="#828282"/>
<polygon points="196.70,345.79 198.49,346.21 198.48,344.95 196.68,344.53" fill="#2a2a2a"/>
<polygon points="178.02,347.39 179.81,347.82 182.52,346.93 180.73,346.51" fill="#828282"/>
<polygon points="178.04,348.67 179.83,349.10 179.81,347.82 178.02,347.39" fill="#2a2a2a"/>
<polygon points="203.76,343.82 205.56,344.23 208.12,343.38 206.32,342.96" fill="#828282"/>
<polygon points="203.77,345.07 205.57,345.49 205.56,344.23 203.76,343.82" fill="#2a2a2a"/>
<polygon points="185.26,346.66 187.06,347.08 189.72,346.20 187.93,345.78" fill="#828282"/>
<polygon points="185.28,347.93 187.07,348.36 187.06,347.08 185.26,346.66" fill="#2a2a2a"/>
<polygon points="210.79,343.11 212.59,343.52 215.12,342.67 213.31,342.26" fill="#828282"/>
<polygon points="210.80,344.36 212.60,344.78 212.59,343.52 210.79,343.11" fill="#2a2a2a"/>
<polygon points="173.61,348.83 175.40,349.26 178.14,348.36 176.35,347.93" fill="#828282"/>
<polygon points="173.63,350.11 175.42,350.55 175.40,349.26 173.61,348.83" fill="#2a2a2a"/>
<polygon points="192.45,345.93 194.25,346.35 196.88,345.48 195.08,345.06" fill="#828282"/>
<polygon points="192.46,347.20 194.26,347.62 194.25,346.35 192.45,345.93" fill="#2a2a2a"/>
<polygon points="217.76,342.40 219.58,342.81 222.07,341.97 220.25,341.56" fill="#828282"/>
<polygon points="217.77,343.65 219.58,344.06 219.58,342.81 217.76,342.40" fill="#2a2a2a"/>
<polygon points="199.58,345.20 201.39,345.63 203.98,344.76 202.18,344.34" fill="#828282"/>
<polygon points="199.60,346.47 201.40,346.89 201.39,345.63 199.58,345.20" fill="#2a2a2a"/>
<polygon points="180.91,348.08 182.71,348.51 185.41,347.62 183.62,347.20" fill="#828282"/>
<polygon points="180.93,349.36 182.73,349.80 182.71,348.51 180.91,348.08" fill="#2a2a2a"/>
<polygon points="206.67,344.49 208.48,344.90 211.04,344.04 209.23,343.63" fill="#828282"/>
<polygon points="206.68,345.75 208.49,346.17 208.48,344.90 206.67,344.49" fill="#2a2a2a"/>
<polygon points="188.16,347.34 189.96,347.77 192.63,346.89 190.83,346.46" fill="#828282"/>
<polygon points="188.17,348.62 189.98,349.05 189.96,347.77 188.16,347.34" fill="#2a2a2a"/>
<polygon points="213.71,343.77 215.52,344.19 218.04,343.33 216.23,342.92" fill="#828282"/>
<polygon points="213.71,345.03 215.53,345.45 215.52,344.19 213.71,343.77" fill="#2a2a2a"/>
<polygon points="195.36,346.61 197.17,347.04 199.79,346.16 197.98,345.74" fill="#828282"/>
<polygon points="195.37,347.88 197.18,348.31 197.17,347.04 195.36,346.61" fill="#2a2a2a"/>
<polygon points="176.50,349.53 178.30,349.96 181.04,349.06 179.24,348.63" fill="#828282"/>
<polygon points="176.52,350.82 178.32,351.25 178.30,349.96 176.50,349.53" fill="#2a2a2a"/>
<polygon points="220.69,343.07 222.52,343.48 225.00,342.63 223.18,342.22" fill="#828282"/>
<polygon points="220.70,344.32 222.52,344.73 222.52,343.48 220.69,343.07" fill="#2a2a2a"/>
<polygon points="202.50,345.88 204.32,346.31 206.91,345.44 205.09,345.02" fill="#828282"/>
<polygon points="202.51,347.15 204.33,347.58 204.32,346.31 202.50,345.88" fill="#2a2a2a"/>
<polygon points="183.81,348.78 185.62,349.21 188.32,348.32 186.51,347.89" fill="#828282"/>
<polygon points="183.83,350.06 185.64,350.50 185.62,349.21 183.81,348.78" fill="#2a2a2a"/>
<polygon points="209.60,345.16 211.42,345.58 213.97,344.72 212.15,344.30" fill="#828282"/>
<polygon points="209.61,346.42 211.43,346.85 211.42,345.58 209.60,345.16" fill="#2a2a2a"/>
<polygon points="191.07,348.04 192.89,348.47 195.55,347.58 193.73,347.15" fill="#828282"/>
<polygon points="191.09,349.32 192.90,349.75 192.89,348.47 191.07,348.04" fill="#2a2a2a"/>
<polygon points="216.64,344.44 218.47,344.86 220.98,344.00 219.16,343.59" fill="#828282"/>
<polygon points="216.65,345.70 218.48,346.12 218.47,344.86 216.64,344.44" fill="#2a2a2a"/>
<polygon points="198.28,347.30 200.10,347.73 202.72,346.84 200.90,346.42" fill="#828282"/>
<polygon points="198.29,348.57 200.11,349.00 200.10,347.73 198.28,347.30" fill="#2a2a2a"/>
<polygon points="179.41,350.23 181.22,350.67 183.96,349.76 182.15,349.33" fill="#828282"/>
<polygon points="179.43,351.52 181.24,351.97 181.22,350.67 179.41,350.23" fill="#2a2a2a"/>
<polygon points="223.64,343.73 225.47,344.15 227.95,343.29 226.12,342.88" fill="#828282"/>
<polygon points="223.64,344.99 225.48,345.40 225.47,344.15 223.64,343.73" fill="#2a2a2a"/>
<polygon points="205.43,346.57 207.26,346.99 209.85,346.12 208.02,345.69" fill="#828282"/>
<polygon points="205.45,347.84 207.27,348.27 207.26,346.99 205.43,346.57" fill="#2a2a2a"/>
<polygon points="186.73,349.48 188.55,349.92 191.25,349.01 189.43,348.58" fill="#828282"/>
<polygon points="186.75,350.77 188.57,351.21 188.55,349.92 186.73,349.48" fill="#2a2a2a"/>
<polygon points="212.54,345.84 214.37,346.26 216.92,345.39 215.09,344.97" fill="#828282"/>
<polygon points="212.55,347.11 214.38,347.53 214.37,346.26 212.54,345.84" fill="#2a2a2a"/>
<polygon points="194.00,348.73 195.83,349.16 198.48,348.27 196.66,347.84" fill="#828282"/>
<polygon points="194.02,350.01 195.84,350.45 195.83,349.16 194.00,348.73" fill="#2a2a2a"/>
<polygon points="219.59,345.12 221.43,345.54 223.94,344.67 222.11,344.26" fill="#828282"/>
<polygon points="219.60,346.38 221.44,346.80 221.43,345.54 219.59,345.12" fill="#2a2a2a"/>
<polygon points="201.22,347.99 203.05,348.42 205.67,347.53 203.84,347.11" fill="#828282"/>
<polygon points="201.23,349.27 203.06,349.70 203.05,348.42 201.22,347.99" fill="#2a2a2a"/>
<polygon points="182.34,350.94 184.16,351.38 186.89,350.47 185.07,350.03" fill="#828282"/>
<polygon points="182.35,352.24 184.18,352.68 184.16,351.38 182.34,350.94" fill="#2a2a2a"/>
<polygon points="226.60,344.40 228.44,344.82 230.92,343.96 229.07,343.55" fill="#828282"/>
<polygon points="226.60,345.66 228.45,346.08 228.44,344.82 226.60,344.40" fill="#2a2a2a"/>
<polygon points="208.38,347.25 210.22,347.68 212.80,346.80 210.97,346.37" fill="#828282"/>
<polygon points="208.39,348.53 210.23,348.96 210.22,347.68 208.38,347.25" fill="#2a2a2a"/>
<polygon points="189.67,350.18 191.50,350.62 194.19,349.72 192.36,349.28" fill="#828282"/>
<polygon points="189.68,351.47 191.51,351.92 191.50,350.62 189.67,350.18" fill="#2a2a2a"/>
<polygon points="215.50,346.52 217.34,346.95 219.88,346.07 218.04,345.65" fill="#828282"/>
<polygon points="215.51,347.79 217.35,348.22 217.34,346.95 215.50,346.52" fill="#2a2a2a"/>
<polygon points="196.95,349.43 198.78,349.87 201.44,348.97 199.60,348.54" fill="#828282"/>
<polygon points="196.96,350.72 198.80,351.16 198.78,349.87 196.95,349.43" fill="#2a2a2a"/>
<polygon points="222.56,345.80 224.41,346.22 226.92,345.35 225.07,344.93" fill="#828282"/>
<polygon points="222.57,347.06 224.42,347.49 224.41,346.22 222.56,345.80" fill="#2a2a2a"/>
<polygon points="204.18,348.68 206.02,349.12 208.63,348.22 206.79,347.79" fill="#828282"/>
<polygon points="204.19,349.97 206.03,350.40 206.02,349.12 204.18,348.68" fill="#2a2a2a"/>
<polygon points="185.28,351.65 187.11,352.10 189.84,351.18 188.01,350.74" fill="#828282"/>
<polygon points="185.30,352.95 187.13,353.40 187.11,352.10 185.28,351.65" fill="#2a2a2a"/>
<polygon points="229.58,345.07 231.43,345.49 233.90,344.63 232.05,344.21" fill="#828282"/>
<polygon points="229.58,346.34 231.43,346.76 231.43,345.49 229.58,345.07" fill="#2a2a2a"/>
<polygon points="211.35,347.94 213.20,348.37 215.77,347.49 213.93,347.06" fill="#828282"/>
<polygon points="211.36,349.22 213.21,349.65 213.20,348.37 211.35,347.94" fill="#2a2a2a"/>
<polygon points="192.62,350.89 194.46,351.33 197.15,350.42 195.31,349.98" fill="#828282"/>
<polygon points="192.64,352.19 194.48,352.63 194.46,351.33 192.62,350.89" fill="#2a2a2a"/>
<polygon points="218.47,347.21 220.33,347.63 222.87,346.75 221.01,346.33" fill="#828282"/>
<polygon points="218.48,348.48 220.34,348.91 220.33,347.63 218.47,347.21" fill="#2a2a2a"/>
<polygon points="199.91,350.13 201.76,350.57 204.41,349.67 202.56,349.23" fill="#828282"/>
<polygon points="199.92,351.43 201.77,351.87 201.76,350.57 199.91,350.13" fill="#2a2a2a"/>
<polygon points="225.55,346.48 227.41,346.90 229.91,346.03 228.05,345.61" fill="#828282"/>
<polygon points="225.55,347.75 227.41,348.17 227.41,346.90 225.55,346.48" fill="#2a2a2a"/>
<polygon points="207.15,349.38 209.00,349.82 211.61,348.92 209.76,348.49" fill="#828282"/>
<polygon points="207.16,350.67 209.01,351.11 209.00,349.82 207.15,349.38" fill="#2a2a2a"/>
<polygon points="188.24,352.37 190.08,352.82 192.81,351.90 190.96,351.45" fill="#828282"/>
<polygon points="188.26,353.67 190.10,354.12 190.08,352.82 188.24,352.37" fill="#2a2a2a"/>
<polygon points="232.57,345.75 234.44,346.17 236.90,345.30 235.04,344.89" fill="#828282"/>
<polygon points="232.57,347.02 234.44,347.44 234.44,346.17 232.57,345.75" fill="#2a2a2a"/>
<polygon points="214.33,348.64 216.19,349.07 218.76,348.18 216.91,347.75" fill="#828282"/>
<polygon points="214.34,349.92 216.20,350.35 216.19,349.07 214.33,348.64" fill="#2a2a2a"/>
<polygon points="195.59,351.60 197.44,352.05 200.13,351.13 198.28,350.69" fill="#828282"/>
<polygon points="195.61,352.90 197.46,353.35 197.44,352.05 195.59,351.60" fill="#2a2a2a"/>
<polygon points="221.47,347.90 223.33,348.33 225.86,347.44 224.00,347.01" fill="#828282"/>
<polygon points="221.47,349.17 223.34,349.61 223.33,348.33 221.47,347.90" fill="#2a2a2a"/>
<polygon points="202.89,350.84 204.75,351.28 207.39,350.37 205.54,349.94" fill="#828282"/>
<polygon points="202.90,352.14 204.76,352.58 204.75,351.28 202.89,350.84" fill="#2a2a2a"/>
<polygon points="228.55,347.16 230.42,347.59 232.92,346.71 231.05,346.29" fill="#828282"/>
<polygon points="228.55,348.44 230.42,348.86 230.42,347.59 228.55,347.16" fill="#2a2a2a"/>
<polygon points="210.14,350.09 212.00,350.52 214.61,349.62 212.75,349.19" fill="#828282"/>
<polygon points="210.15,351.38 212.01,351.82 212.00,350.52 210.14,350.09" fill="#2a2a2a"/>
<polygon points="235.58,346.43 237.46,346.86 239.92,345.98 238.04,345.56" fill="#828282"/>
<polygon points="235.59,347.70 237.46,348.13 237.46,346.86 235.58,346.43" fill="#2a2a2a"/>
<polygon points="191.22,353.09 193.07,353.54 195.79,352.61 193.94,352.17" fill="#828282"/>
<polygon points="191.23,354.40 193.09,354.85 193.07,353.54 191.22,353.09" fill="#2a2a2a"/>
<polygon points="217.33,349.34 219.20,349.77 221.77,348.87 219.90,348.44" fill="#828282"/>
<polygon points="217.34,350.62 219.21,351.06 219.20,349.77 217.33,349.34" fill="#2a2a2a"/>
<polygon points="198.58,352.32 200.44,352.77 203.12,351.85 201.26,351.40" fill="#828282"/>
<polygon points="198.59,353.62 200.45,354.07 200.44,352.77 198.58,352.32" fill="#2a2a2a"/>
<polygon points="224.48,348.59 226.35,349.02 228.88,348.13 227.01,347.70" fill="#828282"/>
<polygon points="224.48,349.87 226.36,350.31 226.35,349.02 224.48,348.59" fill="#2a2a2a"/>
<polygon points="205.89,351.55 207.76,352.00 210.40,351.08 208.53,350.64" fill="#828282"/>
<polygon points="205.90,352.85 207.77,353.30 207.76,352.00 205.89,351.55" fill="#2a2a2a"/>
<polygon points="231.57,347.85 233.45,348.28 235.94,347.40 234.06,346.97" fill="#828282"/>
<polygon points="231.57,349.13 233.45,349.56 233.45,348.28 231.57,347.85" fill="#2a2a2a"/>
<polygon points="213.15,350.79 215.02,351.23 217.62,350.33 215.75,349.89" fill="#828282"/>
<polygon points="213.16,352.09 215.03,352.53 215.02,351.23 213.15,350.79" fill="#2a2a2a"/>
<polygon points="238.61,347.12 240.50,347.54 242.95,346.66 241.07,346.24" fill="#828282"/>
<polygon points="238.61,348.39 240.50,348.82 240.50,347.54 238.61,347.12" fill="#2a2a2a"/>
<polygon points="194.21,353.82 196.08,354.27 198.79,353.34 196.93,352.89" fill="#828282"/>
<polygon points="194.23,355.13 196.09,355.58 196.08,354.27 194.21,353.82" fill="#2a2a2a"/>
<polygon points="220.35,350.04 222.23,350.48 224.79,349.57 222.92,349.14" fill="#828282"/>
<polygon points="220.36,351.33 222.24,351.77 222.23,350.48 220.35,350.04" fill="#2a2a2a"/>
<polygon points="201.59,353.04 203.46,353.49 206.13,352.56 204.26,352.12" fill="#828282"/>
<polygon points="201.60,354.35 203.47,354.80 203.46,353.49 201.59,353.04" fill="#2a2a2a"/>
<polygon points="227.50,349.29 229.39,349.72 231.91,348.83 230.03,348.40" fill="#828282"/>
<polygon points="227.51,350.57 229.40,351.01 229.39,349.72 227.50,349.29" fill="#2a2a2a"/>
<polygon points="208.91,352.27 210.78,352.72 213.42,351.80 211.54,351.35" fill="#828282"/>
<polygon points="208.92,353.57 210.79,354.02 210.78,352.72 208.91,352.27" fill="#2a2a2a"/>
<polygon points="234.61,348.54 236.50,348.98 238.98,348.09 237.10,347.66" fill="#828282"/>
<polygon points="234.61,349.82 236.50,350.26 236.50,348.98 234.61,348.54" fill="#2a2a2a"/>
<polygon points="216.17,351.51 218.06,351.95 220.65,351.03 218.77,350.59" fill="#828282"/>
<polygon points="216.18,352.80 218.07,353.25 218.06,351.95 216.17,351.51" fill="#2a2a2a"/>
<polygon points="241.66,347.81 243.55,348.23 246.00,347.35 244.11,346.92" fill="#828282"/>
<polygon points="241.66,349.08 243.55,349.51 243.55,348.23 241.66,347.81" fill="#2a2a2a"/>
<polygon points="197.22,354.55 199.10,355.00 201.81,354.06 199.94,353.61" fill="#828282"/>
<polygon points="197.24,355.86 199.11,356.32 199.10,355.00 197.22,354.55" fill="#2a2a2a"/>
<polygon points="223.39,350.75 225.28,351.19 227.83,350.28 225.95,349.84" fill="#828282"/>
<polygon points="223.39,352.04 225.28,352.48 225.28,351.19 223.39,350.75" fill="#2a2a2a"/>
<polygon points="204.61,353.77 206.49,354.22 209.16,353.29 207.28,352.84" fill="#828282"/>
<polygon points="204.62,355.08 206.50,355.53 206.49,354.22 204.61,353.77" fill="#2a2a2a"/>
<polygon points="230.55,349.99 232.45,350.43 234.96,349.53 233.07,349.09" fill="#828282"/>
<polygon points="230.55,351.28 232.45,351.72 232.45,350.43 230.55,349.99" fill="#2a2a2a"/>
<polygon points="211.94,352.99 213.83,353.44 216.46,352.51 214.57,352.07" fill="#828282"/>
<polygon points="211.95,354.30 213.84,354.75 213.83,353.44 211.94,352.99" fill="#2a2a2a"/>
<polygon points="237.66,349.24 239.56,349.68 242.04,348.78 240.14,348.35" fill="#828282"/>
<polygon points="237.66,350.52 239.56,350.96 239.56,349.68 237.66,349.24" fill="#2a2a2a"/>
<polygon points="244.72,348.50 246.63,348.93 249.07,348.04 247.17,347.61" fill="#828282"/>
<polygon points="244.72,349.78 246.63,350.21 246.63,348.93 244.72,348.50" fill="#2a2a2a"/>
<polygon points="219.22,352.22 221.11,352.67 223.70,351.75 221.81,351.30" fill="#828282"/>
<polygon points="219.22,353.52 221.12,353.97 221.11,352.67 219.22,352.22" fill="#2a2a2a"/>
<polygon points="200.25,355.28 202.14,355.74 204.85,354.79 202.96,354.34" fill="#828282"/>
<polygon points="200.27,356.60 202.15,357.06 202.14,355.74 200.25,355.28" fill="#2a2a2a"/>
<polygon points="226.44,351.46 228.34,351.90 230.89,350.98 228.99,350.55" fill="#828282"/>
<polygon points="226.45,352.75 228.35,353.20 228.34,351.90 226.44,351.46" fill="#2a2a2a"/>
<polygon points="207.65,354.50 209.54,354.95 212.21,354.01 210.32,353.56" fill="#828282"/>
<polygon points="207.66,355.81 209.55,356.27 209.54,354.95 207.65,354.50" fill="#2a2a2a"/>
<polygon points="233.61,350.70 235.52,351.14 238.03,350.23 236.13,349.79" fill="#828282"/>
<polygon points="233.62,351.99 235.52,352.43 235.52,351.14 233.61,350.70" fill="#2a2a2a"/>
<polygon points="214.99,353.72 216.89,354.17 219.51,353.23 217.62,352.79" fill="#828282"/>
<polygon points="215.00,355.02 216.90,355.48 216.89,354.17 214.99,353.72" fill="#2a2a2a"/>
<polygon points="240.73,349.94 242.65,350.38 245.12,349.48 243.21,349.04" fill="#828282"/>
<polygon points="240.73,351.23 242.65,351.67 242.65,350.38 240.73,349.94" fill="#2a2a2a"/>
<polygon points="247.80,349.19 249.72,349.63 252.16,348.73 250.24,348.30" fill="#828282"/>
<polygon points="247.80,350.48 249.72,350.91 249.72,349.63 247.80,349.19" fill="#2a2a2a"/>
<polygon points="222.28,352.94 224.18,353.39 226.77,352.46 224.86,352.02" fill="#828282"/>
<polygon points="222.28,354.24 224.19,354.69 224.18,353.39 222.28,352.94" fill="#2a2a2a"/>
<polygon points="203.30,356.02 205.20,356.48 207.90,355.53 206.00,355.07" fill="#828282"/>
<polygon points="203.31,357.34 205.21,357.81 205.20,356.48 203.30,356.02" fill="#2a2a2a"/>
<polygon points="229.51,352.17 231.42,352.62 233.97,351.70 232.06,351.25" fill="#828282"/>
<polygon points="229.52,353.47 231.43,353.92 231.42,352.62 229.51,352.17" fill="#2a2a2a"/>
<polygon points="210.71,355.23 212.61,355.69 215.27,354.74 213.37,354.29" fill="#828282"/>
<polygon points="210.72,356.55 212.62,357.01 212.61,355.69 210.71,355.23" fill="#2a2a2a"/>
<polygon points="236.69,351.41 238.61,351.85 241.12,350.94 239.20,350.50" fill="#828282"/>
<polygon points="236.69,352.70 238.61,353.15 238.61,351.85 236.69,351.41" fill="#2a2a2a"/>
<polygon points="243.82,350.65 245.75,351.09 248.22,350.18 246.29,349.74" fill="#828282"/>
<polygon points="243.82,351.94 245.75,352.38 245.75,351.09 243.82,350.65" fill="#2a2a2a"/>
<polygon points="218.06,354.44 219.97,354.90 222.59,353.96 220.68,353.51" fill="#828282"/>
<polygon points="218.07,355.76 219.98,356.21 219.97,354.90 218.06,354.44" fill="#2a2a2a"/>
<polygon points="250.90,349.90 252.83,350.33 255.26,349.43 253.34,349.00" fill="#828282"/>
<polygon points="250.90,351.18 252.83,351.62 252.83,350.33 250.90,349.90" fill="#2a2a2a"/>
<polygon points="225.36,353.66 227.27,354.11 229.85,353.18 227.94,352.74" fill="#828282"/>
<polygon points="225.36,354.97 227.28,355.42 227.27,354.11 225.36,353.66" fill="#2a2a2a"/>
<polygon points="206.37,356.76 208.28,357.23 210.97,356.27 209.06,355.81" fill="#828282"/>
<polygon points="206.38,358.09 208.29,358.55 208.28,357.23 206.37,356.76" fill="#2a2a2a"/>
<polygon points="232.60,352.89 234.52,353.34 237.06,352.41 235.14,351.97" fill="#828282"/>
<polygon points="232.60,354.19 234.53,354.64 234.52,353.34 232.60,352.89" fill="#2a2a2a"/>
<polygon points="213.78,355.97 215.70,356.43 218.35,355.48 216.44,355.02" fill="#828282"/>
<polygon points="213.79,357.29 215.71,357.75 215.70,356.43 213.78,355.97" fill="#2a2a2a"/>
<polygon points="239.79,352.12 241.72,352.57 244.22,351.65 242.30,351.21" fill="#828282"/>
<polygon points="239.79,353.42 241.72,353.87 241.72,352.57 239.79,352.12" fill="#2a2a2a"/>
<polygon points="246.93,351.36 248.86,351.80 251.33,350.89 249.40,350.45" fill="#828282"/>
<polygon points="246.93,352.65 248.86,353.09 248.86,351.80 246.93,351.36" fill="#2a2a2a"/>
<polygon points="221.14,355.18 223.07,355.63 225.68,354.69 223.76,354.24" fill="#828282"/>
<polygon points="221.15,356.49 223.07,356.95 223.07,355.63 221.14,355.18" fill="#2a2a2a"/>
<polygon points="254.02,350.60 255.96,351.04 258.38,350.13 256.45,349.70" fill="#828282"/>
<polygon points="254.01,351.89 255.95,352.33 255.96,351.04 254.02,350.60" fill="#2a2a2a"/>
<polygon points="228.45,354.39 230.38,354.85 232.96,353.91 231.03,353.46" fill="#828282"/>
<polygon points="228.46,355.70 230.39,356.16 230.38,354.85 228.45,354.39" fill="#2a2a2a"/>
<polygon points="209.45,357.51 211.37,357.98 214.06,357.01 212.14,356.55" fill="#828282"/>
<polygon points="209.46,358.84 211.38,359.31 211.37,357.98 209.45,357.51" fill="#2a2a2a"/>
<polygon points="235.71,353.61 237.64,354.06 240.18,353.13 238.24,352.69" fill="#828282"/>
<polygon points="235.71,354.92 237.64,355.37 237.64,354.06 235.71,353.61" fill="#2a2a2a"/>
<polygon points="216.88,356.71 218.81,357.17 221.45,356.22 219.53,355.76" fill="#828282"/>
<polygon points="216.89,358.03 218.81,358.50 218.81,357.17 216.88,356.71" fill="#2a2a2a"/>
<polygon points="242.91,352.84 244.85,353.29 247.34,352.36 245.41,351.92" fill="#828282"/>
<polygon points="242.91,354.14 244.85,354.59 244.85,353.29 242.91,352.84" fill="#2a2a2a"/>
<polygon points="250.05,352.07 252.00,352.51 254.46,351.60 252.52,351.16" fill="#828282"/>
<polygon points="250.05,353.37 252.00,353.81 252.00,352.51 250.05,352.07" fill="#2a2a2a"/>
<polygon points="224.25,355.91 226.18,356.37 228.79,355.42 226.86,354.97" fill="#828282"/>
<polygon points="224.26,357.23 226.19,357.69 226.18,356.37 224.25,355.91" fill="#2a2a2a"/>
<polygon points="257.15,351.31 259.10,351.75 261.52,350.84 259.57,350.40" fill="#828282"/>
<polygon points="257.15,352.60 259.10,353.04 259.10,351.75 257.15,351.31" fill="#2a2a2a"/>
<polygon points="231.57,355.12 233.51,355.58 236.08,354.64 234.14,354.18" fill="#828282"/>
<polygon points="231.57,356.44 233.51,356.90 233.51,355.58 231.57,355.12" fill="#2a2a2a"/>
<polygon points="212.55,358.26 214.49,358.73 217.17,357.76 215.24,357.30" fill="#828282"/>
<polygon points="212.56,359.60 214.50,360.07 214.49,358.73 212.55,358.26" fill="#2a2a2a"/>
<polygon points="238.83,354.34 240.78,354.79 243.31,353.86 241.36,353.41" fill="#828282"/>
<polygon points="238.83,355.65 240.78,356.10 240.78,354.79 238.83,354.34" fill="#2a2a2a"/>
<polygon points="246.04,353.56 247.99,354.01 250.48,353.08 248.53,352.63" fill="#828282"/>
<polygon points="246.04,354.87 247.99,355.32 247.99,354.01 246.04,353.56" fill="#2a2a2a"/>
<polygon points="219.99,357.46 221.93,357.92 224.57,356.96 222.64,356.50" fill="#828282"/>
<polygon points="220.00,358.78 221.94,359.25 221.93,357.92 219.99,357.46" fill="#2a2a2a"/>
<polygon points="253.20,352.79 255.15,353.23 257.61,352.31 255.65,351.87" fill="#828282"/>
<polygon points="253.20,354.09 255.15,354.54 255.15,353.23 253.20,352.79" fill="#2a2a2a"/>
<polygon points="227.37,356.66 229.32,357.12 231.92,356.16 229.98,355.70" fill="#828282"/>
<polygon points="227.38,357.98 229.32,358.44 229.32,357.12 227.37,356.66" fill="#2a2a2a"/>
<polygon points="260.30,352.02 262.27,352.46 264.68,351.55 262.72,351.11" fill="#828282"/>
<polygon points="260.30,353.32 262.26,353.76 262.27,352.46 260.30,352.02" fill="#2a2a2a"/>
<polygon points="234.70,355.86 236.65,356.32 239.21,355.37 237.27,354.92" fill="#828282"/>
<polygon points="234.70,357.18 236.65,357.64 236.65,356.32 234.70,355.86" fill="#2a2a2a"/>
<polygon points="215.67,359.02 217.62,359.49 220.30,358.52 218.36,358.05" fill="#828282"/>
<polygon points="215.68,360.36 217.63,360.83 217.62,359.49 215.67,359.02" fill="#2a2a2a"/>
<polygon points="241.97,355.07 243.93,355.53 246.45,354.58 244.50,354.13" fill="#828282"/>
<polygon points="241.97,356.38 243.93,356.84 243.93,355.53 241.97,355.07" fill="#2a2a2a"/>
<polygon points="249.19,354.29 251.16,354.74 253.64,353.80 251.68,353.36" fill="#828282"/>
<polygon points="249.19,355.60 251.15,356.05 251.16,354.74 249.19,354.29" fill="#2a2a2a"/>
<polygon points="223.12,358.21 225.07,358.68 227.71,357.71 225.76,357.24" fill="#828282"/>
<polygon points="223.13,359.54 225.08,360.01 225.07,358.68 223.12,358.21" fill="#2a2a2a"/>
<polygon points="256.36,353.51 258.33,353.96 260.78,353.03 258.81,352.58" fill="#828282"/>
<polygon points="256.36,354.81 258.32,355.27 258.33,353.96 256.36,353.51" fill="#2a2a2a"/>
<polygon points="230.51,357.40 232.47,357.87 235.07,356.90 233.12,356.44" fill="#828282"/>
<polygon points="230.52,358.73 232.47,359.20 232.47,357.87 230.51,357.40" fill="#2a2a2a"/>
<polygon points="263.47,352.74 265.45,353.18 267.86,352.26 265.89,351.82" fill="#828282"/>
<polygon points="263.47,354.04 265.44,354.49 265.45,353.18 263.47,352.74" fill="#2a2a2a"/>
<polygon points="237.85,356.60 239.81,357.06 242.37,356.11 240.41,355.65" fill="#828282"/>
<polygon points="237.85,357.92 239.82,358.39 239.81,357.06 237.85,356.60" fill="#2a2a2a"/>
<polygon points="245.13,355.81 247.10,356.27 249.62,355.32 247.66,354.86" fill="#828282"/>
<polygon points="245.13,357.12 247.10,357.58 247.10,356.27 245.13,355.81" fill="#2a2a2a"/>
<polygon points="218.81,359.78 220.77,360.26 223.44,359.27 221.49,358.80" fill="#828282"/>
<polygon points="218.82,361.12 220.78,361.60 220.77,360.26 218.81,359.78" fill="#2a2a2a"/>
<polygon points="252.36,355.02 254.34,355.47 256.82,354.53 254.85,354.08" fill="#828282"/>
<polygon points="252.36,356.33 254.34,356.79 254.34,355.47 252.36,355.02" fill="#2a2a2a"/>
<polygon points="226.27,358.96 228.23,359.43 230.87,358.46 228.91,357.99" fill="#828282"/>
<polygon points="226.28,360.30 228.24,360.77 228.23,359.43 226.27,358.96" fill="#2a2a2a"/>
<polygon points="259.54,354.24 261.52,354.69 263.96,353.75 261.98,353.30" fill="#828282"/>
<polygon points="259.53,355.54 261.52,356.00 261.52,354.69 259.54,354.24" fill="#2a2a2a"/>
<polygon points="233.67,358.15 235.64,358.62 238.24,357.65 236.27,357.19" fill="#828282"/>
<polygon points="233.68,359.48 235.65,359.95 235.64,358.62 233.67,358.15" fill="#2a2a2a"/>
<polygon points="266.66,353.46 268.65,353.91 271.05,352.98 269.07,352.53" fill="#828282"/>
<polygon points="266.66,354.76 268.64,355.21 268.65,353.91 266.66,353.46" fill="#2a2a2a"/>
<polygon points="241.02,357.35 243.00,357.81 245.55,356.85 243.58,356.39" fill="#828282"/>
<polygon points="241.02,358.67 243.00,359.14 243.00,357.81 241.02,357.35" fill="#2a2a2a"/>
<polygon points="248.31,356.55 250.29,357.01 252.81,356.05 250.83,355.60" fill="#828282"/>
<polygon points="248.31,357.87 250.29,358.33 250.29,357.01 248.31,356.55" fill="#2a2a2a"/>
<polygon points="221.97,360.55 223.94,361.02 226.61,360.04 224.65,359.56" fill="#828282"/>
<polygon points="221.98,361.89 223.95,362.37 223.94,361.02 221.97,360.55" fill="#2a2a2a"/>
<polygon points="255.55,355.75 257.54,356.21 260.01,355.26 258.03,354.81" fill="#828282"/>
<polygon points="255.55,357.07 257.54,357.53 257.54,356.21 255.55,355.75" fill="#2a2a2a"/>
<polygon points="229.44,359.72 231.42,360.20 234.04,359.22 232.07,358.75" fill="#828282"/>
<polygon points="229.45,361.06 231.42,361.54 231.42,360.20 229.44,359.72" fill="#2a2a2a"/>
<polygon points="262.74,354.97 264.73,355.42 267.17,354.48 265.18,354.03" fill="#828282"/>
<polygon points="262.73,356.28 264.72,356.73 264.73,355.42 262.74,354.97" fill="#2a2a2a"/>
<polygon points="236.85,358.91 238.83,359.38 241.42,358.40 239.44,357.94" fill="#828282"/>
<polygon points="236.86,360.24 238.84,360.71 238.83,359.38 236.85,358.91" fill="#2a2a2a"/>
<polygon points="269.87,354.18 271.87,354.64 274.27,353.70 272.27,353.25" fill="#828282"/>
<polygon points="269.86,355.49 271.86,355.94 271.87,354.64 269.87,354.18" fill="#2a2a2a"/>
<polygon points="244.21,358.10 246.20,358.56 248.74,357.60 246.76,357.13" fill="#828282"/>
<polygon points="244.21,359.43 246.20,359.90 246.20,358.56 244.21,358.10" fill="#2a2a2a"/>
<polygon points="251.51,357.29 253.50,357.76 256.01,356.80 254.02,356.34" fill="#828282"/>
<polygon points="251.51,358.62 253.50,359.08 253.50,357.76 251.51,357.29" fill="#2a2a2a"/>
<polygon points="225.15,361.32 227.13,361.80 229.79,360.80 227.82,360.33" fill="#828282"/>
<polygon points="225.16,362.66 227.14,363.15 227.13,361.80 225.15,361.32" fill="#2a2a2a"/>
<polygon points="258.76,356.49 260.76,356.95 263.23,356.00 261.23,355.54" fill="#828282"/>
<polygon points="258.76,357.81 260.75,358.28 260.76,356.95 258.76,356.49" fill="#2a2a2a"/>
<polygon points="232.63,360.49 234.61,360.97 237.24,359.98 235.25,359.51" fill="#828282"/>
<polygon points="232.63,361.83 234.62,362.31 234.61,360.97 232.63,360.49" fill="#2a2a2a"/>
<polygon points="265.95,355.70 267.96,356.16 270.39,355.21 268.39,354.76" fill="#828282"/>
<polygon points="265.95,357.02 267.95,357.48 267.96,356.16 265.95,355.70" fill="#2a2a2a"/>
<polygon points="273.10,354.91 275.11,355.37 277.50,354.43 275.49,353.98" fill="#828282"/>
<polygon points="273.09,356.22 275.10,356.68 275.11,355.37 273.10,354.91" fill="#2a2a2a"/>
<polygon points="240.05,359.67 242.04,360.14 244.63,359.16 242.64,358.69" fill="#828282"/>
<polygon points="240.05,361.00 242.04,361.48 242.04,360.14 240.05,359.67" fill="#2a2a2a"/>
<polygon points="247.42,358.85 249.42,359.32 251.96,358.35 249.96,357.88" fill="#828282"/>
<polygon points="247.42,360.18 249.42,360.66 249.42,359.32 247.42,358.85" fill="#2a2a2a"/>
<polygon points="254.73,358.04 256.73,358.51 259.24,357.54 257.23,357.08" fill="#828282"/>
<polygon points="254.73,359.37 256.73,359.84 256.73,358.51 254.73,358.04" fill="#2a2a2a"/>
<polygon points="228.35,362.09 230.34,362.57 233.00,361.57 231.01,361.10" fill="#828282"/>
<polygon points="228.35,363.44 230.34,363.93 230.34,362.57 228.35,362.09" fill="#2a2a2a"/>
<polygon points="261.99,357.24 264.00,357.70 266.46,356.74 264.45,356.28" fill="#828282"/>
<polygon points="261.98,358.56 263.99,359.03 264.00,357.70 261.99,357.24" fill="#2a2a2a"/>
<polygon points="235.84,361.26 237.83,361.74 240.45,360.74 238.46,360.27" fill="#828282"/>
<polygon points="235.84,362.60 237.84,363.09 237.83,361.74 235.84,361.26" fill="#2a2a2a"/>
<polygon points="269.19,356.44 271.21,356.90 273.63,355.95 271.62,355.49" fill="#828282"/>
<polygon points="269.18,357.76 271.20,358.22 271.21,356.90 269.19,356.44" fill="#2a2a2a"/>
<polygon points="276.34,355.65 278.36,356.10 280.75,355.16 278.73,354.71" fill="#828282"/>
<polygon points="276.33,356.96 278.35,357.42 278.36,356.10 276.34,355.65" fill="#2a2a2a"/>
<polygon points="243.27,360.43 245.27,360.91 247.85,359.92 245.85,359.45" fill="#828282"/>
<polygon points="243.27,361.77 245.27,362.25 245.27,360.91 243.27,360.43" fill="#2a2a2a"/>
<polygon points="250.65,359.61 252.66,360.08 255.19,359.10 253.18,358.63" fill="#828282"/>
<polygon points="250.64,360.95 252.65,361.42 252.66,360.08 250.65,359.61" fill="#2a2a2a"/>
<polygon points="257.97,358.79 259.98,359.26 262.48,358.29 260.47,357.83" fill="#828282"/>
<polygon points="257.96,360.13 259.98,360.60 259.98,359.26 257.97,358.79" fill="#2a2a2a"/>
<polygon points="231.56,362.87 233.57,363.36 236.22,362.35 234.22,361.87" fill="#828282"/>
<polygon points="231.57,364.23 233.57,364.71 233.57,363.36 231.56,362.87" fill="#2a2a2a"/>
<polygon points="265.23,357.98 267.26,358.45 269.71,357.49 267.69,357.02" fill="#828282"/>
<polygon points="265.23,359.31 267.25,359.78 267.26,358.45 265.23,357.98" fill="#2a2a2a"/>
<polygon points="272.45,357.18 274.47,357.64 276.89,356.69 274.87,356.23" fill="#828282"/>
<polygon points="272.44,358.50 274.47,358.97 274.47,357.64 272.45,357.18" fill="#2a2a2a"/>
<polygon points="239.06,362.03 241.07,362.51 243.68,361.51 241.68,361.04" fill="#828282"/>
<polygon points="239.06,363.38 241.07,363.87 241.07,362.51 239.06,362.03" fill="#2a2a2a"/>
<polygon points="279.61,356.38 281.64,356.84 284.02,355.89 281.99,355.44" fill="#828282"/>
<polygon points="279.60,357.70 281.63,358.16 281.64,356.84 279.61,356.38" fill="#2a2a2a"/>
<polygon points="246.50,361.20 248.52,361.68 251.09,360.69 249.08,360.21" fill="#828282"/>
<polygon points="246.51,362.54 248.52,363.03 248.52,361.68 246.50,361.20" fill="#2a2a2a"/>
<polygon points="253.89,360.37 255.91,360.85 258.44,359.86 256.42,359.39" fill="#828282"/>
<polygon points="253.89,361.71 255.91,362.19 255.91,360.85 253.89,360.37" fill="#2a2a2a"/>
<polygon points="261.22,359.55 263.25,360.02 265.74,359.05 263.72,358.58" fill="#828282"/>
<polygon points="261.22,360.89 263.25,361.36 263.25,360.02 261.22,359.55" fill="#2a2a2a"/>
<polygon points="234.80,363.66 236.81,364.14 239.46,363.13 237.45,362.65" fill="#828282"/>
<polygon points="234.80,365.01 236.82,365.51 236.81,364.14 234.80,363.66" fill="#2a2a2a"/>
<polygon points="268.50,358.74 270.53,359.21 272.98,358.24 270.95,357.77" fill="#828282"/>
<polygon points="268.49,360.07 270.53,360.54 270.53,359.21 268.50,358.74" fill="#2a2a2a"/>
<polygon points="275.72,357.93 277.76,358.40 280.17,357.43 278.14,356.97" fill="#828282"/>
<polygon points="275.71,359.26 277.75,359.72 277.76,358.40 275.72,357.93" fill="#2a2a2a"/>
<polygon points="242.31,362.81 244.33,363.30 246.94,362.29 244.92,361.81" fill="#828282"/>
<polygon points="242.31,364.16 244.33,364.65 244.33,363.30 242.31,362.81" fill="#2a2a2a"/>
<polygon points="282.89,357.13 284.94,357.59 287.31,356.63 285.27,356.17" fill="#828282"/>
<polygon points="282.88,358.45 284.92,358.91 284.94,357.59 282.89,357.13" fill="#2a2a2a"/>
<polygon points="249.76,361.97 251.79,362.45 254.35,361.46 252.33,360.98" fill="#828282"/>
<polygon points="249.76,363.32 251.79,363.81 251.79,362.45 249.76,361.97" fill="#2a2a2a"/>
<polygon points="257.16,361.14 259.19,361.62 261.72,360.63 259.68,360.15" fill="#828282"/>
<polygon points="257.15,362.48 259.19,362.97 259.19,361.62 257.16,361.14" fill="#2a2a2a"/>
<polygon points="264.50,360.31 266.54,360.79 269.02,359.81 266.99,359.33" fill="#828282"/>
<polygon points="264.49,361.65 266.53,362.13 266.54,360.79 264.50,360.31" fill="#2a2a2a"/>
<polygon points="271.78,359.49 273.83,359.97 276.27,358.99 274.23,358.52" fill="#828282"/>
<polygon points="271.78,360.83 273.82,361.30 273.83,359.97 271.78,359.49" fill="#2a2a2a"/>
<polygon points="238.05,364.44 240.08,364.94 242.72,363.92 240.70,363.43" fill="#828282"/>
<polygon points="238.06,365.81 240.08,366.30 240.08,364.94 238.05,364.44" fill="#2a2a2a"/>
<polygon points="279.02,358.68 281.07,359.15 283.47,358.18 281.42,357.72" fill="#828282"/>
<polygon points="279.01,360.01 281.06,360.48 281.07,359.15 279.02,358.68" fill="#2a2a2a"/>
<polygon points="245.57,363.59 247.61,364.08 250.21,363.07 248.18,362.59" fill="#828282"/>
<polygon points="245.57,364.95 247.61,365.44 247.61,364.08 245.57,363.59" fill="#2a2a2a"/>
<polygon points="286.19,357.87 288.25,358.34 290.62,357.38 288.56,356.91" fill="#828282"/>
<polygon points="286.18,359.20 288.24,359.67 288.25,358.34 286.19,357.87" fill="#2a2a2a"/>
<polygon points="253.04,362.75 255.08,363.23 257.64,362.23 255.60,361.75" fill="#828282"/>
<polygon points="253.04,364.10 255.08,364.59 255.08,363.23 253.04,362.75" fill="#2a2a2a"/>
<polygon points="260.44,361.91 262.49,362.39 265.01,361.40 262.96,360.92" fill="#828282"/>
<polygon points="260.44,363.26 262.49,363.74 262.49,362.39 260.44,361.91" fill="#2a2a2a"/>
<polygon points="267.79,361.08 269.85,361.56 272.32,360.57 270.27,360.10" fill="#828282"/>
<polygon points="267.79,362.42 269.84,362.91 269.85,361.56 267.79,361.08" fill="#2a2a2a"/>
<polygon points="275.09,360.26 277.15,360.73 279.58,359.75 277.53,359.28" fill="#828282"/>
<polygon points="275.08,361.60 277.14,362.07 277.15,360.73 275.09,360.26" fill="#2a2a2a"/>
<polygon points="241.33,365.24 243.37,365.73 246.00,364.71 243.97,364.22" fill="#828282"/>
<polygon points="241.33,366.61 243.37,367.10 243.37,365.73 241.33,365.24" fill="#2a2a2a"/>
<polygon points="282.33,359.44 284.39,359.91 286.79,358.93 284.73,358.47" fill="#828282"/>
<polygon points="282.32,360.77 284.38,361.25 284.39,359.91 282.33,359.44" fill="#2a2a2a"/>
<polygon points="289.52,358.63 291.59,359.09 293.94,358.12 291.88,357.66" fill="#828282"/>
<polygon points="289.50,359.95 291.57,360.42 291.59,359.09 289.52,358.63" fill="#2a2a2a"/>
<polygon points="248.86,364.38 250.91,364.87 253.50,363.85 251.46,363.37" fill="#828282"/>
<polygon points="248.86,365.74 250.91,366.24 250.91,364.87 248.86,364.38" fill="#2a2a2a"/>
<polygon points="256.33,363.53 258.39,364.02 260.94,363.01 258.89,362.53" fill="#828282"/>
<polygon points="256.33,364.89 258.38,365.38 258.39,364.02 256.33,363.53" fill="#2a2a2a"/>
<polygon points="263.75,362.69 265.81,363.17 268.32,362.17 266.26,361.69" fill="#828282"/>
<polygon points="263.74,364.04 265.80,364.53 265.81,363.17 263.75,362.69" fill="#2a2a2a"/>
<polygon points="271.11,361.85 273.17,362.33 275.64,361.34 273.58,360.86" fill="#828282"/>
<polygon points="271.10,363.20 273.17,363.68 273.17,362.33 271.11,361.85" fill="#2a2a2a"/>
<polygon points="278.41,361.02 280.48,361.50 282.91,360.51 280.85,360.04" fill="#828282"/>
<polygon points="278.40,362.37 280.47,362.84 280.48,361.50 278.41,361.02" fill="#2a2a2a"/>
<polygon points="244.62,366.04 246.68,366.53 249.31,365.50 247.26,365.01" fill="#828282"/>
<polygon points="244.62,367.41 246.68,367.91 246.68,366.53 244.62,366.04" fill="#2a2a2a"/>
<polygon points="285.66,360.20 287.74,360.67 290.13,359.69 288.06,359.22" fill="#828282"/>
<polygon points="285.65,361.54 287.73,362.01 287.74,360.67 285.66,360.20" fill="#2a2a2a"/>
<polygon points="292.86,359.38 294.94,359.85 297.29,358.88 295.21,358.41" fill="#828282"/>
<polygon points="292.85,360.71 294.93,361.19 294.94,359.85 292.86,359.38" fill="#2a2a2a"/>
<polygon points="252.17,365.18 254.22,365.67 256.81,364.64 254.76,364.15" fill="#828282"/>
<polygon points="252.16,366.54 254.22,367.04 254.22,365.67 252.17,365.18" fill="#2a2a2a"/>
<polygon points="259.65,364.32 261.71,364.81 264.26,363.79 262.20,363.31" fill="#828282"/>
<polygon points="259.64,365.68 261.71,366.17 261.71,364.81 259.65,364.32" fill="#2a2a2a"/>
<polygon points="267.07,363.47 269.15,363.96 271.65,362.95 269.58,362.47" fill="#828282"/>
<polygon points="267.07,364.83 269.14,365.32 269.15,363.96 267.07,363.47" fill="#2a2a2a"/>
<polygon points="274.44,362.63 276.52,363.11 278.99,362.11 276.91,361.63" fill="#828282"/>
<polygon points="274.44,363.98 276.51,364.47 276.52,363.11 274.44,362.63" fill="#2a2a2a"/>
<polygon points="281.76,361.79 283.84,362.27 286.26,361.28 284.19,360.80" fill="#828282"/>
<polygon points="281.75,363.14 283.83,363.62 283.84,362.27 281.76,361.79" fill="#2a2a2a"/>
<polygon points="247.94,366.84 250.01,367.34 252.63,366.30 250.57,365.81" fill="#828282"/>
<polygon points="247.94,368.22 250.00,368.72 250.01,367.34 247.94,366.84" fill="#2a2a2a"/>
<polygon points="289.02,360.96 291.11,361.44 293.49,360.45 291.40,359.98" fill="#828282"/>
<polygon points="289.00,362.31 291.09,362.78 291.11,361.44 289.02,360.96" fill="#2a2a2a"/>
<polygon points="296.22,360.14 298.32,360.61 300.66,359.63 298.57,359.16" fill="#828282"/>
<polygon points="296.21,361.48 298.30,361.95 298.32,360.61 296.22,360.14" fill="#2a2a2a"/>
<polygon points="255.49,365.97 257.56,366.47 260.14,365.44 258.08,364.95" fill="#828282"/>
<polygon points="255.49,367.34 257.56,367.84 257.56,366.47 255.49,365.97" fill="#2a2a2a"/>
<polygon points="262.98,365.11 265.06,365.61 267.60,364.58 265.53,364.09" fill="#828282"/>
<polygon points="262.98,366.48 265.06,366.97 265.06,365.61 262.98,365.11" fill="#2a2a2a"/>
<polygon points="270.42,364.26 272.50,364.75 275.00,363.73 272.92,363.25" fill="#828282"/>
<polygon points="270.41,365.62 272.50,366.11 272.50,364.75 270.42,364.26" fill="#2a2a2a"/>
<polygon points="277.80,363.41 279.89,363.90 282.35,362.89 280.26,362.41" fill="#828282"/>
<polygon points="277.79,364.77 279.88,365.25 279.89,363.90 277.80,363.41" fill="#2a2a2a"/>
<polygon points="285.12,362.57 287.22,363.05 289.64,362.05 287.54,361.57" fill="#828282"/>
<polygon points="285.11,363.92 287.21,364.40 287.22,363.05 285.12,362.57" fill="#2a2a2a"/>
<polygon points="292.39,361.73 294.49,362.21 296.87,361.22 294.77,360.74" fill="#828282"/>
<polygon points="292.38,363.08 294.48,363.56 294.49,362.21 292.39,361.73" fill="#2a2a2a"/>
<polygon points="251.28,367.65 253.35,368.15 255.97,367.11 253.90,366.61" fill="#828282"/>
<polygon points="251.27,369.03 253.35,369.53 253.35,368.15 251.28,367.65" fill="#2a2a2a"/>
<polygon points="299.60,360.91 301.71,361.38 304.05,360.40 301.95,359.92" fill="#828282"/>
<polygon points="299.59,362.25 301.70,362.72 301.71,361.38 299.60,360.91" fill="#2a2a2a"/>
<polygon points="258.84,366.78 260.92,367.28 263.50,366.24 261.42,365.74" fill="#828282"/>
<polygon points="258.83,368.15 260.92,368.65 260.92,367.28 258.84,366.78" fill="#2a2a2a"/>
<polygon points="266.34,365.91 268.43,366.41 270.96,365.38 268.88,364.88" fill="#828282"/>
<polygon points="266.34,367.28 268.43,367.78 268.43,366.41 266.34,365.91" fill="#2a2a2a"/>
<polygon points="273.79,365.05 275.88,365.54 278.37,364.52 276.28,364.03" fill="#828282"/>
<polygon points="273.78,366.41 275.88,366.91 275.88,365.54 273.79,365.05" fill="#2a2a2a"/>
<polygon points="281.18,364.20 283.28,364.69 285.73,363.67 283.63,363.18" fill="#828282"/>
<polygon points="281.17,365.56 283.27,366.05 283.28,364.69 281.18,364.20" fill="#2a2a2a"/>
<polygon points="288.51,363.35 290.62,363.84 293.03,362.83 290.92,362.35" fill="#828282"/>
<polygon points="288.50,364.70 290.60,365.19 290.62,363.84 288.51,363.35" fill="#2a2a2a"/>
<polygon points="295.78,362.51 297.90,362.99 300.27,361.99 298.16,361.51" fill="#828282"/>
<polygon points="295.77,363.86 297.88,364.34 297.90,362.99 295.78,362.51" fill="#2a2a2a"/>
<polygon points="254.63,368.46 256.72,368.97 259.33,367.92 257.25,367.41" fill="#828282"/>
<polygon points="254.63,369.85 256.72,370.36 256.72,368.97 254.63,368.46" fill="#2a2a2a"/>
<polygon points="303.01,361.67 305.13,362.15 307.46,361.16 305.34,360.69" fill="#828282"/>
<polygon points="302.99,363.02 305.11,363.50 305.13,362.15 303.01,361.67" fill="#2a2a2a"/>
<polygon points="262.20,367.58 264.30,368.09 266.87,367.04 264.78,366.54" fill="#828282"/>
<polygon points="262.20,368.96 264.30,369.47 264.30,368.09 262.20,367.58" fill="#2a2a2a"/>
<polygon points="269.72,366.71 271.82,367.21 274.35,366.17 272.25,365.68" fill="#828282"/>
<polygon points="269.71,368.08 271.81,368.59 271.82,367.21 269.72,366.71" fill="#2a2a2a"/>
<polygon points="277.17,365.85 279.28,366.34 281.77,365.31 279.66,364.82" fill="#828282"/>
<polygon points="277.16,367.21 279.27,367.71 279.28,366.34 277.17,365.85" fill="#2a2a2a"/>
<polygon points="284.57,364.99 286.69,365.48 289.13,364.46 287.02,363.97" fill="#828282"/>
<polygon points="284.56,366.35 286.68,366.84 286.69,365.48 284.57,364.99" fill="#2a2a2a"/>
<polygon points="291.91,364.13 294.04,364.62 296.44,363.61 294.32,363.12" fill="#828282"/>
<polygon points="291.90,365.49 294.02,365.98 294.04,364.62 291.91,364.13" fill="#2a2a2a"/>
<polygon points="299.20,363.29 301.33,363.77 303.69,362.77 301.57,362.29" fill="#828282"/>
<polygon points="299.18,364.64 301.31,365.13 301.33,363.77 299.20,363.29" fill="#2a2a2a"/>
<polygon points="306.43,362.45 308.56,362.93 310.89,361.93 308.76,361.45" fill="#828282"/>
<polygon points="306.41,363.80 308.55,364.28 308.56,362.93 306.43,362.45" fill="#2a2a2a"/>
<polygon points="258.01,369.28 260.11,369.79 262.72,368.73 260.62,368.23" fill="#828282"/>
<polygon points="258.01,370.67 260.11,371.18 260.11,369.79 258.01,369.28" fill="#2a2a2a"/>
<polygon points="265.59,368.40 267.70,368.90 270.26,367.85 268.16,367.35" fill="#828282"/>
<polygon points="265.59,369.78 267.70,370.29 267.70,368.90 265.59,368.40" fill="#2a2a2a"/>
<polygon points="273.12,367.52 275.23,368.02 277.75,366.98 275.64,366.48" fill="#828282"/>
<polygon points="273.11,368.89 275.22,369.40 275.23,368.02 273.12,367.52" fill="#2a2a2a"/>
<polygon points="280.58,366.65 282.70,367.15 285.18,366.11 283.06,365.61" fill="#828282"/>
<polygon points="280.57,368.02 282.69,368.52 282.70,367.15 280.58,366.65" fill="#2a2a2a"/>
<polygon points="287.99,365.78 290.12,366.28 292.55,365.25 290.43,364.76" fill="#828282"/>
<polygon points="287.98,367.15 290.11,367.65 290.12,366.28 287.99,365.78" fill="#2a2a2a"/>
<polygon points="295.34,364.92 297.47,365.42 299.87,364.40 297.74,363.91" fill="#828282"/>
<polygon points="295.33,366.29 297.46,366.78 297.47,365.42 295.34,364.92" fill="#2a2a2a"/>
<polygon points="302.63,364.07 304.78,364.56 307.13,363.55 304.99,363.06" fill="#828282"/>
<polygon points="302.62,365.43 304.76,365.92 304.78,364.56 302.63,364.07" fill="#2a2a2a"/>
<polygon points="309.87,363.23 312.02,363.71 314.34,362.71 312.19,362.23" fill="#828282"/>
<polygon points="309.86,364.58 312.00,365.07 312.02,363.71 309.87,363.23" fill="#2a2a2a"/>
<polygon points="261.41,370.11 263.53,370.62 266.12,369.55 264.01,369.04" fill="#828282"/>
<polygon points="261.40,371.50 263.52,372.01 263.53,370.62 261.41,370.11" fill="#2a2a2a"/>
<polygon points="269.00,369.21 271.13,369.72 273.68,368.67 271.56,368.16" fill="#828282"/>
<polygon points="268.99,370.60 271.12,371.11 271.13,369.72 269.00,369.21" fill="#2a2a2a"/>
<polygon points="276.53,368.33 278.66,368.84 281.18,367.79 279.05,367.28" fill="#828282"/>
<polygon points="276.53,369.71 278.66,370.22 278.66,368.84 276.53,368.33" fill="#2a2a2a"/>
<polygon points="284.01,367.45 286.15,367.96 288.61,366.91 286.48,366.41" fill="#828282"/>
<polygon points="284.00,368.83 286.13,369.33 286.15,367.96 284.01,367.45" fill="#2a2a2a"/>
<polygon points="291.43,366.58 293.57,367.08 296.00,366.05 293.86,365.55" fill="#828282"/>
<polygon points="291.41,367.95 293.56,368.45 293.57,367.08 291.43,366.58" fill="#2a2a2a"/>
<polygon points="298.79,365.72 300.94,366.21 303.32,365.19 301.18,364.70" fill="#828282"/>
<polygon points="298.77,367.08 300.92,367.58 300.94,366.21 298.79,365.72" fill="#2a2a2a"/>
<polygon points="306.09,364.86 308.24,365.35 310.59,364.33 308.44,363.85" fill="#828282"/>
<polygon points="306.07,366.22 308.23,366.72 308.24,365.35 306.09,364.86" fill="#2a2a2a"/>
<polygon points="313.34,364.01 315.50,364.50 317.81,363.49 315.65,363.00" fill="#828282"/>
<polygon points="313.32,365.37 315.48,365.86 315.50,364.50 313.34,364.01" fill="#2a2a2a"/>
<polygon points="264.83,370.93 266.96,371.45 269.55,370.38 267.42,369.86" fill="#828282"/>
<polygon points="264.82,372.33 266.95,372.85 266.96,371.45 264.83,370.93" fill="#2a2a2a"/>
<polygon points="272.43,370.04 274.57,370.55 277.12,369.48 274.98,368.98" fill="#828282"/>
<polygon points="272.42,371.43 274.56,371.94 274.57,370.55 272.43,370.04" fill="#2a2a2a"/>
<polygon points="279.97,369.15 282.12,369.66 284.62,368.60 282.48,368.09" fill="#828282"/>
<polygon points="279.96,370.53 282.11,371.04 282.12,369.66 279.97,369.15" fill="#2a2a2a"/>
<polygon points="287.46,368.26 289.61,368.77 292.07,367.72 289.93,367.22" fill="#828282"/>
<polygon points="287.45,369.64 289.60,370.15 289.61,368.77 287.46,368.26" fill="#2a2a2a"/>
<polygon points="294.89,367.39 297.04,367.89 299.46,366.85 297.31,366.35" fill="#828282"/>
<polygon points="294.87,368.76 297.03,369.27 297.04,367.89 294.89,367.39" fill="#2a2a2a"/>
<polygon points="302.26,366.52 304.42,367.02 306.80,365.98 304.64,365.49" fill="#828282"/>
<polygon points="302.24,367.89 304.40,368.39 304.42,367.02 302.26,366.52" fill="#2a2a2a"/>
<polygon points="309.57,365.66 311.74,366.15 314.07,365.12 311.91,364.63" fill="#828282"/>
<polygon points="309.55,367.02 311.72,367.52 311.74,366.15 309.57,365.66" fill="#2a2a2a"/>
<polygon points="316.83,364.80 319.00,365.29 321.30,364.27 319.13,363.78" fill="#828282"/>
<polygon points="316.81,366.16 318.98,366.65 319.00,365.29 316.83,364.80" fill="#2a2a2a"/>
<polygon points="268.27,371.77 270.41,372.29 273.00,371.21 270.86,370.69" fill="#828282"/>
<polygon points="268.26,373.17 270.41,373.69 270.41,372.29 268.27,371.77" fill="#2a2a2a"/>
<polygon points="275.88,370.86 278.03,371.38 280.57,370.31 278.43,369.80" fill="#828282"/>
<polygon points="275.87,372.26 278.02,372.78 278.03,371.38 275.88,370.86" fill="#2a2a2a"/>
<polygon points="283.44,369.97 285.59,370.48 288.09,369.42 285.94,368.91" fill="#828282"/>
<polygon points="283.43,371.36 285.58,371.87 285.59,370.48 283.44,369.97" fill="#2a2a2a"/>
<polygon points="290.93,369.08 293.09,369.59 295.55,368.53 293.39,368.03" fill="#828282"/>
<polygon points="290.92,370.46 293.08,370.97 293.09,369.59 290.93,369.08" fill="#2a2a2a"/>
<polygon points="298.37,368.20 300.54,368.70 302.95,367.65 300.78,367.15" fill="#828282"/>
<polygon points="298.35,369.58 300.52,370.08 300.54,368.70 298.37,368.20" fill="#2a2a2a"/>
<polygon points="305.75,367.32 307.92,367.82 310.29,366.78 308.12,366.29" fill="#828282"/>
<polygon points="305.73,368.70 307.90,369.20 307.92,367.82 305.75,367.32" fill="#2a2a2a"/>
<polygon points="313.07,366.45 315.25,366.95 317.58,365.92 315.40,365.43" fill="#828282"/>
<polygon points="313.05,367.82 315.23,368.32 315.25,366.95 313.07,366.45" fill="#2a2a2a"/>
<polygon points="320.33,365.59 322.52,366.09 324.81,365.06 322.63,364.57" fill="#828282"/>
<polygon points="320.31,366.96 322.50,367.45 322.52,366.09 320.33,365.59" fill="#2a2a2a"/>
<polygon points="271.73,372.61 273.89,373.13 276.47,372.04 274.31,371.52" fill="#828282"/>
<polygon points="271.73,374.01 273.88,374.54 273.89,373.13 271.73,372.61" fill="#2a2a2a"/>
<polygon points="279.36,371.70 281.52,372.22 284.05,371.14 281.89,370.62" fill="#828282"/>
<polygon points="279.35,373.10 281.51,373.62 281.52,372.22 279.36,371.70" fill="#2a2a2a"/>
<polygon points="286.92,370.80 289.09,371.31 291.58,370.24 289.41,369.73" fill="#828282"/>
<polygon points="286.91,372.19 289.08,372.71 289.09,371.31 286.92,370.80" fill="#2a2a2a"/>
<polygon points="294.42,369.90 296.60,370.41 299.05,369.35 296.87,368.84" fill="#828282"/>
<polygon points="294.41,371.29 296.58,371.80 296.60,370.41 294.42,369.90" fill="#2a2a2a"/>
<polygon points="301.87,369.01 304.05,369.52 306.46,368.47 304.28,367.96" fill="#828282"/>
<polygon points="301.85,370.40 304.03,370.91 304.05,369.52 301.87,369.01" fill="#2a2a2a"/>
<polygon points="309.26,368.13 311.44,368.64 313.81,367.59 311.63,367.09" fill="#828282"/>
<polygon points="309.24,369.51 311.43,370.02 311.44,368.64 309.26,368.13" fill="#2a2a2a"/>
<polygon points="316.59,367.26 318.78,367.76 321.10,366.72 318.92,366.22" fill="#828282"/>
<polygon points="316.57,368.63 318.76,369.13 318.78,367.76 316.59,367.26" fill="#2a2a2a"/>
<polygon points="323.86,366.39 326.06,366.89 328.34,365.86 326.15,365.36" fill="#828282"/>
<polygon points="323.84,367.76 326.04,368.26 326.06,366.89 323.86,366.39" fill="#2a2a2a"/>
<polygon points="275.22,373.45 277.39,373.98 279.96,372.88 277.79,372.36" fill="#828282"/>
<polygon points="275.21,374.86 277.38,375.39 277.39,373.98 275.22,373.45" fill="#2a2a2a"/>
<polygon points="282.85,372.54 285.03,373.06 287.55,371.97 285.38,371.45" fill="#828282"/>
<polygon points="282.84,373.94 285.02,374.46 285.03,373.06 282.85,372.54" fill="#2a2a2a"/>
<polygon points="290.42,371.63 292.61,372.15 295.09,371.07 292.91,370.55" fill="#828282"/>
<polygon points="290.41,373.03 292.59,373.55 292.61,372.15 290.42,371.63" fill="#2a2a2a"/>
<polygon points="297.94,370.73 300.13,371.24 302.57,370.17 300.38,369.66" fill="#828282"/>
<polygon points="297.92,372.12 300.11,372.64 300.13,371.24 297.94,370.73" fill="#2a2a2a"/>
<polygon points="305.39,369.83 307.59,370.34 309.99,369.28 307.79,368.78" fill="#828282"/>
<polygon points="305.38,371.22 307.57,371.73 307.59,370.34 305.39,369.83" fill="#2a2a2a"/>
<polygon points="312.79,368.95 314.99,369.45 317.35,368.40 315.15,367.90" fill="#828282"/>
<polygon points="312.77,370.33 314.97,370.84 314.99,369.45 312.79,368.95" fill="#2a2a2a"/>
<polygon points="320.13,368.07 322.34,368.57 324.65,367.52 322.45,367.02" fill="#828282"/>
<polygon points="320.11,369.44 322.31,369.95 322.34,368.57 320.13,368.07" fill="#2a2a2a"/>
<polygon points="327.41,367.19 329.62,367.69 331.90,366.65 329.69,366.16" fill="#828282"/>
<polygon points="327.39,368.56 329.60,369.07 329.62,367.69 327.41,367.19" fill="#2a2a2a"/>
<polygon points="278.72,374.30 280.91,374.83 283.47,373.73 281.29,373.20" fill="#828282"/>
<polygon points="278.71,375.71 280.90,376.25 280.91,374.83 278.72,374.30" fill="#2a2a2a"/>
<polygon points="286.37,373.38 288.56,373.91 291.08,372.81 288.89,372.29" fill="#828282"/>
<polygon points="286.36,374.79 288.55,375.32 288.56,373.91 286.37,373.38" fill="#2a2a2a"/>
<polygon points="293.95,372.47 296.15,372.99 298.62,371.90 296.43,371.38" fill="#828282"/>
<polygon points="293.94,373.87 296.13,374.39 296.15,372.99 293.95,372.47" fill="#2a2a2a"/>
<polygon points="301.47,371.56 303.68,372.08 306.11,371.00 303.91,370.49" fill="#828282"/>
<polygon points="301.46,372.95 303.66,373.48 303.68,372.08 301.47,371.56" fill="#2a2a2a"/>
<polygon points="308.94,370.66 311.15,371.17 313.54,370.10 311.33,369.59" fill="#828282"/>
<polygon points="308.92,372.05 311.13,372.57 311.15,371.17 308.94,370.66" fill="#2a2a2a"/>
<polygon points="316.34,369.77 318.56,370.28 320.91,369.22 318.70,368.71" fill="#828282"/>
<polygon points="316.32,371.15 318.54,371.66 318.56,370.28 316.34,369.77" fill="#2a2a2a"/>
<polygon points="323.69,368.88 325.91,369.39 328.22,368.33 326.01,367.83" fill="#828282"/>
<polygon points="323.67,370.26 325.89,370.77 325.91,369.39 323.69,368.88" fill="#2a2a2a"/>
<polygon points="330.98,368.00 333.21,368.50 335.48,367.46 333.26,366.96" fill="#828282"/>
<polygon points="330.96,369.38 333.19,369.88 333.21,368.50 330.98,368.00" fill="#2a2a2a"/>
<polygon points="282.25,375.16 284.45,375.69 287.01,374.58 284.81,374.05" fill="#828282"/>
<polygon points="282.24,376.57 284.44,377.11 284.45,375.69 282.25,375.16" fill="#2a2a2a"/>
<polygon points="289.91,374.23 292.11,374.76 294.62,373.66 292.42,373.13" fill="#828282"/>
<polygon points="289.89,375.64 292.10,376.17 292.11,374.76 289.91,374.23" fill="#2a2a2a"/>
<polygon points="297.50,373.31 299.71,373.83 302.18,372.74 299.97,372.22" fill="#828282"/>
<polygon points="297.48,374.71 299.70,375.24 299.71,373.83 297.50,373.31" fill="#2a2a2a"/>
<polygon points="305.03,372.40 307.25,372.92 309.67,371.83 307.46,371.32" fill="#828282"/>
<polygon points="305.02,373.80 307.23,374.32 307.25,372.92 305.03,372.40" fill="#2a2a2a"/>
<polygon points="312.51,371.49 314.73,372.01 317.11,370.93 314.89,370.42" fill="#828282"/>
<polygon points="312.49,372.88 314.71,373.40 314.73,372.01 312.51,371.49" fill="#2a2a2a"/>
<polygon points="319.92,370.59 322.15,371.10 324.49,370.04 322.27,369.53" fill="#828282"/>
<polygon points="319.90,371.98 322.13,372.50 322.15,371.10 319.92,370.59" fill="#2a2a2a"/>
<polygon points="327.28,369.70 329.51,370.21 331.81,369.15 329.58,368.64" fill="#828282"/>
<polygon points="327.26,371.08 329.49,371.59 329.51,370.21 327.28,369.70" fill="#2a2a2a"/>
<polygon points="334.58,368.81 336.82,369.32 339.08,368.27 336.84,367.77" fill="#828282"/>
<polygon points="334.55,370.19 336.79,370.70 336.82,369.32 334.58,368.81" fill="#2a2a2a"/>
<polygon points="285.81,376.02 288.02,376.55 290.56,375.44 288.36,374.91" fill="#828282"/>
<polygon points="285.79,377.44 288.01,377.98 288.02,376.55 285.81,376.02" fill="#2a2a2a"/>
<polygon points="293.47,375.08 295.69,375.62 298.19,374.51 295.97,373.98" fill="#828282"/>
<polygon points="293.45,376.50 295.67,377.03 295.69,375.62 293.47,375.08" fill="#2a2a2a"/>
<polygon points="301.07,374.16 303.30,374.69 305.75,373.59 303.53,373.06" fill="#828282"/>
<polygon points="301.06,375.57 303.28,376.10 303.30,374.69 301.07,374.16" fill="#2a2a2a"/>
<polygon points="308.61,373.24 310.85,373.76 313.26,372.67 311.03,372.15" fill="#828282"/>
<polygon points="308.60,374.64 310.83,375.17 310.85,373.76 308.61,373.24" fill="#2a2a2a"/>
<polygon points="316.10,372.32 318.33,372.85 320.71,371.76 318.47,371.25" fill="#828282"/>
<polygon points="316.08,373.72 318.31,374.25 318.33,372.85 316.10,372.32" fill="#2a2a2a"/>
<polygon points="323.52,371.42 325.76,371.94 328.10,370.86 325.86,370.35" fill="#828282"/>
<polygon points="323.50,372.81 325.74,373.33 325.76,371.94 323.52,371.42" fill="#2a2a2a"/>
<polygon points="338.20,369.63 340.45,370.14 342.70,369.08 340.45,368.58" fill="#828282"/>
<polygon points="338.17,371.01 340.42,371.53 340.45,370.14 338.20,369.63" fill="#2a2a2a"/>
<polygon points="330.89,370.52 333.14,371.03 335.43,369.97 333.18,369.46" fill="#828282"/>
<polygon points="330.86,371.91 333.11,372.43 333.14,371.03 330.89,370.52" fill="#2a2a2a"/>
<polygon points="289.38,376.88 291.61,377.42 294.14,376.30 291.92,375.76" fill="#828282"/>
<polygon points="289.37,378.31 291.59,378.85 291.61,377.42 289.38,376.88" fill="#2a2a2a"/>
<polygon points="297.05,375.94 299.29,376.48 301.78,375.36 299.55,374.83" fill="#828282"/>
<polygon points="297.04,377.36 299.27,377.90 299.29,376.48 297.05,375.94" fill="#2a2a2a"/>
<polygon points="304.67,375.01 306.91,375.54 309.35,374.44 307.12,373.91" fill="#828282"/>
<polygon points="304.65,376.42 306.89,376.96 306.91,375.54 304.67,375.01" fill="#2a2a2a"/>
<polygon points="312.22,374.08 314.46,374.61 316.87,373.51 314.63,372.99" fill="#828282"/>
<polygon points="312.20,375.49 314.44,376.02 314.46,374.61 312.22,374.08" fill="#2a2a2a"/>
<polygon points="319.71,373.17 321.96,373.69 324.33,372.60 322.08,372.08" fill="#828282"/>
<polygon points="319.69,374.57 321.94,375.10 321.96,373.69 319.71,373.17" fill="#2a2a2a"/>
<polygon points="341.84,370.45 344.10,370.97 346.34,369.90 344.08,369.39" fill="#828282"/>
<polygon points="341.81,371.84 344.07,372.36 344.10,370.97 341.84,370.45" fill="#2a2a2a"/>
<polygon points="327.14,372.25 329.40,372.77 331.72,371.69 329.47,371.18" fill="#828282"/>
<polygon points="327.12,373.65 329.38,374.18 329.40,372.77 327.14,372.25" fill="#2a2a2a"/>
<polygon points="334.52,371.35 336.78,371.87 339.06,370.79 336.80,370.28" fill="#828282"/>
<polygon points="334.49,372.74 336.75,373.26 336.78,371.87 334.52,371.35" fill="#2a2a2a"/>
<polygon points="292.98,377.76 295.22,378.30 297.75,377.17 295.51,376.63" fill="#828282"/>
<polygon points="292.96,379.18 295.20,379.73 295.22,378.30 292.98,377.76" fill="#2a2a2a"/>
<polygon points="300.66,376.81 302.91,377.35 305.39,376.23 303.15,375.69" fill="#828282"/>
<polygon points="300.64,378.23 302.89,378.77 302.91,377.35 300.66,376.81" fill="#2a2a2a"/>
<polygon points="308.28,375.87 310.54,376.40 312.98,375.29 310.73,374.76" fill="#828282"/>
<polygon points="308.26,377.29 310.52,377.82 310.54,376.40 308.28,375.87" fill="#2a2a2a"/>
<polygon points="315.84,374.94 318.10,375.47 320.50,374.36 318.25,373.84" fill="#828282"/>
<polygon points="315.82,376.35 318.08,376.88 318.10,375.47 315.84,374.94" fill="#2a2a2a"/>
<polygon points="345.50,371.28 347.78,371.80 350.01,370.72 347.73,370.21" fill="#828282"/>
<polygon points="345.47,372.67 347.75,373.19 347.78,371.80 345.50,371.28" fill="#2a2a2a"/>
<polygon points="323.35,374.01 325.61,374.54 327.97,373.44 325.71,372.92" fill="#828282"/>
<polygon points="323.32,375.42 325.59,375.95 325.61,374.54 323.35,374.01" fill="#2a2a2a"/>
<polygon points="338.17,372.18 340.45,372.70 342.72,371.62 340.45,371.11" fill="#828282"/>
<polygon points="338.14,373.58 340.42,374.10 340.45,372.70 338.17,372.18" fill="#2a2a2a"/>
<polygon points="330.79,373.09 333.06,373.62 335.37,372.53 333.11,372.01" fill="#828282"/>
<polygon points="330.76,374.50 333.03,375.02 333.06,373.62 330.79,373.09" fill="#2a2a2a"/>
<polygon points="296.60,378.63 298.85,379.18 301.37,378.04 299.12,377.50" fill="#828282"/>
<polygon points="296.58,380.07 298.84,380.62 298.85,379.18 296.60,378.63" fill="#2a2a2a"/>
<polygon points="304.29,377.68 306.55,378.22 309.03,377.09 306.77,376.55" fill="#828282"/>
<polygon points="304.27,379.11 306.53,379.65 306.55,378.22 304.29,377.68" fill="#2a2a2a"/>
<polygon points="311.92,376.73 314.19,377.27 316.62,376.15 314.36,375.62" fill="#828282"/>
<polygon points="311.90,378.16 314.17,378.70 314.19,377.27 311.92,376.73" fill="#2a2a2a"/>
<polygon points="349.18,372.11 351.48,372.63 353.70,371.55 351.41,371.04" fill="#828282"/>
<polygon points="349.15,373.51 351.45,374.03 351.48,372.63 349.18,372.11" fill="#2a2a2a"/>
<polygon points="319.49,375.79 321.77,376.33 324.16,375.22 321.89,374.69" fill="#828282"/>
<polygon points="319.47,377.21 321.75,377.75 321.77,376.33 319.49,375.79" fill="#2a2a2a"/>
<polygon points="341.85,373.02 344.14,373.55 346.40,372.46 344.12,371.94" fill="#828282"/>
<polygon points="341.82,374.42 344.11,374.95 344.14,373.55 341.85,373.02" fill="#2a2a2a"/>
<polygon points="327.00,374.86 329.28,375.39 331.63,374.29 329.36,373.76" fill="#828282"/>
<polygon points="326.98,376.28 329.26,376.81 329.28,375.39 327.00,374.86" fill="#2a2a2a"/>
<polygon points="334.46,373.94 336.74,374.47 339.05,373.37 336.77,372.85" fill="#828282"/>
<polygon points="334.43,375.35 336.71,375.88 336.74,374.47 334.46,373.94" fill="#2a2a2a"/>
<polygon points="300.24,379.52 302.51,380.07 305.02,378.92 302.76,378.37" fill="#828282"/>
<polygon points="300.22,380.95 302.49,381.51 302.51,380.07 300.24,379.52" fill="#2a2a2a"/>
<polygon points="307.94,378.56 310.22,379.10 312.69,377.96 310.42,377.42" fill="#828282"/>
<polygon points="307.93,379.99 310.20,380.54 310.22,379.10 307.94,378.56" fill="#2a2a2a"/>
<polygon points="352.89,372.95 355.20,373.47 357.41,372.39 355.11,371.87" fill="#828282"/>
<polygon points="352.86,374.35 355.17,374.88 355.20,373.47 352.89,372.95" fill="#2a2a2a"/>
<polygon points="315.59,377.60 317.87,378.15 320.29,377.02 318.02,376.48" fill="#828282"/>
<polygon points="315.57,379.03 317.85,379.57 317.87,378.15 315.59,377.60" fill="#2a2a2a"/>
<polygon points="345.55,373.87 347.85,374.39 350.11,373.30 347.81,372.78" fill="#828282"/>
<polygon points="345.52,375.27 347.82,375.80 347.85,374.39 345.55,373.87" fill="#2a2a2a"/>
<polygon points="323.17,376.66 325.46,377.20 327.84,376.08 325.55,375.54" fill="#828282"/>
<polygon points="323.14,378.08 325.43,378.62 325.46,377.20 323.17,376.66" fill="#2a2a2a"/>
<polygon points="338.15,374.79 340.45,375.32 342.74,374.22 340.45,373.69" fill="#828282"/>
<polygon points="338.12,376.20 340.42,376.73 340.45,375.32 338.15,374.79" fill="#2a2a2a"/>
<polygon points="330.69,375.72 332.98,376.25 335.32,375.14 333.03,374.61" fill="#828282"/>
<polygon points="330.66,377.14 332.96,377.67 332.98,376.25 330.69,375.72" fill="#2a2a2a"/>
<polygon points="303.91,380.41 306.19,380.96 308.70,379.80 306.42,379.26" fill="#828282"/>
<polygon points="303.89,381.85 306.18,382.40 306.19,380.96 303.91,380.41" fill="#2a2a2a"/>
<polygon points="356.62,373.80 358.95,374.32 361.15,373.23 358.83,372.71" fill="#828282"/>
<polygon points="356.59,375.20 358.91,375.73 358.95,374.32 356.62,373.80" fill="#2a2a2a"/>
<polygon points="311.62,379.44 313.91,379.99 316.37,378.84 314.09,378.30" fill="#828282"/>
<polygon points="311.60,380.87 313.89,381.43 313.91,379.99 311.62,379.44" fill="#2a2a2a"/>
<polygon points="349.27,374.72 351.59,375.25 353.84,374.15 351.52,373.62" fill="#828282"/>
<polygon points="349.24,376.13 351.56,376.66 351.59,375.25 349.27,374.72" fill="#2a2a2a"/>
<polygon points="319.27,378.48 321.57,379.02 323.99,377.89 321.69,377.35" fill="#828282"/>
<polygon points="319.25,379.91 321.55,380.46 321.57,379.02 319.27,378.48" fill="#2a2a2a"/>
<polygon points="341.86,375.65 344.18,376.18 346.46,375.07 344.15,374.54" fill="#828282"/>
<polygon points="341.83,377.06 344.15,377.60 344.18,376.18 341.86,375.65" fill="#2a2a2a"/>
<polygon points="326.86,377.53 329.17,378.07 331.54,376.94 329.24,376.40" fill="#828282"/>
<polygon points="326.84,378.95 329.14,379.50 329.17,378.07 326.86,377.53" fill="#2a2a2a"/>
<polygon points="334.39,376.58 336.70,377.12 339.03,376.00 336.73,375.47" fill="#828282"/>
<polygon points="334.37,378.00 336.67,378.54 336.70,377.12 334.39,376.58" fill="#2a2a2a"/>
<polygon points="360.38,374.64 362.72,375.17 364.91,374.07 362.58,373.55" fill="#828282"/>
<polygon points="360.34,376.05 362.68,376.58 362.72,375.17 360.38,374.64" fill="#2a2a2a"/>
<polygon points="307.60,381.30 309.90,381.86 312.39,380.70 310.10,380.14" fill="#828282"/>
<polygon points="307.58,382.75 309.88,383.31 309.90,381.86 307.60,381.30" fill="#2a2a2a"/>
<polygon points="353.02,375.57 355.35,376.11 357.59,375.00 355.26,374.47" fill="#828282"/>
<polygon points="352.99,376.99 355.32,377.52 355.35,376.11 353.02,375.57" fill="#2a2a2a"/>
<polygon points="315.32,380.33 317.63,380.88 320.08,379.73 317.78,379.18" fill="#828282"/>
<polygon points="315.30,381.77 317.61,382.32 317.63,380.88 315.32,380.33" fill="#2a2a2a"/>
<polygon points="345.60,376.51 347.93,377.05 350.21,375.93 347.88,375.40" fill="#828282"/>
<polygon points="345.57,377.93 347.90,378.47 347.93,377.05 345.60,376.51" fill="#2a2a2a"/>
<polygon points="322.98,379.36 325.30,379.91 327.70,378.76 325.40,378.22" fill="#828282"/>
<polygon points="322.96,380.80 325.27,381.35 325.30,379.91 322.98,379.36" fill="#2a2a2a"/>
<polygon points="338.12,377.45 340.45,377.99 342.76,376.87 340.45,376.33" fill="#828282"/>
<polygon points="338.09,378.88 340.42,379.42 340.45,377.99 338.12,377.45" fill="#2a2a2a"/>
<polygon points="330.58,378.40 332.90,378.95 335.26,377.81 332.95,377.27" fill="#828282"/>
<polygon points="330.56,379.83 332.88,380.38 332.90,378.95 330.58,378.40" fill="#2a2a2a"/>
<polygon points="364.16,375.50 366.51,376.03 368.69,374.92 366.35,374.40" fill="#828282"/>
<polygon points="364.12,376.91 366.47,377.45 366.51,376.03 364.16,375.50" fill="#2a2a2a"/>
<polygon points="356.79,376.43 359.14,376.97 361.36,375.85 359.02,375.32" fill="#828282"/>
<polygon points="356.75,377.85 359.10,378.39 359.14,376.97 356.79,376.43" fill="#2a2a2a"/>
<polygon points="311.31,382.20 313.63,382.76 316.12,381.59 313.81,381.04" fill="#828282"/>
<polygon points="311.29,383.65 313.61,384.22 313.63,382.76 311.31,382.20" fill="#2a2a2a"/>
<polygon points="349.36,377.38 351.71,377.92 353.97,376.79 351.63,376.25" fill="#828282"/>
<polygon points="349.33,378.80 351.67,379.34 351.71,377.92 349.36,377.38" fill="#2a2a2a"/>
<polygon points="319.05,381.22 321.37,381.78 323.81,380.62 321.49,380.06" fill="#828282"/>
<polygon points="319.03,382.66 321.35,383.22 321.37,381.78 319.05,381.22" fill="#2a2a2a"/>
<polygon points="341.87,378.32 344.21,378.87 346.52,377.74 344.19,377.20" fill="#828282"/>
<polygon points="341.85,379.75 344.18,380.30 344.21,378.87 341.87,378.32" fill="#2a2a2a"/>
<polygon points="326.72,380.25 329.05,380.80 331.44,379.65 329.12,379.10" fill="#828282"/>
<polygon points="326.69,381.69 329.02,382.24 329.05,380.80 326.72,380.25" fill="#2a2a2a"/>
<polygon points="334.33,379.28 336.66,379.83 339.01,378.69 336.69,378.14" fill="#828282"/>
<polygon points="334.30,380.72 336.63,381.27 336.66,379.83 334.33,379.28" fill="#2a2a2a"/>
<polygon points="367.96,376.36 370.33,376.89 372.50,375.78 370.14,375.25" fill="#828282"/>
<polygon points="367.92,377.78 370.29,378.31 370.33,376.89 367.96,376.36" fill="#2a2a2a"/>
<polygon points="360.58,377.30 362.95,377.84 365.16,376.72 362.80,376.18" fill="#828282"/>
<polygon points="360.55,378.72 362.91,379.26 362.95,377.84 360.58,377.30" fill="#2a2a2a"/>
<polygon points="353.15,378.25 355.51,378.79 357.76,377.66 355.41,377.12" fill="#828282"/>
<polygon points="353.11,379.68 355.47,380.22 355.51,378.79 353.15,378.25" fill="#2a2a2a"/>
<polygon points="315.05,383.11 317.38,383.67 319.86,382.49 317.54,381.93" fill="#828282"/>
<polygon points="315.03,384.56 317.36,385.13 317.38,383.67 315.05,383.11" fill="#2a2a2a"/>
<polygon points="345.65,379.20 348.01,379.75 350.31,378.61 347.96,378.07" fill="#828282"/>
<polygon points="345.62,380.64 347.97,381.19 348.01,379.75 345.65,379.20" fill="#2a2a2a"/>
<polygon points="322.80,382.12 325.13,382.68 327.57,381.51 325.23,380.96" fill="#828282"/>
<polygon points="322.77,383.57 325.11,384.13 325.13,382.68 322.80,382.12" fill="#2a2a2a"/>
<polygon points="338.09,380.17 340.44,380.72 342.79,379.57 340.44,379.02" fill="#828282"/>
<polygon points="338.07,381.61 340.41,382.16 340.44,380.72 338.09,380.17" fill="#2a2a2a"/>
<polygon points="330.48,381.14 332.82,381.70 335.21,380.54 332.87,379.98" fill="#828282"/>
<polygon points="330.45,382.58 332.79,383.14 332.82,381.70 330.48,381.14" fill="#2a2a2a"/>
<polygon points="364.40,378.17 366.78,378.71 368.99,377.58 366.61,377.04" fill="#828282"/>
<polygon points="364.36,379.60 366.74,380.14 366.78,378.71 364.40,378.17" fill="#2a2a2a"/>
<polygon points="356.96,379.13 359.33,379.67 361.58,378.53 359.21,377.99" fill="#828282"/>
<polygon points="356.92,380.56 359.30,381.11 359.33,379.67 356.96,379.13" fill="#2a2a2a"/>
<polygon points="349.45,380.09 351.82,380.64 354.11,379.49 351.75,378.94" fill="#828282"/>
<polygon points="349.42,381.53 351.79,382.08 351.82,380.64 349.45,380.09" fill="#2a2a2a"/>
<polygon points="318.82,384.02 321.16,384.59 323.63,383.40 321.29,382.84" fill="#828282"/>
<polygon points="318.79,385.48 321.14,386.05 321.16,384.59 318.82,384.02" fill="#2a2a2a"/>
<polygon points="341.89,381.06 344.25,381.62 346.59,380.46 344.23,379.91" fill="#828282"/>
<polygon points="341.86,382.50 344.22,383.06 344.25,381.62 341.89,381.06" fill="#2a2a2a"/>
<polygon points="326.57,383.02 328.92,383.59 331.35,382.41 329.00,381.85" fill="#828282"/>
<polygon points="326.55,384.48 328.90,385.05 328.92,383.59 326.57,383.02" fill="#2a2a2a"/>
<polygon points="334.26,382.04 336.62,382.60 339.00,381.43 336.64,380.88" fill="#828282"/>
<polygon points="334.23,383.49 336.59,384.05 336.62,382.60 334.26,382.04" fill="#2a2a2a"/>
<polygon points="360.79,380.01 363.18,380.56 365.42,379.41 363.04,378.87" fill="#828282"/>
<polygon points="360.76,381.45 363.15,382.00 363.18,380.56 360.79,380.01" fill="#2a2a2a"/>
<polygon points="353.28,380.98 355.66,381.53 357.94,380.38 355.57,379.83" fill="#828282"/>
<polygon points="353.25,382.42 355.63,382.98 355.66,381.53 353.28,380.98" fill="#2a2a2a"/>
<polygon points="345.70,381.96 348.08,382.52 350.41,381.35 348.03,380.80" fill="#828282"/>
<polygon points="345.67,383.40 348.05,383.97 348.08,382.52 345.70,381.96" fill="#2a2a2a"/>
<polygon points="322.61,384.94 324.97,385.51 327.43,384.32 325.07,383.75" fill="#828282"/>
<polygon points="322.58,386.40 324.94,386.98 324.97,385.51 322.61,384.94" fill="#2a2a2a"/>
<polygon points="338.07,382.94 340.44,383.51 342.81,382.33 340.44,381.77" fill="#828282"/>
<polygon points="338.04,384.39 340.41,384.96 340.44,383.51 338.07,382.94" fill="#2a2a2a"/>
<polygon points="330.37,383.94 332.74,384.50 335.15,383.32 332.79,382.76" fill="#828282"/>
<polygon points="330.34,385.39 332.71,385.96 332.74,384.50 330.37,383.94" fill="#2a2a2a"/>
<polygon points="357.13,381.88 359.53,382.43 361.80,381.27 359.41,380.72" fill="#828282"/>
<polygon points="357.10,383.32 359.50,383.88 359.53,382.43 357.13,381.88" fill="#2a2a2a"/>
<polygon points="349.55,382.86 351.94,383.42 354.26,382.25 351.87,381.69" fill="#828282"/>
<polygon points="349.51,384.31 351.91,384.88 351.94,383.42 349.55,382.86" fill="#2a2a2a"/>
<polygon points="341.90,383.85 344.29,384.42 346.65,383.24 344.27,382.67" fill="#828282"/>
<polygon points="341.87,385.31 344.26,385.88 344.29,384.42 341.90,383.85" fill="#2a2a2a"/>
<polygon points="326.42,385.86 328.80,386.44 331.25,385.24 328.88,384.66" fill="#828282"/>
<polygon points="326.39,387.33 328.77,387.91 328.80,386.44 326.42,385.86" fill="#2a2a2a"/>
<polygon points="334.19,384.85 336.58,385.42 338.98,384.23 336.60,383.66" fill="#828282"/>
<polygon points="334.17,386.32 336.55,386.89 336.58,385.42 334.19,384.85" fill="#2a2a2a"/>
<polygon points="353.41,383.77 355.82,384.34 358.13,383.15 355.72,382.59" fill="#828282"/>
<polygon points="353.38,385.23 355.79,385.79 355.82,384.34 353.41,383.77" fill="#2a2a2a"/>
<polygon points="345.76,384.77 348.16,385.34 350.51,384.15 348.11,383.58" fill="#828282"/>
<polygon points="345.73,386.23 348.13,386.80 348.16,385.34 345.76,384.77" fill="#2a2a2a"/>
<polygon points="338.04,385.78 340.44,386.35 342.83,385.15 340.44,384.58" fill="#828282"/>
<polygon points="338.01,387.24 340.41,387.82 340.44,386.35 338.04,385.78" fill="#2a2a2a"/>
<polygon points="330.26,386.79 332.65,387.37 335.09,386.16 332.70,385.59" fill="#828282"/>
<polygon points="330.23,388.27 332.62,388.85 332.65,387.37 330.26,386.79" fill="#2a2a2a"/>
<polygon points="349.64,385.69 352.06,386.27 354.40,385.07 351.99,384.50" fill="#828282"/>
<polygon points="349.61,387.16 352.03,387.73 352.06,386.27 349.64,385.69" fill="#2a2a2a"/>
<polygon points="341.92,386.71 344.33,387.28 346.71,386.08 344.31,385.50" fill="#828282"/>
<polygon points="341.89,388.18 344.30,388.76 344.33,387.28 341.92,386.71" fill="#2a2a2a"/>
<polygon points="334.12,387.73 336.53,388.31 338.96,387.09 336.56,386.51" fill="#828282"/>
<polygon points="334.10,389.21 336.50,389.79 336.53,388.31 334.12,387.73" fill="#2a2a2a"/>
<polygon points="345.81,387.64 348.25,388.22 350.62,387.01 348.19,386.43" fill="#828282"/>
<polygon points="345.78,389.12 348.21,389.70 348.25,388.22 345.81,387.64" fill="#2a2a2a"/>
<polygon points="338.01,388.67 340.44,389.26 342.86,388.03 340.44,387.45" fill="#828282"/>
<polygon points="337.98,390.15 340.41,390.74 340.44,389.26 338.01,388.67" fill="#2a2a2a"/>
<polygon points="341.93,389.62 344.37,390.21 346.78,388.98 344.35,388.39" fill="#828282"/>
<polygon points="341.90,391.11 344.34,391.70 344.37,390.21 341.93,389.62" fill="#2a2a2a"/>
<polygon points="175.58,347.98 180.54,349.18 214.02,337.78 209.16,336.70" fill="#fff"/>
<polygon points="246.82,365.15 251.63,366.31 281.68,352.83 277.01,351.79" fill="#fff"/>
<polygon points="265.03,369.54 270.56,370.88 299.16,356.72 293.81,355.53" fill="#fff"/>
<polygon points="183.68,345.28 184.97,345.59 184.47,307.57 183.17,307.31" fill="#1e1e1e"/>
<polygon points="184.97,345.59 186.26,345.17 185.77,307.22 184.47,307.57" fill="#0a0a0a"/>
<polygon points="183.17,307.31 184.47,307.57 185.77,307.22 184.47,306.96" fill="#333"/>
<polygon points="190.32,346.85 191.63,347.16 191.40,328.27 190.09,327.99" fill="#1e1e1e"/>
<polygon points="191.63,347.16 192.91,346.74 192.70,327.88 191.40,328.27" fill="#0a0a0a"/>
<polygon points="190.09,327.99 191.40,328.27 192.70,327.88 191.38,327.60" fill="#333"/>
<polygon points="303.26,365.70 304.83,366.06 306.56,225.23 304.95,225.06" fill="#1e1e1e"/>
<polygon points="304.83,366.06 305.97,365.57 307.74,225.02 306.56,225.23" fill="#0a0a0a"/>
<polygon points="304.95,225.06 306.56,225.23 307.74,225.02 306.13,224.85" fill="#333"/>
<text x="154.41" y="347.12" class="tc" text-anchor="end">0</text>
<text x="154.17" y="334.39" class="tc" text-anchor="end">0,2</text>
<text x="153.93" y="321.60" class="tc" text-anchor="end">0,4</text>
<text x="153.69" y="308.73" class="tc" text-anchor="end">0,6</text>
<text x="153.45" y="295.80" class="tc" text-anchor="end">0,8</text>
<text x="153.20" y="282.79" class="tc" text-anchor="end">1</text>
<text x="152.96" y="269.72" class="tc" text-anchor="end">1,2</text>
<text x="152.71" y="256.57" class="tc" text-anchor="end">1,4</text>
<text x="152.46" y="243.35" class="tc" text-anchor="end">1,6</text>
<text x="152.21" y="230.06" class="tc" text-anchor="end">1,8</text>
<text x="151.96" y="216.70" class="tc" text-anchor="end">2</text>
<text x="128" y="214.6" class="big">C</text>
<text x="141.6" y="280.45" class="yc" text-anchor="middle" transform="rotate(-90 141.6 280.45)">Absorbance (490nm)</text>
<text x="203.5" y="378.6" class="axc">patient #</text>
<text x="361" y="398.6" class="axc">antigen</text>
<text x="344.10" y="396.90" class="tc2" text-anchor="middle">1</text>
<line x1="344.40" y1="390.10" x2="344.40" y2="393.00" stroke="#bbb" stroke-width="0.4"/>
<text x="349.40" y="394.30" class="tc2" text-anchor="middle">1</text>
<line x1="349.70" y1="387.50" x2="349.70" y2="390.40" stroke="#bbb" stroke-width="0.4"/>
<text x="354.20" y="391.60" class="tc2" text-anchor="middle">2</text>
<line x1="354.50" y1="384.80" x2="354.50" y2="387.70" stroke="#bbb" stroke-width="0.4"/>
<text x="359.00" y="389.20" class="tc2" text-anchor="middle">2</text>
<line x1="359.30" y1="382.40" x2="359.30" y2="385.30" stroke="#bbb" stroke-width="0.4"/>
<text x="363.80" y="387.20" class="tc2" text-anchor="middle">3</text>
<line x1="364.10" y1="380.40" x2="364.10" y2="383.30" stroke="#bbb" stroke-width="0.4"/>
<text x="368.70" y="384.60" class="tc2" text-anchor="middle">3</text>
<line x1="369.00" y1="377.80" x2="369.00" y2="380.70" stroke="#bbb" stroke-width="0.4"/>
</svg></body></html>
